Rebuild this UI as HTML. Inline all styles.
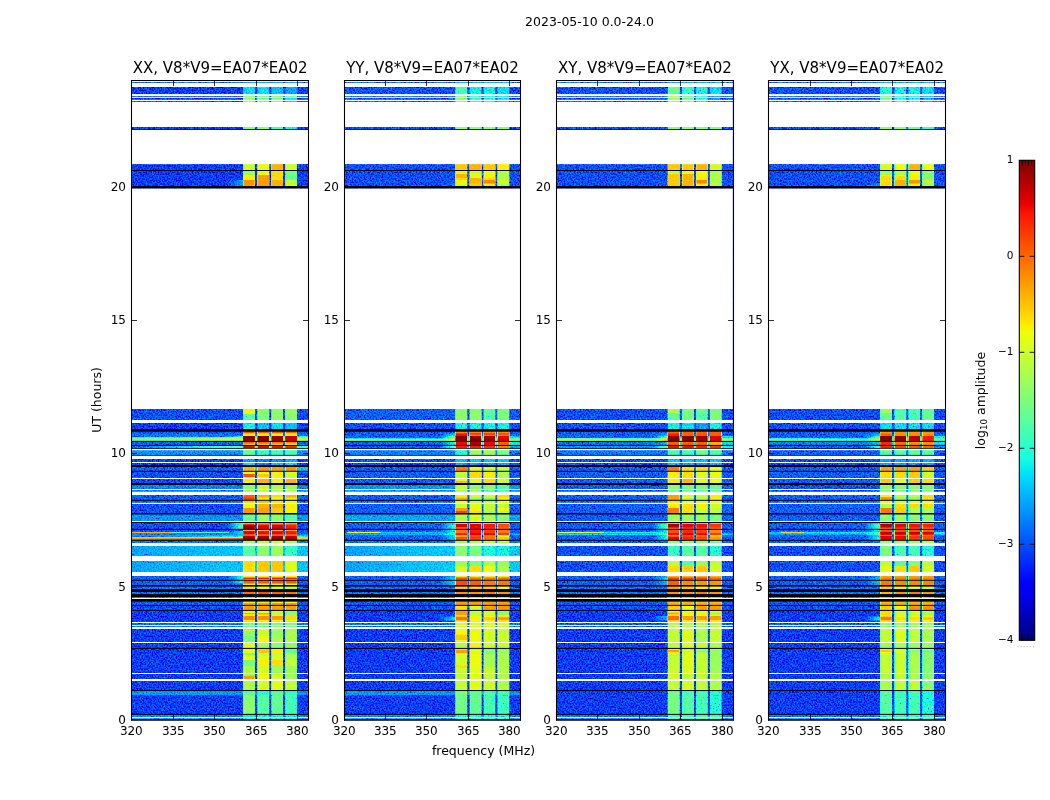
<!DOCTYPE html><html><head><meta charset="utf-8"><title>2023-05-10 0.0-24.0</title><style>html,body{margin:0;padding:0;background:#fff}svg{display:block}text{font-family:"DejaVu Sans","Liberation Sans",sans-serif;fill:#000}.tk{font-size:12px;letter-spacing:-.1px}.tt{font-size:15px}.st{font-size:12.5px}.lb{font-size:12.5px}.cb{font-size:10.5px}</style></head><body><svg width="1050" height="800" viewBox="0 0 1050 800"><defs><linearGradient id="g1" gradientUnits="userSpaceOnUse" x1="131.25" y1="0" x2="243.1" y2="0"><stop offset="0" stop-color="#303030"/><stop offset="0.86" stop-color="#303030"/><stop offset="1" stop-color="#4a4a4a"/></linearGradient><linearGradient id="g2" gradientUnits="userSpaceOnUse" x1="131.25" y1="0" x2="243.1" y2="0"><stop offset="0" stop-color="#3d3d3d"/><stop offset="0.86" stop-color="#3d3d3d"/><stop offset="1" stop-color="#707070"/></linearGradient><linearGradient id="g3" gradientUnits="userSpaceOnUse" x1="131.25" y1="0" x2="243.1" y2="0"><stop offset="0" stop-color="#5e5e5e"/><stop offset="0.86" stop-color="#757575"/><stop offset="1" stop-color="#8a8a8a"/></linearGradient><linearGradient id="g4" gradientUnits="userSpaceOnUse" x1="131.25" y1="0" x2="243.1" y2="0"><stop offset="0" stop-color="#7d7d7d"/><stop offset="0.86" stop-color="#999999"/><stop offset="1" stop-color="#9d9d9d"/></linearGradient><linearGradient id="g5" gradientUnits="userSpaceOnUse" x1="131.25" y1="0" x2="243.1" y2="0"><stop offset="0" stop-color="#6a6a6a"/><stop offset="0.86" stop-color="#7d7d7d"/><stop offset="1" stop-color="#808080"/></linearGradient><linearGradient id="g6" gradientUnits="userSpaceOnUse" x1="131.25" y1="0" x2="243.1" y2="0"><stop offset="0" stop-color="#383838"/><stop offset="0.86" stop-color="#727272"/><stop offset="1" stop-color="#7a7a7a"/></linearGradient><linearGradient id="g7" gradientUnits="userSpaceOnUse" x1="131.25" y1="0" x2="243.1" y2="0"><stop offset="0" stop-color="#343434"/><stop offset="0.86" stop-color="#343434"/><stop offset="1" stop-color="#707070"/></linearGradient><linearGradient id="g8" gradientUnits="userSpaceOnUse" x1="131.25" y1="0" x2="243.1" y2="0"><stop offset="0" stop-color="#343434"/><stop offset="0.86" stop-color="#343434"/><stop offset="1" stop-color="#757575"/></linearGradient><linearGradient id="g9" gradientUnits="userSpaceOnUse" x1="131.25" y1="0" x2="243.1" y2="0"><stop offset="0" stop-color="#383838"/><stop offset="0.86" stop-color="#383838"/><stop offset="1" stop-color="#5e5e5e"/></linearGradient><linearGradient id="g10" gradientUnits="userSpaceOnUse" x1="131.25" y1="0" x2="243.1" y2="0"><stop offset="0" stop-color="#383838"/><stop offset="0.86" stop-color="#5d5d5d"/><stop offset="1" stop-color="#646464"/></linearGradient><linearGradient id="g11" gradientUnits="userSpaceOnUse" x1="131.25" y1="0" x2="243.1" y2="0"><stop offset="0" stop-color="#a3a3a3"/><stop offset="0.86" stop-color="#b5b5b5"/><stop offset="1" stop-color="#b8b8b8"/></linearGradient><linearGradient id="g12" gradientUnits="userSpaceOnUse" x1="131.25" y1="0" x2="243.1" y2="0"><stop offset="0" stop-color="#cfcfcf"/><stop offset="0.86" stop-color="#e6e6e6"/><stop offset="1" stop-color="#ebebeb"/></linearGradient><linearGradient id="g13" gradientUnits="userSpaceOnUse" x1="131.25" y1="0" x2="243.1" y2="0"><stop offset="0" stop-color="#4a4a4a"/><stop offset="0.86" stop-color="#515151"/><stop offset="1" stop-color="#525252"/></linearGradient><linearGradient id="g14" gradientUnits="userSpaceOnUse" x1="131.25" y1="0" x2="243.1" y2="0"><stop offset="0" stop-color="#4a4a4a"/><stop offset="0.86" stop-color="#515151"/><stop offset="1" stop-color="#525252"/></linearGradient><linearGradient id="g15" gradientUnits="userSpaceOnUse" x1="131.25" y1="0" x2="243.1" y2="0"><stop offset="0" stop-color="#383838"/><stop offset="0.86" stop-color="#383838"/><stop offset="1" stop-color="#646464"/></linearGradient><linearGradient id="g16" gradientUnits="userSpaceOnUse" x1="131.25" y1="0" x2="243.1" y2="0"><stop offset="0" stop-color="#383838"/><stop offset="0.86" stop-color="#383838"/><stop offset="1" stop-color="#646464"/></linearGradient><linearGradient id="g17" gradientUnits="userSpaceOnUse" x1="131.25" y1="0" x2="243.1" y2="0"><stop offset="0" stop-color="#383838"/><stop offset="0.86" stop-color="#383838"/><stop offset="1" stop-color="#646464"/></linearGradient><linearGradient id="g18" gradientUnits="userSpaceOnUse" x1="131.25" y1="0" x2="243.1" y2="0"><stop offset="0" stop-color="#383838"/><stop offset="0.86" stop-color="#383838"/><stop offset="1" stop-color="#5e5e5e"/></linearGradient><clipPath id="cp0"><rect x="131.5" y="80.5" width="177" height="639.5"/></clipPath><linearGradient id="g19" gradientUnits="userSpaceOnUse" x1="343.53" y1="0" x2="455.38" y2="0"><stop offset="0" stop-color="#343434"/><stop offset="0.86" stop-color="#343434"/><stop offset="1" stop-color="#414141"/></linearGradient><linearGradient id="g20" gradientUnits="userSpaceOnUse" x1="343.53" y1="0" x2="455.38" y2="0"><stop offset="0" stop-color="#383838"/><stop offset="0.86" stop-color="#383838"/><stop offset="1" stop-color="#515151"/></linearGradient><linearGradient id="g21" gradientUnits="userSpaceOnUse" x1="343.53" y1="0" x2="455.38" y2="0"><stop offset="0" stop-color="#383838"/><stop offset="0.86" stop-color="#383838"/><stop offset="1" stop-color="#5e5e5e"/></linearGradient><linearGradient id="g22" gradientUnits="userSpaceOnUse" x1="343.53" y1="0" x2="455.38" y2="0"><stop offset="0" stop-color="#383838"/><stop offset="0.86" stop-color="#383838"/><stop offset="1" stop-color="#808080"/></linearGradient><linearGradient id="g23" gradientUnits="userSpaceOnUse" x1="343.53" y1="0" x2="455.38" y2="0"><stop offset="0" stop-color="#8a8a8a"/><stop offset="0.86" stop-color="#757575"/><stop offset="1" stop-color="#adadad"/></linearGradient><linearGradient id="g24" gradientUnits="userSpaceOnUse" x1="343.53" y1="0" x2="455.38" y2="0"><stop offset="0" stop-color="#383838"/><stop offset="0.86" stop-color="#383838"/><stop offset="1" stop-color="#646464"/></linearGradient><linearGradient id="g25" gradientUnits="userSpaceOnUse" x1="343.53" y1="0" x2="455.38" y2="0"><stop offset="0" stop-color="#383838"/><stop offset="0.86" stop-color="#383838"/><stop offset="1" stop-color="#7a7a7a"/></linearGradient><linearGradient id="g26" gradientUnits="userSpaceOnUse" x1="343.53" y1="0" x2="455.38" y2="0"><stop offset="0" stop-color="#383838"/><stop offset="0.86" stop-color="#383838"/><stop offset="1" stop-color="#585858"/></linearGradient><linearGradient id="g27" gradientUnits="userSpaceOnUse" x1="343.53" y1="0" x2="455.38" y2="0"><stop offset="0" stop-color="#383838"/><stop offset="0.86" stop-color="#383838"/><stop offset="1" stop-color="#6a6a6a"/></linearGradient><linearGradient id="g28" gradientUnits="userSpaceOnUse" x1="343.53" y1="0" x2="455.38" y2="0"><stop offset="0" stop-color="#383838"/><stop offset="0.86" stop-color="#383838"/><stop offset="1" stop-color="#6a6a6a"/></linearGradient><linearGradient id="g29" gradientUnits="userSpaceOnUse" x1="343.53" y1="0" x2="455.38" y2="0"><stop offset="0" stop-color="#383838"/><stop offset="0.86" stop-color="#383838"/><stop offset="1" stop-color="#646464"/></linearGradient><linearGradient id="g30" gradientUnits="userSpaceOnUse" x1="343.53" y1="0" x2="455.38" y2="0"><stop offset="0" stop-color="#585858"/><stop offset="0.86" stop-color="#585858"/><stop offset="1" stop-color="#7a7a7a"/></linearGradient><linearGradient id="g31" gradientUnits="userSpaceOnUse" x1="343.53" y1="0" x2="455.38" y2="0"><stop offset="0" stop-color="#383838"/><stop offset="0.86" stop-color="#383838"/><stop offset="1" stop-color="#585858"/></linearGradient><linearGradient id="g32" gradientUnits="userSpaceOnUse" x1="343.53" y1="0" x2="455.38" y2="0"><stop offset="0" stop-color="#383838"/><stop offset="0.86" stop-color="#383838"/><stop offset="1" stop-color="#585858"/></linearGradient><linearGradient id="g33" gradientUnits="userSpaceOnUse" x1="343.53" y1="0" x2="455.38" y2="0"><stop offset="0" stop-color="#494949"/><stop offset="0.86" stop-color="#535353"/><stop offset="1" stop-color="#545454"/></linearGradient><linearGradient id="g34" gradientUnits="userSpaceOnUse" x1="343.53" y1="0" x2="455.38" y2="0"><stop offset="0" stop-color="#494949"/><stop offset="0.86" stop-color="#535353"/><stop offset="1" stop-color="#545454"/></linearGradient><linearGradient id="g35" gradientUnits="userSpaceOnUse" x1="343.53" y1="0" x2="455.38" y2="0"><stop offset="0" stop-color="#494949"/><stop offset="0.86" stop-color="#535353"/><stop offset="1" stop-color="#545454"/></linearGradient><linearGradient id="g36" gradientUnits="userSpaceOnUse" x1="343.53" y1="0" x2="455.38" y2="0"><stop offset="0" stop-color="#383838"/><stop offset="0.86" stop-color="#383838"/><stop offset="1" stop-color="#515151"/></linearGradient><linearGradient id="g37" gradientUnits="userSpaceOnUse" x1="343.53" y1="0" x2="455.38" y2="0"><stop offset="0" stop-color="#383838"/><stop offset="0.86" stop-color="#383838"/><stop offset="1" stop-color="#585858"/></linearGradient><linearGradient id="g38" gradientUnits="userSpaceOnUse" x1="343.53" y1="0" x2="455.38" y2="0"><stop offset="0" stop-color="#383838"/><stop offset="0.86" stop-color="#383838"/><stop offset="1" stop-color="#585858"/></linearGradient><linearGradient id="g39" gradientUnits="userSpaceOnUse" x1="343.53" y1="0" x2="455.38" y2="0"><stop offset="0" stop-color="#303030"/><stop offset="0.86" stop-color="#303030"/><stop offset="1" stop-color="#5e5e5e"/></linearGradient><clipPath id="cp1"><rect x="344.5" y="80.5" width="176" height="639.5"/></clipPath><linearGradient id="g40" gradientUnits="userSpaceOnUse" x1="555.95" y1="0" x2="667.8" y2="0"><stop offset="0" stop-color="#383838"/><stop offset="0.86" stop-color="#383838"/><stop offset="1" stop-color="#515151"/></linearGradient><linearGradient id="g41" gradientUnits="userSpaceOnUse" x1="555.95" y1="0" x2="667.8" y2="0"><stop offset="0" stop-color="#383838"/><stop offset="0.86" stop-color="#383838"/><stop offset="1" stop-color="#707070"/></linearGradient><linearGradient id="g42" gradientUnits="userSpaceOnUse" x1="555.95" y1="0" x2="667.8" y2="0"><stop offset="0" stop-color="#9b9b9b"/><stop offset="0.86" stop-color="#808080"/><stop offset="1" stop-color="#b8b8b8"/></linearGradient><linearGradient id="g43" gradientUnits="userSpaceOnUse" x1="555.95" y1="0" x2="667.8" y2="0"><stop offset="0" stop-color="#3d3d3d"/><stop offset="0.86" stop-color="#3d3d3d"/><stop offset="1" stop-color="#515151"/></linearGradient><linearGradient id="g44" gradientUnits="userSpaceOnUse" x1="555.95" y1="0" x2="667.8" y2="0"><stop offset="0" stop-color="#454545"/><stop offset="0.86" stop-color="#454545"/><stop offset="1" stop-color="#7a7a7a"/></linearGradient><linearGradient id="g45" gradientUnits="userSpaceOnUse" x1="555.95" y1="0" x2="667.8" y2="0"><stop offset="0" stop-color="#383838"/><stop offset="0.86" stop-color="#383838"/><stop offset="1" stop-color="#5e5e5e"/></linearGradient><linearGradient id="g46" gradientUnits="userSpaceOnUse" x1="555.95" y1="0" x2="667.8" y2="0"><stop offset="0" stop-color="#383838"/><stop offset="0.86" stop-color="#383838"/><stop offset="1" stop-color="#757575"/></linearGradient><linearGradient id="g47" gradientUnits="userSpaceOnUse" x1="555.95" y1="0" x2="667.8" y2="0"><stop offset="0" stop-color="#383838"/><stop offset="0.86" stop-color="#383838"/><stop offset="1" stop-color="#707070"/></linearGradient><linearGradient id="g48" gradientUnits="userSpaceOnUse" x1="555.95" y1="0" x2="667.8" y2="0"><stop offset="0" stop-color="#383838"/><stop offset="0.86" stop-color="#383838"/><stop offset="1" stop-color="#5e5e5e"/></linearGradient><linearGradient id="g49" gradientUnits="userSpaceOnUse" x1="555.95" y1="0" x2="667.8" y2="0"><stop offset="0" stop-color="#646464"/><stop offset="0.86" stop-color="#646464"/><stop offset="1" stop-color="#808080"/></linearGradient><linearGradient id="g50" gradientUnits="userSpaceOnUse" x1="555.95" y1="0" x2="667.8" y2="0"><stop offset="0" stop-color="#383838"/><stop offset="0.86" stop-color="#383838"/><stop offset="1" stop-color="#5e5e5e"/></linearGradient><linearGradient id="g51" gradientUnits="userSpaceOnUse" x1="555.95" y1="0" x2="667.8" y2="0"><stop offset="0" stop-color="#383838"/><stop offset="0.86" stop-color="#383838"/><stop offset="1" stop-color="#646464"/></linearGradient><linearGradient id="g52" gradientUnits="userSpaceOnUse" x1="555.95" y1="0" x2="667.8" y2="0"><stop offset="0" stop-color="#383838"/><stop offset="0.86" stop-color="#383838"/><stop offset="1" stop-color="#515151"/></linearGradient><linearGradient id="g53" gradientUnits="userSpaceOnUse" x1="555.95" y1="0" x2="667.8" y2="0"><stop offset="0" stop-color="#383838"/><stop offset="0.86" stop-color="#383838"/><stop offset="1" stop-color="#585858"/></linearGradient><linearGradient id="g54" gradientUnits="userSpaceOnUse" x1="555.95" y1="0" x2="667.8" y2="0"><stop offset="0" stop-color="#383838"/><stop offset="0.86" stop-color="#383838"/><stop offset="1" stop-color="#515151"/></linearGradient><linearGradient id="g55" gradientUnits="userSpaceOnUse" x1="555.95" y1="0" x2="667.8" y2="0"><stop offset="0" stop-color="#303030"/><stop offset="0.86" stop-color="#303030"/><stop offset="1" stop-color="#515151"/></linearGradient><clipPath id="cp2"><rect x="556.5" y="80.5" width="177" height="639.5"/></clipPath><linearGradient id="g56" gradientUnits="userSpaceOnUse" x1="768.3" y1="0" x2="880.15" y2="0"><stop offset="0" stop-color="#343434"/><stop offset="0.86" stop-color="#343434"/><stop offset="1" stop-color="#454545"/></linearGradient><linearGradient id="g57" gradientUnits="userSpaceOnUse" x1="768.3" y1="0" x2="880.15" y2="0"><stop offset="0" stop-color="#383838"/><stop offset="0.86" stop-color="#383838"/><stop offset="1" stop-color="#515151"/></linearGradient><linearGradient id="g58" gradientUnits="userSpaceOnUse" x1="768.3" y1="0" x2="880.15" y2="0"><stop offset="0" stop-color="#383838"/><stop offset="0.86" stop-color="#383838"/><stop offset="1" stop-color="#7a7a7a"/></linearGradient><linearGradient id="g59" gradientUnits="userSpaceOnUse" x1="768.3" y1="0" x2="880.15" y2="0"><stop offset="0" stop-color="#7a7a7a"/><stop offset="0.86" stop-color="#6a6a6a"/><stop offset="1" stop-color="#969696"/></linearGradient><linearGradient id="g60" gradientUnits="userSpaceOnUse" x1="768.3" y1="0" x2="880.15" y2="0"><stop offset="0" stop-color="#414141"/><stop offset="0.86" stop-color="#414141"/><stop offset="1" stop-color="#515151"/></linearGradient><linearGradient id="g61" gradientUnits="userSpaceOnUse" x1="768.3" y1="0" x2="880.15" y2="0"><stop offset="0" stop-color="#383838"/><stop offset="0.86" stop-color="#383838"/><stop offset="1" stop-color="#707070"/></linearGradient><linearGradient id="g62" gradientUnits="userSpaceOnUse" x1="768.3" y1="0" x2="880.15" y2="0"><stop offset="0" stop-color="#383838"/><stop offset="0.86" stop-color="#383838"/><stop offset="1" stop-color="#5e5e5e"/></linearGradient><linearGradient id="g63" gradientUnits="userSpaceOnUse" x1="768.3" y1="0" x2="880.15" y2="0"><stop offset="0" stop-color="#383838"/><stop offset="0.86" stop-color="#383838"/><stop offset="1" stop-color="#757575"/></linearGradient><linearGradient id="g64" gradientUnits="userSpaceOnUse" x1="768.3" y1="0" x2="880.15" y2="0"><stop offset="0" stop-color="#383838"/><stop offset="0.86" stop-color="#383838"/><stop offset="1" stop-color="#707070"/></linearGradient><linearGradient id="g65" gradientUnits="userSpaceOnUse" x1="768.3" y1="0" x2="880.15" y2="0"><stop offset="0" stop-color="#383838"/><stop offset="0.86" stop-color="#383838"/><stop offset="1" stop-color="#5e5e5e"/></linearGradient><linearGradient id="g66" gradientUnits="userSpaceOnUse" x1="768.3" y1="0" x2="880.15" y2="0"><stop offset="0" stop-color="#515151"/><stop offset="0.86" stop-color="#515151"/><stop offset="1" stop-color="#7a7a7a"/></linearGradient><linearGradient id="g67" gradientUnits="userSpaceOnUse" x1="768.3" y1="0" x2="880.15" y2="0"><stop offset="0" stop-color="#383838"/><stop offset="0.86" stop-color="#383838"/><stop offset="1" stop-color="#5e5e5e"/></linearGradient><linearGradient id="g68" gradientUnits="userSpaceOnUse" x1="768.3" y1="0" x2="880.15" y2="0"><stop offset="0" stop-color="#383838"/><stop offset="0.86" stop-color="#383838"/><stop offset="1" stop-color="#646464"/></linearGradient><linearGradient id="g69" gradientUnits="userSpaceOnUse" x1="768.3" y1="0" x2="880.15" y2="0"><stop offset="0" stop-color="#383838"/><stop offset="0.86" stop-color="#383838"/><stop offset="1" stop-color="#4a4a4a"/></linearGradient><linearGradient id="g70" gradientUnits="userSpaceOnUse" x1="768.3" y1="0" x2="880.15" y2="0"><stop offset="0" stop-color="#383838"/><stop offset="0.86" stop-color="#383838"/><stop offset="1" stop-color="#515151"/></linearGradient><linearGradient id="g71" gradientUnits="userSpaceOnUse" x1="768.3" y1="0" x2="880.15" y2="0"><stop offset="0" stop-color="#383838"/><stop offset="0.86" stop-color="#383838"/><stop offset="1" stop-color="#515151"/></linearGradient><linearGradient id="g72" gradientUnits="userSpaceOnUse" x1="768.3" y1="0" x2="880.15" y2="0"><stop offset="0" stop-color="#303030"/><stop offset="0.86" stop-color="#303030"/><stop offset="1" stop-color="#5e5e5e"/></linearGradient><clipPath id="cp3"><rect x="768.5" y="80.5" width="177" height="639.5"/></clipPath><filter id="jet" x="-0.02" y="-0.01" width="1.04" height="1.02" color-interpolation-filters="sRGB"><feGaussianBlur in="SourceGraphic" stdDeviation="0.65 0.45" result="sb"/><feColorMatrix in="sb" type="matrix" values="0 0 0 0 1 0 0 0 0 1 0 0 0 0 1 1 0 0 0 0"/><feComponentTransfer result="wm"><feFuncA type="table" tableValues="0.85 0.85 0.85 0.82 0.78 0.58 0.41 0.44 0.6 0.46 0.32 0.26 0.2 0.17 0.13 0.1 0.1 0.1 0.1 0.1 0.1"/></feComponentTransfer><feTurbulence type="fractalNoise" baseFrequency="0.67 0.61" numOctaves="1" seed="7"/><feColorMatrix type="matrix" values="1 0 0 0 0 1 0 0 0 0 1 0 0 0 0 0 0 0 0 1"/><feComponentTransfer result="ng"><feFuncR type="table" tableValues="0.366 0.366 0.366 0.366 0.366 0.366 0.366 0.366 0.366 0.366 0.366 0.366 0.399 0.438 0.469 0.497 0.524 0.554 0.582 0.605 0.625 0.642 0.656 0.668 0.679 0.689 0.697 0.706 0.715 0.724 0.733 0.741 0.748 0.756 0.764 0.771 0.777 0.783 0.789 0.794 0.799 0.804 0.809 0.814 0.819 0.825 0.831 0.837 0.842 0.847 0.851 0.856 0.859 0.862 0.862 0.862 0.862 0.862 0.862 0.862 0.862 0.862 0.862 0.862 0.862"/><feFuncG type="table" tableValues="0.366 0.366 0.366 0.366 0.366 0.366 0.366 0.366 0.366 0.366 0.366 0.366 0.399 0.438 0.469 0.497 0.524 0.554 0.582 0.605 0.625 0.642 0.656 0.668 0.679 0.689 0.697 0.706 0.715 0.724 0.733 0.741 0.748 0.756 0.764 0.771 0.777 0.783 0.789 0.794 0.799 0.804 0.809 0.814 0.819 0.825 0.831 0.837 0.842 0.847 0.851 0.856 0.859 0.862 0.862 0.862 0.862 0.862 0.862 0.862 0.862 0.862 0.862 0.862 0.862"/><feFuncB type="table" tableValues="0.366 0.366 0.366 0.366 0.366 0.366 0.366 0.366 0.366 0.366 0.366 0.366 0.399 0.438 0.469 0.497 0.524 0.554 0.582 0.605 0.625 0.642 0.656 0.668 0.679 0.689 0.697 0.706 0.715 0.724 0.733 0.741 0.748 0.756 0.764 0.771 0.777 0.783 0.789 0.794 0.799 0.804 0.809 0.814 0.819 0.825 0.831 0.837 0.842 0.847 0.851 0.856 0.859 0.862 0.862 0.862 0.862 0.862 0.862 0.862 0.862 0.862 0.862 0.862 0.862"/></feComponentTransfer><feComposite in="ng" in2="wm" operator="in" result="nw"/><feFlood flood-color="rgb(191,191,191)" result="fl"/><feComposite in="nw" in2="fl" operator="over" result="t1"/><feComposite in="sb" in2="t1" operator="arithmetic" k1="0" k2="1" k3="1" k4="-0.749" result="v"/><feComponentTransfer in="v"><feFuncR type="table" tableValues="0 0 0 0 0 0 0 0 0 0 0 0 0 0 0 0 0 0 0 0 0 0 0 0 0 0 0 0 0 0 0 0 0 0 0 0 0.03 0.06 0.1 0.13 0.16 0.19 0.23 0.26 0.29 0.32 0.35 0.39 0.42 0.45 0.48 0.52 0.55 0.58 0.61 0.65 0.68 0.71 0.74 0.77 0.81 0.84 0.87 0.9 0.94 0.97 1 1 1 1 1 1 1 1 1 1 1 1 1 1 1 1 1 1 1 1 1 1 1 1 0.95 0.91 0.86 0.82 0.77 0.73 0.68 0.64 0.59 0.55 0.5"/><feFuncG type="table" tableValues="0 0 0 0 0 0 0 0 0 0 0 0 0 0.02 0.06 0.1 0.14 0.18 0.22 0.26 0.3 0.34 0.38 0.42 0.46 0.5 0.54 0.58 0.62 0.66 0.7 0.74 0.78 0.82 0.86 0.9 0.94 0.98 1 1 1 1 1 1 1 1 1 1 1 1 1 1 1 1 1 1 1 1 1 1 1 1 1 1 1 0.96 0.93 0.89 0.85 0.81 0.78 0.74 0.7 0.67 0.63 0.59 0.56 0.52 0.48 0.44 0.41 0.37 0.33 0.3 0.26 0.22 0.19 0.15 0.11 0.07 0.04 0 0 0 0 0 0 0 0 0 0"/><feFuncB type="table" tableValues="0.5 0.55 0.59 0.64 0.68 0.73 0.77 0.82 0.86 0.91 0.95 1 1 1 1 1 1 1 1 1 1 1 1 1 1 1 1 1 1 1 1 1 1 1 1 0.97 0.94 0.9 0.87 0.84 0.81 0.77 0.74 0.71 0.68 0.65 0.61 0.58 0.55 0.52 0.48 0.45 0.42 0.39 0.35 0.32 0.29 0.26 0.23 0.19 0.16 0.13 0.1 0.06 0.03 0 0 0 0 0 0 0 0 0 0 0 0 0 0 0 0 0 0 0 0 0 0 0 0 0 0 0 0 0 0 0 0 0 0 0 0"/></feComponentTransfer></filter><linearGradient id="cb" x1="0" y1="0" x2="0" y2="1"><stop offset="0" stop-color="rgb(128,0,0)"/><stop offset="0.09" stop-color="rgb(232,0,0)"/><stop offset="0.11" stop-color="rgb(255,19,0)"/><stop offset="0.34" stop-color="rgb(255,233,0)"/><stop offset="0.35" stop-color="rgb(247,244,0)"/><stop offset="0.36" stop-color="rgb(239,255,8)"/><stop offset="0.5" stop-color="rgb(124,255,121)"/><stop offset="0.62" stop-color="rgb(21,255,226)"/><stop offset="0.65" stop-color="rgb(0,229,247)"/><stop offset="0.66" stop-color="rgb(0,219,255)"/><stop offset="0.88" stop-color="rgb(0,0,255)"/><stop offset="0.89" stop-color="rgb(0,0,255)"/><stop offset="1" stop-color="rgb(0,0,128)"/></linearGradient></defs><g clip-path="url(#cp0)"><g filter="url(#jet)"><rect x="129.25" y="78" width="180.9" height="644" fill="#303030"/><rect x="131.25" y="80.95" width="176.9" height="3.15" fill="#383838"/><rect x="131.25" y="85.8" width="176.9" height="9.15" fill="#303030"/><rect x="131.25" y="95.05" width="176.9" height="2.3" fill="#303030"/><rect x="131.25" y="97.35" width="176.9" height="3.05" fill="#303030"/><rect x="131.25" y="100.4" width="176.9" height="2.7" fill="#303030"/><rect x="131.25" y="125.8" width="176.9" height="3.65" fill="#303030"/><rect x="131.25" y="162.9" width="176.9" height="7.6" fill="#303030"/><rect x="131.25" y="170.5" width="176.9" height="5.5" fill="#303030"/><rect x="131.25" y="175" width="176.9" height="6" fill="#303030"/><rect x="131.25" y="180" width="112.35" height="7.2" fill="url(#g1)"/><rect x="243.1" y="180" width="65.05" height="7.2" fill="#303030"/><rect x="131.25" y="407.8" width="176.9" height="7.2" fill="#343434"/><rect x="131.25" y="414" width="176.9" height="7.2" fill="#343434"/><rect x="131.25" y="421.8" width="176.9" height="8.4" fill="#303030"/><rect x="131.25" y="430.5" width="176.9" height="3.7" fill="#383838"/><rect x="131.25" y="433.2" width="176.9" height="3.8" fill="#3d3d3d"/><rect x="131.25" y="436" width="112.35" height="2" fill="url(#g2)"/><rect x="243.1" y="436" width="65.05" height="2" fill="#646464"/><rect x="131.25" y="437" width="112.35" height="2.2" fill="url(#g3)"/><rect x="243.1" y="437" width="65.05" height="2.2" fill="#7a7a7a"/><rect x="131.25" y="438.2" width="112.35" height="3.2" fill="url(#g4)"/><rect x="243.1" y="438.2" width="65.05" height="3.2" fill="#9b9b9b"/><rect x="131.25" y="440.4" width="112.35" height="1" fill="url(#g5)"/><rect x="243.1" y="440.4" width="65.05" height="1" fill="#808080"/><rect x="131.25" y="441.4" width="176.9" height="3.1" fill="#383838"/><rect x="131.25" y="443.5" width="176.9" height="1.9" fill="#383838"/><rect x="131.25" y="445.4" width="112.35" height="3.1" fill="url(#g6)"/><rect x="243.1" y="445.4" width="65.05" height="3.1" fill="#707070"/><rect x="131.25" y="449.55" width="176.9" height="5.8" fill="#454545"/><rect x="131.25" y="457.8" width="176.9" height="4.7" fill="#303030"/><rect x="131.25" y="462.5" width="176.9" height="3.5" fill="#303030"/><rect x="131.25" y="466" width="176.9" height="5.3" fill="#383838"/><rect x="296.9" y="466" width="11.25" height="5.3" fill="#515151"/><rect x="131.25" y="471.3" width="176.9" height="3.7" fill="#343434"/><rect x="131.25" y="474" width="176.9" height="4" fill="#343434"/><rect x="131.25" y="477" width="176.9" height="1.5" fill="#343434"/><rect x="131.25" y="478.5" width="176.9" height="5.5" fill="#343434"/><rect x="131.25" y="484" width="176.9" height="5.5" fill="#414141"/><rect x="131.25" y="489.5" width="176.9" height="3.5" fill="#414141"/><rect x="131.25" y="493.8" width="176.9" height="4.7" fill="#383838"/><rect x="131.25" y="497.5" width="176.9" height="2.8" fill="#383838"/><rect x="131.25" y="500.3" width="176.9" height="3.1" fill="#383838"/><rect x="131.25" y="503.4" width="176.9" height="5.6" fill="#343434"/><rect x="131.25" y="508" width="176.9" height="5.75" fill="#343434"/><rect x="131.25" y="513.75" width="176.9" height="7.75" fill="#454545"/><rect x="131.25" y="522.5" width="112.35" height="3" fill="url(#g7)"/><rect x="243.1" y="522.5" width="65.05" height="3" fill="#343434"/><rect x="131.25" y="524.5" width="112.35" height="4.85" fill="url(#g8)"/><rect x="243.1" y="524.5" width="65.05" height="4.85" fill="#343434"/><rect x="131.25" y="529.35" width="176.9" height="2.65" fill="#343434"/><rect x="131.25" y="531" width="112.35" height="4.5" fill="url(#g9)"/><rect x="243.1" y="531" width="65.05" height="4.5" fill="#383838"/><rect x="131.25" y="534.5" width="176.9" height="2.2" fill="#4a4a4a"/><rect x="131.25" y="535.7" width="112.35" height="2.8" fill="url(#g10)"/><rect x="243.1" y="535.7" width="65.05" height="2.8" fill="#646464"/><rect x="131.25" y="537.5" width="112.35" height="2" fill="url(#g11)"/><rect x="243.1" y="537.5" width="65.05" height="2" fill="#a3a3a3"/><rect x="131.25" y="538.5" width="112.35" height="1.8" fill="url(#g12)"/><rect x="243.1" y="538.5" width="65.05" height="1.8" fill="#c4c4c4"/><rect x="131.25" y="540.3" width="176.9" height="3.9" fill="#3d3d3d"/><rect x="131.25" y="544.8" width="112.35" height="12.4" fill="url(#g13)"/><rect x="243.1" y="544.8" width="65.05" height="12.4" fill="#525252"/><rect x="131.25" y="559.8" width="112.35" height="13.4" fill="url(#g14)"/><rect x="243.1" y="559.8" width="65.05" height="13.4" fill="#525252"/><rect x="131.25" y="574.8" width="112.35" height="3.7" fill="url(#g15)"/><rect x="243.1" y="574.8" width="65.05" height="3.7" fill="#383838"/><rect x="131.25" y="577.5" width="112.35" height="2.5" fill="url(#g16)"/><rect x="243.1" y="577.5" width="65.05" height="2.5" fill="#383838"/><rect x="131.25" y="579" width="112.35" height="1.3" fill="url(#g17)"/><rect x="243.1" y="579" width="65.05" height="1.3" fill="#383838"/><rect x="131.25" y="580.3" width="112.35" height="4.2" fill="url(#g18)"/><rect x="243.1" y="580.3" width="65.05" height="4.2" fill="#383838"/><rect x="131.25" y="583.5" width="176.9" height="2.3" fill="#383838"/><rect x="131.25" y="585.8" width="176.9" height="4.4" fill="#3d3d3d"/><rect x="131.25" y="590.8" width="176.9" height="4.4" fill="#3d3d3d"/><rect x="131.25" y="595.8" width="176.9" height="2.7" fill="#414141"/><rect x="131.25" y="600.4" width="176.9" height="3.6" fill="#383838"/><rect x="131.25" y="603" width="176.9" height="2.35" fill="#383838"/><rect x="131.25" y="605.35" width="176.9" height="5.05" fill="#343434"/><rect x="131.25" y="610.4" width="176.9" height="3.6" fill="#303030"/><rect x="131.25" y="613" width="176.9" height="2.5" fill="#303030"/><rect x="131.25" y="614.5" width="176.9" height="2.5" fill="#303030"/><rect x="131.25" y="616" width="176.9" height="5.5" fill="#303030"/><rect x="131.25" y="620.5" width="176.9" height="2" fill="#303030"/><rect x="131.25" y="622.5" width="176.9" height="3" fill="#3d3d3d"/><rect x="131.25" y="625.5" width="176.9" height="2.5" fill="#3d3d3d"/><rect x="131.25" y="628" width="176.9" height="3.5" fill="#303030"/><rect x="131.25" y="630.5" width="176.9" height="6.5" fill="#303030"/><rect x="131.25" y="636" width="176.9" height="6.5" fill="#303030"/><rect x="131.25" y="642.5" width="176.9" height="5.9" fill="#303030"/><rect x="131.25" y="648.4" width="176.9" height="5.6" fill="#303030"/><rect x="131.25" y="653" width="176.9" height="3" fill="#303030"/><rect x="131.25" y="655" width="176.9" height="6" fill="#303030"/><rect x="131.25" y="660" width="176.9" height="7" fill="#303030"/><rect x="131.25" y="666" width="176.9" height="7.5" fill="#303030"/><rect x="131.25" y="673.5" width="176.9" height="3.5" fill="#303030"/><rect x="131.25" y="676" width="176.9" height="4" fill="#303030"/><rect x="131.25" y="680" width="176.9" height="10.55" fill="#303030"/><rect x="131.25" y="690.55" width="176.9" height="5.45" fill="#474747"/><rect x="131.25" y="695" width="176.9" height="19.35" fill="#303030"/><rect x="131.25" y="714.35" width="176.9" height="3.25" fill="#434343"/><rect x="131.25" y="717.6" width="176.9" height="1.9" fill="#434343"/><rect x="254.8" y="80.95" width="2.7" height="3.15" fill="#383838"/><rect x="269.1" y="80.95" width="2.4" height="3.15" fill="#383838"/><rect x="282.9" y="80.95" width="2.4" height="3.15" fill="#383838"/><rect x="243.1" y="80.95" width="11.8" height="3.15" fill="#4a4a4a"/><rect x="257.4" y="80.95" width="11.8" height="3.15" fill="#4a4a4a"/><rect x="271.4" y="80.95" width="11.6" height="3.15" fill="#4a4a4a"/><rect x="285.2" y="80.95" width="11.7" height="3.15" fill="#4a4a4a"/><rect x="254.8" y="85.8" width="2.7" height="9.15" fill="#303030"/><rect x="269.1" y="85.8" width="2.4" height="9.15" fill="#303030"/><rect x="282.9" y="85.8" width="2.4" height="9.15" fill="#303030"/><rect x="243.1" y="85.8" width="11.8" height="9.15" fill="#585858"/><rect x="257.4" y="85.8" width="11.8" height="9.15" fill="#585858"/><rect x="271.4" y="85.8" width="11.6" height="9.15" fill="#515151"/><rect x="285.2" y="85.8" width="11.7" height="9.15" fill="#4a4a4a"/><rect x="254.8" y="95.05" width="2.7" height="2.3" fill="#303030"/><rect x="269.1" y="95.05" width="2.4" height="2.3" fill="#303030"/><rect x="282.9" y="95.05" width="2.4" height="2.3" fill="#303030"/><rect x="243.1" y="95.05" width="11.8" height="2.3" fill="#7a7a7a"/><rect x="257.4" y="95.05" width="11.8" height="2.3" fill="#7a7a7a"/><rect x="271.4" y="95.05" width="11.6" height="2.3" fill="#7a7a7a"/><rect x="285.2" y="95.05" width="11.7" height="2.3" fill="#7a7a7a"/><rect x="254.8" y="97.35" width="2.7" height="3.05" fill="#303030"/><rect x="269.1" y="97.35" width="2.4" height="3.05" fill="#303030"/><rect x="282.9" y="97.35" width="2.4" height="3.05" fill="#303030"/><rect x="243.1" y="97.35" width="11.8" height="3.05" fill="#8a8a8a"/><rect x="257.4" y="97.35" width="11.8" height="3.05" fill="#808080"/><rect x="271.4" y="97.35" width="11.6" height="3.05" fill="#808080"/><rect x="285.2" y="97.35" width="11.7" height="3.05" fill="#585858"/><rect x="254.8" y="100.4" width="2.7" height="2.7" fill="#303030"/><rect x="269.1" y="100.4" width="2.4" height="2.7" fill="#303030"/><rect x="282.9" y="100.4" width="2.4" height="2.7" fill="#303030"/><rect x="243.1" y="100.4" width="11.8" height="2.7" fill="#808080"/><rect x="257.4" y="100.4" width="11.8" height="2.7" fill="#757575"/><rect x="271.4" y="100.4" width="11.6" height="2.7" fill="#7a7a7a"/><rect x="285.2" y="100.4" width="11.7" height="2.7" fill="#515151"/><rect x="254.8" y="125.8" width="2.7" height="3.65" fill="#303030"/><rect x="269.1" y="125.8" width="2.4" height="3.65" fill="#303030"/><rect x="282.9" y="125.8" width="2.4" height="3.65" fill="#303030"/><rect x="243.1" y="125.8" width="11.8" height="3.65" fill="#858585"/><rect x="257.4" y="125.8" width="11.8" height="3.65" fill="#8a8a8a"/><rect x="271.4" y="125.8" width="11.6" height="3.65" fill="#707070"/><rect x="285.2" y="125.8" width="11.7" height="3.65" fill="#5e5e5e"/><rect x="254.8" y="162.9" width="2.7" height="7.6" fill="#303030"/><rect x="269.1" y="162.9" width="2.4" height="7.6" fill="#303030"/><rect x="282.9" y="162.9" width="2.4" height="7.6" fill="#303030"/><rect x="243.1" y="162.9" width="11.8" height="7.6" fill="#969696"/><rect x="257.4" y="162.9" width="11.8" height="7.6" fill="#a3a3a3"/><rect x="271.4" y="162.9" width="11.6" height="7.6" fill="#b8b8b8"/><rect x="285.2" y="162.9" width="11.7" height="7.6" fill="#9b9b9b"/><rect x="254.8" y="170.5" width="2.7" height="5.5" fill="#303030"/><rect x="269.1" y="170.5" width="2.4" height="5.5" fill="#303030"/><rect x="282.9" y="170.5" width="2.4" height="5.5" fill="#303030"/><rect x="243.1" y="170.5" width="11.8" height="5.5" fill="#8a8a8a"/><rect x="257.4" y="170.5" width="11.8" height="5.5" fill="#a3a3a3"/><rect x="271.4" y="170.5" width="11.6" height="5.5" fill="#adadad"/><rect x="285.2" y="170.5" width="11.7" height="5.5" fill="#808080"/><rect x="254.8" y="175" width="2.7" height="6" fill="#303030"/><rect x="269.1" y="175" width="2.4" height="6" fill="#303030"/><rect x="282.9" y="175" width="2.4" height="6" fill="#303030"/><rect x="243.1" y="175" width="11.8" height="6" fill="#a7a7a7"/><rect x="257.4" y="175" width="11.8" height="6" fill="#bdbdbd"/><rect x="271.4" y="175" width="11.6" height="6" fill="#adadad"/><rect x="285.2" y="175" width="11.7" height="6" fill="#7a7a7a"/><rect x="254.8" y="180" width="2.7" height="7.2" fill="#303030"/><rect x="269.1" y="180" width="2.4" height="7.2" fill="#303030"/><rect x="282.9" y="180" width="2.4" height="7.2" fill="#303030"/><rect x="243.1" y="180" width="11.8" height="7.2" fill="#c1c1c1"/><rect x="257.4" y="180" width="11.8" height="7.2" fill="#bdbdbd"/><rect x="271.4" y="180" width="11.6" height="7.2" fill="#b8b8b8"/><rect x="285.2" y="180" width="11.7" height="7.2" fill="#969696"/><rect x="254.8" y="407.8" width="2.7" height="7.2" fill="#343434"/><rect x="269.1" y="407.8" width="2.4" height="7.2" fill="#343434"/><rect x="282.9" y="407.8" width="2.4" height="7.2" fill="#343434"/><rect x="243.1" y="407.8" width="11.8" height="7.2" fill="#a7a7a7"/><rect x="257.4" y="407.8" width="11.8" height="7.2" fill="#858585"/><rect x="271.4" y="407.8" width="11.6" height="7.2" fill="#858585"/><rect x="285.2" y="407.8" width="11.7" height="7.2" fill="#8a8a8a"/><rect x="254.8" y="414" width="2.7" height="7.2" fill="#343434"/><rect x="269.1" y="414" width="2.4" height="7.2" fill="#343434"/><rect x="282.9" y="414" width="2.4" height="7.2" fill="#343434"/><rect x="243.1" y="414" width="11.8" height="7.2" fill="#757575"/><rect x="257.4" y="414" width="11.8" height="7.2" fill="#808080"/><rect x="271.4" y="414" width="11.6" height="7.2" fill="#858585"/><rect x="285.2" y="414" width="11.7" height="7.2" fill="#858585"/><rect x="254.8" y="421.8" width="2.7" height="8.4" fill="#303030"/><rect x="269.1" y="421.8" width="2.4" height="8.4" fill="#303030"/><rect x="282.9" y="421.8" width="2.4" height="8.4" fill="#303030"/><rect x="243.1" y="421.8" width="11.8" height="8.4" fill="#5e5e5e"/><rect x="257.4" y="421.8" width="11.8" height="8.4" fill="#515151"/><rect x="271.4" y="421.8" width="11.6" height="8.4" fill="#585858"/><rect x="285.2" y="421.8" width="11.7" height="8.4" fill="#515151"/><rect x="254.8" y="430.5" width="2.7" height="3.7" fill="#383838"/><rect x="269.1" y="430.5" width="2.4" height="3.7" fill="#383838"/><rect x="282.9" y="430.5" width="2.4" height="3.7" fill="#383838"/><rect x="243.1" y="430.5" width="11.8" height="3.7" fill="#d1d1d1"/><rect x="257.4" y="430.5" width="11.8" height="3.7" fill="#cfcfcf"/><rect x="271.4" y="430.5" width="11.6" height="3.7" fill="#cfcfcf"/><rect x="285.2" y="430.5" width="11.7" height="3.7" fill="#cbcbcb"/><rect x="254.8" y="433.2" width="2.7" height="3.8" fill="#3d3d3d"/><rect x="269.1" y="433.2" width="2.4" height="3.8" fill="#3d3d3d"/><rect x="282.9" y="433.2" width="2.4" height="3.8" fill="#3d3d3d"/><rect x="243.1" y="433.2" width="11.8" height="3.8" fill="#a7a7a7"/><rect x="257.4" y="433.2" width="11.8" height="3.8" fill="#a7a7a7"/><rect x="271.4" y="433.2" width="11.6" height="3.8" fill="#a7a7a7"/><rect x="285.2" y="433.2" width="11.7" height="3.8" fill="#a7a7a7"/><rect x="254.8" y="436" width="2.7" height="2" fill="#646464"/><rect x="269.1" y="436" width="2.4" height="2" fill="#646464"/><rect x="282.9" y="436" width="2.4" height="2" fill="#646464"/><rect x="243.1" y="436" width="11.8" height="2" fill="#ffffff"/><rect x="257.4" y="436" width="11.8" height="2" fill="#ffffff"/><rect x="271.4" y="436" width="11.6" height="2" fill="#fafafa"/><rect x="285.2" y="436" width="11.7" height="2" fill="#f0f0f0"/><rect x="254.8" y="437" width="2.7" height="2.2" fill="#7a7a7a"/><rect x="269.1" y="437" width="2.4" height="2.2" fill="#7a7a7a"/><rect x="282.9" y="437" width="2.4" height="2.2" fill="#7a7a7a"/><rect x="243.1" y="437" width="11.8" height="2.2" fill="#ffffff"/><rect x="257.4" y="437" width="11.8" height="2.2" fill="#ffffff"/><rect x="271.4" y="437" width="11.6" height="2.2" fill="#fafafa"/><rect x="285.2" y="437" width="11.7" height="2.2" fill="#f0f0f0"/><rect x="254.8" y="438.2" width="2.7" height="3.2" fill="#9b9b9b"/><rect x="269.1" y="438.2" width="2.4" height="3.2" fill="#9b9b9b"/><rect x="282.9" y="438.2" width="2.4" height="3.2" fill="#9b9b9b"/><rect x="243.1" y="438.2" width="11.8" height="3.2" fill="#ffffff"/><rect x="257.4" y="438.2" width="11.8" height="3.2" fill="#ffffff"/><rect x="271.4" y="438.2" width="11.6" height="3.2" fill="#fafafa"/><rect x="285.2" y="438.2" width="11.7" height="3.2" fill="#f0f0f0"/><rect x="254.8" y="440.4" width="2.7" height="1" fill="#808080"/><rect x="269.1" y="440.4" width="2.4" height="1" fill="#808080"/><rect x="282.9" y="440.4" width="2.4" height="1" fill="#808080"/><rect x="243.1" y="440.4" width="11.8" height="1" fill="#ffffff"/><rect x="257.4" y="440.4" width="11.8" height="1" fill="#ffffff"/><rect x="271.4" y="440.4" width="11.6" height="1" fill="#fafafa"/><rect x="285.2" y="440.4" width="11.7" height="1" fill="#f0f0f0"/><rect x="254.8" y="441.4" width="2.7" height="3.1" fill="#383838"/><rect x="269.1" y="441.4" width="2.4" height="3.1" fill="#383838"/><rect x="282.9" y="441.4" width="2.4" height="3.1" fill="#383838"/><rect x="243.1" y="441.4" width="11.8" height="3.1" fill="#d1d1d1"/><rect x="257.4" y="441.4" width="11.8" height="3.1" fill="#cfcfcf"/><rect x="271.4" y="441.4" width="11.6" height="3.1" fill="#cbcbcb"/><rect x="285.2" y="441.4" width="11.7" height="3.1" fill="#c4c4c4"/><rect x="254.8" y="443.5" width="2.7" height="1.9" fill="#383838"/><rect x="269.1" y="443.5" width="2.4" height="1.9" fill="#383838"/><rect x="282.9" y="443.5" width="2.4" height="1.9" fill="#383838"/><rect x="243.1" y="443.5" width="11.8" height="1.9" fill="#adadad"/><rect x="257.4" y="443.5" width="11.8" height="1.9" fill="#adadad"/><rect x="271.4" y="443.5" width="11.6" height="1.9" fill="#adadad"/><rect x="285.2" y="443.5" width="11.7" height="1.9" fill="#a3a3a3"/><rect x="254.8" y="445.4" width="2.7" height="3.1" fill="#707070"/><rect x="269.1" y="445.4" width="2.4" height="3.1" fill="#707070"/><rect x="282.9" y="445.4" width="2.4" height="3.1" fill="#707070"/><rect x="243.1" y="445.4" width="11.8" height="3.1" fill="#ebebeb"/><rect x="257.4" y="445.4" width="11.8" height="3.1" fill="#ebebeb"/><rect x="271.4" y="445.4" width="11.6" height="3.1" fill="#e6e6e6"/><rect x="285.2" y="445.4" width="11.7" height="3.1" fill="#e2e2e2"/><rect x="254.8" y="449.55" width="2.7" height="5.8" fill="#454545"/><rect x="269.1" y="449.55" width="2.4" height="5.8" fill="#454545"/><rect x="282.9" y="449.55" width="2.4" height="5.8" fill="#454545"/><rect x="243.1" y="449.55" width="11.8" height="5.8" fill="#7a7a7a"/><rect x="257.4" y="449.55" width="11.8" height="5.8" fill="#6a6a6a"/><rect x="271.4" y="449.55" width="11.6" height="5.8" fill="#707070"/><rect x="285.2" y="449.55" width="11.7" height="5.8" fill="#707070"/><rect x="254.8" y="457.8" width="2.7" height="4.7" fill="#303030"/><rect x="269.1" y="457.8" width="2.4" height="4.7" fill="#303030"/><rect x="282.9" y="457.8" width="2.4" height="4.7" fill="#303030"/><rect x="243.1" y="457.8" width="11.8" height="4.7" fill="#4a4a4a"/><rect x="257.4" y="457.8" width="11.8" height="4.7" fill="#414141"/><rect x="271.4" y="457.8" width="11.6" height="4.7" fill="#454545"/><rect x="285.2" y="457.8" width="11.7" height="4.7" fill="#4a4a4a"/><rect x="254.8" y="462.5" width="2.7" height="3.5" fill="#303030"/><rect x="269.1" y="462.5" width="2.4" height="3.5" fill="#303030"/><rect x="282.9" y="462.5" width="2.4" height="3.5" fill="#303030"/><rect x="243.1" y="462.5" width="11.8" height="3.5" fill="#585858"/><rect x="257.4" y="462.5" width="11.8" height="3.5" fill="#454545"/><rect x="271.4" y="462.5" width="11.6" height="3.5" fill="#515151"/><rect x="285.2" y="462.5" width="11.7" height="3.5" fill="#585858"/><rect x="254.8" y="466" width="2.7" height="5.3" fill="#515151"/><rect x="269.1" y="466" width="2.4" height="5.3" fill="#515151"/><rect x="282.9" y="466" width="2.4" height="5.3" fill="#515151"/><rect x="243.1" y="466" width="11.8" height="5.3" fill="#b8b8b8"/><rect x="257.4" y="466" width="11.8" height="5.3" fill="#c1c1c1"/><rect x="271.4" y="466" width="11.6" height="5.3" fill="#bdbdbd"/><rect x="285.2" y="466" width="11.7" height="5.3" fill="#c1c1c1"/><rect x="254.8" y="471.3" width="2.7" height="3.7" fill="#343434"/><rect x="269.1" y="471.3" width="2.4" height="3.7" fill="#343434"/><rect x="282.9" y="471.3" width="2.4" height="3.7" fill="#343434"/><rect x="243.1" y="471.3" width="11.8" height="3.7" fill="#a3a3a3"/><rect x="257.4" y="471.3" width="11.8" height="3.7" fill="#a3a3a3"/><rect x="271.4" y="471.3" width="11.6" height="3.7" fill="#a3a3a3"/><rect x="285.2" y="471.3" width="11.7" height="3.7" fill="#9b9b9b"/><rect x="254.8" y="474" width="2.7" height="4" fill="#343434"/><rect x="269.1" y="474" width="2.4" height="4" fill="#343434"/><rect x="282.9" y="474" width="2.4" height="4" fill="#343434"/><rect x="243.1" y="474" width="11.8" height="4" fill="#d4d4d4"/><rect x="257.4" y="474" width="11.8" height="4" fill="#b2b2b2"/><rect x="271.4" y="474" width="11.6" height="4" fill="#a7a7a7"/><rect x="285.2" y="474" width="11.7" height="4" fill="#9b9b9b"/><rect x="254.8" y="477" width="2.7" height="1.5" fill="#343434"/><rect x="269.1" y="477" width="2.4" height="1.5" fill="#343434"/><rect x="282.9" y="477" width="2.4" height="1.5" fill="#343434"/><rect x="243.1" y="477" width="11.8" height="1.5" fill="#a3a3a3"/><rect x="257.4" y="477" width="11.8" height="1.5" fill="#a3a3a3"/><rect x="271.4" y="477" width="11.6" height="1.5" fill="#a3a3a3"/><rect x="285.2" y="477" width="11.7" height="1.5" fill="#9b9b9b"/><rect x="254.8" y="478.5" width="2.7" height="5.5" fill="#343434"/><rect x="269.1" y="478.5" width="2.4" height="5.5" fill="#343434"/><rect x="282.9" y="478.5" width="2.4" height="5.5" fill="#343434"/><rect x="243.1" y="478.5" width="11.8" height="5.5" fill="#a7a7a7"/><rect x="257.4" y="478.5" width="11.8" height="5.5" fill="#b8b8b8"/><rect x="271.4" y="478.5" width="11.6" height="5.5" fill="#a7a7a7"/><rect x="285.2" y="478.5" width="11.7" height="5.5" fill="#b8b8b8"/><rect x="254.8" y="484" width="2.7" height="5.5" fill="#414141"/><rect x="269.1" y="484" width="2.4" height="5.5" fill="#414141"/><rect x="282.9" y="484" width="2.4" height="5.5" fill="#414141"/><rect x="243.1" y="484" width="11.8" height="5.5" fill="#858585"/><rect x="257.4" y="484" width="11.8" height="5.5" fill="#969696"/><rect x="271.4" y="484" width="11.6" height="5.5" fill="#909090"/><rect x="285.2" y="484" width="11.7" height="5.5" fill="#8a8a8a"/><rect x="254.8" y="489.5" width="2.7" height="3.5" fill="#414141"/><rect x="269.1" y="489.5" width="2.4" height="3.5" fill="#414141"/><rect x="282.9" y="489.5" width="2.4" height="3.5" fill="#414141"/><rect x="243.1" y="489.5" width="11.8" height="3.5" fill="#8a8a8a"/><rect x="257.4" y="489.5" width="11.8" height="3.5" fill="#969696"/><rect x="271.4" y="489.5" width="11.6" height="3.5" fill="#909090"/><rect x="285.2" y="489.5" width="11.7" height="3.5" fill="#909090"/><rect x="254.8" y="493.8" width="2.7" height="4.7" fill="#383838"/><rect x="269.1" y="493.8" width="2.4" height="4.7" fill="#383838"/><rect x="282.9" y="493.8" width="2.4" height="4.7" fill="#383838"/><rect x="243.1" y="493.8" width="11.8" height="4.7" fill="#cfcfcf"/><rect x="257.4" y="493.8" width="11.8" height="4.7" fill="#b8b8b8"/><rect x="271.4" y="493.8" width="11.6" height="4.7" fill="#adadad"/><rect x="285.2" y="493.8" width="11.7" height="4.7" fill="#b8b8b8"/><rect x="254.8" y="497.5" width="2.7" height="2.8" fill="#383838"/><rect x="269.1" y="497.5" width="2.4" height="2.8" fill="#383838"/><rect x="282.9" y="497.5" width="2.4" height="2.8" fill="#383838"/><rect x="243.1" y="497.5" width="11.8" height="2.8" fill="#d9d9d9"/><rect x="257.4" y="497.5" width="11.8" height="2.8" fill="#a7a7a7"/><rect x="271.4" y="497.5" width="11.6" height="2.8" fill="#a3a3a3"/><rect x="285.2" y="497.5" width="11.7" height="2.8" fill="#a7a7a7"/><rect x="254.8" y="500.3" width="2.7" height="3.1" fill="#383838"/><rect x="269.1" y="500.3" width="2.4" height="3.1" fill="#383838"/><rect x="282.9" y="500.3" width="2.4" height="3.1" fill="#383838"/><rect x="243.1" y="500.3" width="11.8" height="3.1" fill="#b2b2b2"/><rect x="257.4" y="500.3" width="11.8" height="3.1" fill="#b8b8b8"/><rect x="271.4" y="500.3" width="11.6" height="3.1" fill="#adadad"/><rect x="285.2" y="500.3" width="11.7" height="3.1" fill="#a7a7a7"/><rect x="254.8" y="503.4" width="2.7" height="5.6" fill="#343434"/><rect x="269.1" y="503.4" width="2.4" height="5.6" fill="#343434"/><rect x="282.9" y="503.4" width="2.4" height="5.6" fill="#343434"/><rect x="243.1" y="503.4" width="11.8" height="5.6" fill="#a3a3a3"/><rect x="257.4" y="503.4" width="11.8" height="5.6" fill="#b8b8b8"/><rect x="271.4" y="503.4" width="11.6" height="5.6" fill="#b8b8b8"/><rect x="285.2" y="503.4" width="11.7" height="5.6" fill="#a7a7a7"/><rect x="254.8" y="508" width="2.7" height="5.75" fill="#343434"/><rect x="269.1" y="508" width="2.4" height="5.75" fill="#343434"/><rect x="282.9" y="508" width="2.4" height="5.75" fill="#343434"/><rect x="243.1" y="508" width="11.8" height="5.75" fill="#c1c1c1"/><rect x="257.4" y="508" width="11.8" height="5.75" fill="#bdbdbd"/><rect x="271.4" y="508" width="11.6" height="5.75" fill="#b2b2b2"/><rect x="285.2" y="508" width="11.7" height="5.75" fill="#a7a7a7"/><rect x="254.8" y="513.75" width="2.7" height="7.75" fill="#454545"/><rect x="269.1" y="513.75" width="2.4" height="7.75" fill="#454545"/><rect x="282.9" y="513.75" width="2.4" height="7.75" fill="#454545"/><rect x="243.1" y="513.75" width="11.8" height="7.75" fill="#7a7a7a"/><rect x="257.4" y="513.75" width="11.8" height="7.75" fill="#8a8a8a"/><rect x="271.4" y="513.75" width="11.6" height="7.75" fill="#858585"/><rect x="285.2" y="513.75" width="11.7" height="7.75" fill="#757575"/><rect x="254.8" y="522.5" width="2.7" height="3" fill="#343434"/><rect x="269.1" y="522.5" width="2.4" height="3" fill="#343434"/><rect x="282.9" y="522.5" width="2.4" height="3" fill="#343434"/><rect x="243.1" y="522.5" width="11.8" height="3" fill="#bdbdbd"/><rect x="257.4" y="522.5" width="11.8" height="3" fill="#bdbdbd"/><rect x="271.4" y="522.5" width="11.6" height="3" fill="#bdbdbd"/><rect x="285.2" y="522.5" width="11.7" height="3" fill="#bdbdbd"/><rect x="254.8" y="524.5" width="2.7" height="4.85" fill="#343434"/><rect x="269.1" y="524.5" width="2.4" height="4.85" fill="#343434"/><rect x="282.9" y="524.5" width="2.4" height="4.85" fill="#343434"/><rect x="243.1" y="524.5" width="11.8" height="4.85" fill="#fafafa"/><rect x="257.4" y="524.5" width="11.8" height="4.85" fill="#e8e8e8"/><rect x="271.4" y="524.5" width="11.6" height="4.85" fill="#ebebeb"/><rect x="285.2" y="524.5" width="11.7" height="4.85" fill="#e2e2e2"/><rect x="254.8" y="529.35" width="2.7" height="2.65" fill="#343434"/><rect x="269.1" y="529.35" width="2.4" height="2.65" fill="#343434"/><rect x="282.9" y="529.35" width="2.4" height="2.65" fill="#343434"/><rect x="243.1" y="529.35" width="11.8" height="2.65" fill="#b8b8b8"/><rect x="257.4" y="529.35" width="11.8" height="2.65" fill="#b8b8b8"/><rect x="271.4" y="529.35" width="11.6" height="2.65" fill="#b8b8b8"/><rect x="285.2" y="529.35" width="11.7" height="2.65" fill="#b8b8b8"/><rect x="254.8" y="531" width="2.7" height="4.5" fill="#383838"/><rect x="269.1" y="531" width="2.4" height="4.5" fill="#383838"/><rect x="282.9" y="531" width="2.4" height="4.5" fill="#383838"/><rect x="243.1" y="531" width="11.8" height="4.5" fill="#ededed"/><rect x="257.4" y="531" width="11.8" height="4.5" fill="#e6e6e6"/><rect x="271.4" y="531" width="11.6" height="4.5" fill="#e8e8e8"/><rect x="285.2" y="531" width="11.7" height="4.5" fill="#e4e4e4"/><rect x="254.8" y="534.5" width="2.7" height="2.2" fill="#4a4a4a"/><rect x="269.1" y="534.5" width="2.4" height="2.2" fill="#4a4a4a"/><rect x="282.9" y="534.5" width="2.4" height="2.2" fill="#4a4a4a"/><rect x="243.1" y="534.5" width="11.8" height="2.2" fill="#bdbdbd"/><rect x="257.4" y="534.5" width="11.8" height="2.2" fill="#bdbdbd"/><rect x="271.4" y="534.5" width="11.6" height="2.2" fill="#bdbdbd"/><rect x="285.2" y="534.5" width="11.7" height="2.2" fill="#bdbdbd"/><rect x="254.8" y="535.7" width="2.7" height="2.8" fill="#646464"/><rect x="269.1" y="535.7" width="2.4" height="2.8" fill="#646464"/><rect x="282.9" y="535.7" width="2.4" height="2.8" fill="#646464"/><rect x="243.1" y="535.7" width="11.8" height="2.8" fill="#f5f5f5"/><rect x="257.4" y="535.7" width="11.8" height="2.8" fill="#f5f5f5"/><rect x="271.4" y="535.7" width="11.6" height="2.8" fill="#f5f5f5"/><rect x="285.2" y="535.7" width="11.7" height="2.8" fill="#f0f0f0"/><rect x="254.8" y="537.5" width="2.7" height="2" fill="#a3a3a3"/><rect x="269.1" y="537.5" width="2.4" height="2" fill="#a3a3a3"/><rect x="282.9" y="537.5" width="2.4" height="2" fill="#a3a3a3"/><rect x="243.1" y="537.5" width="11.8" height="2" fill="#ffffff"/><rect x="257.4" y="537.5" width="11.8" height="2" fill="#ffffff"/><rect x="271.4" y="537.5" width="11.6" height="2" fill="#ffffff"/><rect x="285.2" y="537.5" width="11.7" height="2" fill="#fafafa"/><rect x="254.8" y="538.5" width="2.7" height="1.8" fill="#c4c4c4"/><rect x="269.1" y="538.5" width="2.4" height="1.8" fill="#c4c4c4"/><rect x="282.9" y="538.5" width="2.4" height="1.8" fill="#c4c4c4"/><rect x="243.1" y="538.5" width="11.8" height="1.8" fill="#ffffff"/><rect x="257.4" y="538.5" width="11.8" height="1.8" fill="#ffffff"/><rect x="271.4" y="538.5" width="11.6" height="1.8" fill="#ffffff"/><rect x="285.2" y="538.5" width="11.7" height="1.8" fill="#fafafa"/><rect x="254.8" y="540.3" width="2.7" height="3.9" fill="#3d3d3d"/><rect x="269.1" y="540.3" width="2.4" height="3.9" fill="#3d3d3d"/><rect x="282.9" y="540.3" width="2.4" height="3.9" fill="#3d3d3d"/><rect x="243.1" y="540.3" width="11.8" height="3.9" fill="#909090"/><rect x="257.4" y="540.3" width="11.8" height="3.9" fill="#969696"/><rect x="271.4" y="540.3" width="11.6" height="3.9" fill="#9b9b9b"/><rect x="285.2" y="540.3" width="11.7" height="3.9" fill="#909090"/><rect x="254.8" y="544.8" width="2.7" height="12.4" fill="#525252"/><rect x="269.1" y="544.8" width="2.4" height="12.4" fill="#525252"/><rect x="282.9" y="544.8" width="2.4" height="12.4" fill="#525252"/><rect x="243.1" y="544.8" width="11.8" height="12.4" fill="#757575"/><rect x="257.4" y="544.8" width="11.8" height="12.4" fill="#858585"/><rect x="271.4" y="544.8" width="11.6" height="12.4" fill="#8a8a8a"/><rect x="285.2" y="544.8" width="11.7" height="12.4" fill="#6a6a6a"/><rect x="254.8" y="559.8" width="2.7" height="13.4" fill="#525252"/><rect x="269.1" y="559.8" width="2.4" height="13.4" fill="#525252"/><rect x="282.9" y="559.8" width="2.4" height="13.4" fill="#525252"/><rect x="243.1" y="559.8" width="11.8" height="13.4" fill="#adadad"/><rect x="257.4" y="559.8" width="11.8" height="13.4" fill="#b2b2b2"/><rect x="271.4" y="559.8" width="11.6" height="13.4" fill="#b2b2b2"/><rect x="285.2" y="559.8" width="11.7" height="13.4" fill="#9f9f9f"/><rect x="254.8" y="574.8" width="2.7" height="3.7" fill="#383838"/><rect x="269.1" y="574.8" width="2.4" height="3.7" fill="#383838"/><rect x="282.9" y="574.8" width="2.4" height="3.7" fill="#383838"/><rect x="243.1" y="574.8" width="11.8" height="3.7" fill="#a7a7a7"/><rect x="257.4" y="574.8" width="11.8" height="3.7" fill="#a7a7a7"/><rect x="271.4" y="574.8" width="11.6" height="3.7" fill="#a7a7a7"/><rect x="285.2" y="574.8" width="11.7" height="3.7" fill="#a7a7a7"/><rect x="254.8" y="577.5" width="2.7" height="2.5" fill="#383838"/><rect x="269.1" y="577.5" width="2.4" height="2.5" fill="#383838"/><rect x="282.9" y="577.5" width="2.4" height="2.5" fill="#383838"/><rect x="243.1" y="577.5" width="11.8" height="2.5" fill="#e2e2e2"/><rect x="257.4" y="577.5" width="11.8" height="2.5" fill="#e2e2e2"/><rect x="271.4" y="577.5" width="11.6" height="2.5" fill="#e2e2e2"/><rect x="285.2" y="577.5" width="11.7" height="2.5" fill="#e2e2e2"/><rect x="254.8" y="579" width="2.7" height="1.3" fill="#383838"/><rect x="269.1" y="579" width="2.4" height="1.3" fill="#383838"/><rect x="282.9" y="579" width="2.4" height="1.3" fill="#383838"/><rect x="243.1" y="579" width="11.8" height="1.3" fill="#bdbdbd"/><rect x="257.4" y="579" width="11.8" height="1.3" fill="#bdbdbd"/><rect x="271.4" y="579" width="11.6" height="1.3" fill="#bdbdbd"/><rect x="285.2" y="579" width="11.7" height="1.3" fill="#bdbdbd"/><rect x="254.8" y="580.3" width="2.7" height="4.2" fill="#383838"/><rect x="269.1" y="580.3" width="2.4" height="4.2" fill="#383838"/><rect x="282.9" y="580.3" width="2.4" height="4.2" fill="#383838"/><rect x="243.1" y="580.3" width="11.8" height="4.2" fill="#d1d1d1"/><rect x="257.4" y="580.3" width="11.8" height="4.2" fill="#d1d1d1"/><rect x="271.4" y="580.3" width="11.6" height="4.2" fill="#d1d1d1"/><rect x="285.2" y="580.3" width="11.7" height="4.2" fill="#d1d1d1"/><rect x="254.8" y="583.5" width="2.7" height="2.3" fill="#383838"/><rect x="269.1" y="583.5" width="2.4" height="2.3" fill="#383838"/><rect x="282.9" y="583.5" width="2.4" height="2.3" fill="#383838"/><rect x="243.1" y="583.5" width="11.8" height="2.3" fill="#a7a7a7"/><rect x="257.4" y="583.5" width="11.8" height="2.3" fill="#a7a7a7"/><rect x="271.4" y="583.5" width="11.6" height="2.3" fill="#a7a7a7"/><rect x="285.2" y="583.5" width="11.7" height="2.3" fill="#a7a7a7"/><rect x="254.8" y="585.8" width="2.7" height="4.4" fill="#3d3d3d"/><rect x="269.1" y="585.8" width="2.4" height="4.4" fill="#3d3d3d"/><rect x="282.9" y="585.8" width="2.4" height="4.4" fill="#3d3d3d"/><rect x="243.1" y="585.8" width="11.8" height="4.4" fill="#adadad"/><rect x="257.4" y="585.8" width="11.8" height="4.4" fill="#a7a7a7"/><rect x="271.4" y="585.8" width="11.6" height="4.4" fill="#9b9b9b"/><rect x="285.2" y="585.8" width="11.7" height="4.4" fill="#969696"/><rect x="254.8" y="590.8" width="2.7" height="4.4" fill="#3d3d3d"/><rect x="269.1" y="590.8" width="2.4" height="4.4" fill="#3d3d3d"/><rect x="282.9" y="590.8" width="2.4" height="4.4" fill="#3d3d3d"/><rect x="243.1" y="590.8" width="11.8" height="4.4" fill="#cbcbcb"/><rect x="257.4" y="590.8" width="11.8" height="4.4" fill="#d4d4d4"/><rect x="271.4" y="590.8" width="11.6" height="4.4" fill="#cfcfcf"/><rect x="285.2" y="590.8" width="11.7" height="4.4" fill="#cbcbcb"/><rect x="254.8" y="595.8" width="2.7" height="2.7" fill="#414141"/><rect x="269.1" y="595.8" width="2.4" height="2.7" fill="#414141"/><rect x="282.9" y="595.8" width="2.4" height="2.7" fill="#414141"/><rect x="243.1" y="595.8" width="11.8" height="2.7" fill="#b8b8b8"/><rect x="257.4" y="595.8" width="11.8" height="2.7" fill="#b8b8b8"/><rect x="271.4" y="595.8" width="11.6" height="2.7" fill="#b8b8b8"/><rect x="285.2" y="595.8" width="11.7" height="2.7" fill="#b8b8b8"/><rect x="254.8" y="600.4" width="2.7" height="3.6" fill="#383838"/><rect x="269.1" y="600.4" width="2.4" height="3.6" fill="#383838"/><rect x="282.9" y="600.4" width="2.4" height="3.6" fill="#383838"/><rect x="243.1" y="600.4" width="11.8" height="3.6" fill="#a7a7a7"/><rect x="257.4" y="600.4" width="11.8" height="3.6" fill="#a7a7a7"/><rect x="271.4" y="600.4" width="11.6" height="3.6" fill="#a7a7a7"/><rect x="285.2" y="600.4" width="11.7" height="3.6" fill="#a7a7a7"/><rect x="254.8" y="603" width="2.7" height="2.35" fill="#383838"/><rect x="269.1" y="603" width="2.4" height="2.35" fill="#383838"/><rect x="282.9" y="603" width="2.4" height="2.35" fill="#383838"/><rect x="243.1" y="603" width="11.8" height="2.35" fill="#bdbdbd"/><rect x="257.4" y="603" width="11.8" height="2.35" fill="#bdbdbd"/><rect x="271.4" y="603" width="11.6" height="2.35" fill="#bdbdbd"/><rect x="285.2" y="603" width="11.7" height="2.35" fill="#bdbdbd"/><rect x="254.8" y="605.35" width="2.7" height="5.05" fill="#343434"/><rect x="269.1" y="605.35" width="2.4" height="5.05" fill="#343434"/><rect x="282.9" y="605.35" width="2.4" height="5.05" fill="#343434"/><rect x="243.1" y="605.35" width="11.8" height="5.05" fill="#bdbdbd"/><rect x="257.4" y="605.35" width="11.8" height="5.05" fill="#bdbdbd"/><rect x="271.4" y="605.35" width="11.6" height="5.05" fill="#bdbdbd"/><rect x="285.2" y="605.35" width="11.7" height="5.05" fill="#bdbdbd"/><rect x="254.8" y="610.4" width="2.7" height="3.6" fill="#303030"/><rect x="269.1" y="610.4" width="2.4" height="3.6" fill="#303030"/><rect x="282.9" y="610.4" width="2.4" height="3.6" fill="#303030"/><rect x="243.1" y="610.4" width="11.8" height="3.6" fill="#9f9f9f"/><rect x="257.4" y="610.4" width="11.8" height="3.6" fill="#a3a3a3"/><rect x="271.4" y="610.4" width="11.6" height="3.6" fill="#969696"/><rect x="285.2" y="610.4" width="11.7" height="3.6" fill="#858585"/><rect x="254.8" y="613" width="2.7" height="2.5" fill="#303030"/><rect x="269.1" y="613" width="2.4" height="2.5" fill="#303030"/><rect x="282.9" y="613" width="2.4" height="2.5" fill="#303030"/><rect x="243.1" y="613" width="11.8" height="2.5" fill="#bdbdbd"/><rect x="257.4" y="613" width="11.8" height="2.5" fill="#bdbdbd"/><rect x="271.4" y="613" width="11.6" height="2.5" fill="#9b9b9b"/><rect x="285.2" y="613" width="11.7" height="2.5" fill="#858585"/><rect x="254.8" y="614.5" width="2.7" height="2.5" fill="#303030"/><rect x="269.1" y="614.5" width="2.4" height="2.5" fill="#303030"/><rect x="282.9" y="614.5" width="2.4" height="2.5" fill="#303030"/><rect x="243.1" y="614.5" width="11.8" height="2.5" fill="#969696"/><rect x="257.4" y="614.5" width="11.8" height="2.5" fill="#a3a3a3"/><rect x="271.4" y="614.5" width="11.6" height="2.5" fill="#9b9b9b"/><rect x="285.2" y="614.5" width="11.7" height="2.5" fill="#8a8a8a"/><rect x="254.8" y="616" width="2.7" height="5.5" fill="#303030"/><rect x="269.1" y="616" width="2.4" height="5.5" fill="#303030"/><rect x="282.9" y="616" width="2.4" height="5.5" fill="#303030"/><rect x="243.1" y="616" width="11.8" height="5.5" fill="#c4c4c4"/><rect x="257.4" y="616" width="11.8" height="5.5" fill="#c1c1c1"/><rect x="271.4" y="616" width="11.6" height="5.5" fill="#bdbdbd"/><rect x="285.2" y="616" width="11.7" height="5.5" fill="#adadad"/><rect x="254.8" y="620.5" width="2.7" height="2" fill="#303030"/><rect x="269.1" y="620.5" width="2.4" height="2" fill="#303030"/><rect x="282.9" y="620.5" width="2.4" height="2" fill="#303030"/><rect x="243.1" y="620.5" width="11.8" height="2" fill="#8a8a8a"/><rect x="257.4" y="620.5" width="11.8" height="2" fill="#8a8a8a"/><rect x="271.4" y="620.5" width="11.6" height="2" fill="#8a8a8a"/><rect x="285.2" y="620.5" width="11.7" height="2" fill="#8a8a8a"/><rect x="254.8" y="622.5" width="2.7" height="3" fill="#3d3d3d"/><rect x="269.1" y="622.5" width="2.4" height="3" fill="#3d3d3d"/><rect x="282.9" y="622.5" width="2.4" height="3" fill="#3d3d3d"/><rect x="243.1" y="622.5" width="11.8" height="3" fill="#808080"/><rect x="257.4" y="622.5" width="11.8" height="3" fill="#808080"/><rect x="271.4" y="622.5" width="11.6" height="3" fill="#808080"/><rect x="285.2" y="622.5" width="11.7" height="3" fill="#808080"/><rect x="254.8" y="625.5" width="2.7" height="2.5" fill="#3d3d3d"/><rect x="269.1" y="625.5" width="2.4" height="2.5" fill="#3d3d3d"/><rect x="282.9" y="625.5" width="2.4" height="2.5" fill="#3d3d3d"/><rect x="243.1" y="625.5" width="11.8" height="2.5" fill="#808080"/><rect x="257.4" y="625.5" width="11.8" height="2.5" fill="#808080"/><rect x="271.4" y="625.5" width="11.6" height="2.5" fill="#808080"/><rect x="285.2" y="625.5" width="11.7" height="2.5" fill="#808080"/><rect x="254.8" y="628" width="2.7" height="3.5" fill="#303030"/><rect x="269.1" y="628" width="2.4" height="3.5" fill="#303030"/><rect x="282.9" y="628" width="2.4" height="3.5" fill="#303030"/><rect x="243.1" y="628" width="11.8" height="3.5" fill="#b2b2b2"/><rect x="257.4" y="628" width="11.8" height="3.5" fill="#a3a3a3"/><rect x="271.4" y="628" width="11.6" height="3.5" fill="#909090"/><rect x="285.2" y="628" width="11.7" height="3.5" fill="#8a8a8a"/><rect x="254.8" y="630.5" width="2.7" height="6.5" fill="#303030"/><rect x="269.1" y="630.5" width="2.4" height="6.5" fill="#303030"/><rect x="282.9" y="630.5" width="2.4" height="6.5" fill="#303030"/><rect x="243.1" y="630.5" width="11.8" height="6.5" fill="#858585"/><rect x="257.4" y="630.5" width="11.8" height="6.5" fill="#969696"/><rect x="271.4" y="630.5" width="11.6" height="6.5" fill="#8a8a8a"/><rect x="285.2" y="630.5" width="11.7" height="6.5" fill="#909090"/><rect x="254.8" y="636" width="2.7" height="6.5" fill="#303030"/><rect x="269.1" y="636" width="2.4" height="6.5" fill="#303030"/><rect x="282.9" y="636" width="2.4" height="6.5" fill="#303030"/><rect x="243.1" y="636" width="11.8" height="6.5" fill="#808080"/><rect x="257.4" y="636" width="11.8" height="6.5" fill="#a3a3a3"/><rect x="271.4" y="636" width="11.6" height="6.5" fill="#909090"/><rect x="285.2" y="636" width="11.7" height="6.5" fill="#909090"/><rect x="254.8" y="642.5" width="2.7" height="5.9" fill="#303030"/><rect x="269.1" y="642.5" width="2.4" height="5.9" fill="#303030"/><rect x="282.9" y="642.5" width="2.4" height="5.9" fill="#303030"/><rect x="243.1" y="642.5" width="11.8" height="5.9" fill="#9f9f9f"/><rect x="257.4" y="642.5" width="11.8" height="5.9" fill="#909090"/><rect x="271.4" y="642.5" width="11.6" height="5.9" fill="#8a8a8a"/><rect x="285.2" y="642.5" width="11.7" height="5.9" fill="#858585"/><rect x="254.8" y="648.4" width="2.7" height="5.6" fill="#303030"/><rect x="269.1" y="648.4" width="2.4" height="5.6" fill="#303030"/><rect x="282.9" y="648.4" width="2.4" height="5.6" fill="#303030"/><rect x="243.1" y="648.4" width="11.8" height="5.6" fill="#a3a3a3"/><rect x="257.4" y="648.4" width="11.8" height="5.6" fill="#b2b2b2"/><rect x="271.4" y="648.4" width="11.6" height="5.6" fill="#a7a7a7"/><rect x="285.2" y="648.4" width="11.7" height="5.6" fill="#7a7a7a"/><rect x="254.8" y="653" width="2.7" height="3" fill="#303030"/><rect x="269.1" y="653" width="2.4" height="3" fill="#303030"/><rect x="282.9" y="653" width="2.4" height="3" fill="#303030"/><rect x="243.1" y="653" width="11.8" height="3" fill="#808080"/><rect x="257.4" y="653" width="11.8" height="3" fill="#969696"/><rect x="271.4" y="653" width="11.6" height="3" fill="#969696"/><rect x="285.2" y="653" width="11.7" height="3" fill="#909090"/><rect x="254.8" y="655" width="2.7" height="6" fill="#303030"/><rect x="269.1" y="655" width="2.4" height="6" fill="#303030"/><rect x="282.9" y="655" width="2.4" height="6" fill="#303030"/><rect x="243.1" y="655" width="11.8" height="6" fill="#a3a3a3"/><rect x="257.4" y="655" width="11.8" height="6" fill="#9f9f9f"/><rect x="271.4" y="655" width="11.6" height="6" fill="#9b9b9b"/><rect x="285.2" y="655" width="11.7" height="6" fill="#909090"/><rect x="254.8" y="660" width="2.7" height="7" fill="#303030"/><rect x="269.1" y="660" width="2.4" height="7" fill="#303030"/><rect x="282.9" y="660" width="2.4" height="7" fill="#303030"/><rect x="243.1" y="660" width="11.8" height="7" fill="#808080"/><rect x="257.4" y="660" width="11.8" height="7" fill="#a7a7a7"/><rect x="271.4" y="660" width="11.6" height="7" fill="#adadad"/><rect x="285.2" y="660" width="11.7" height="7" fill="#969696"/><rect x="254.8" y="666" width="2.7" height="7.5" fill="#303030"/><rect x="269.1" y="666" width="2.4" height="7.5" fill="#303030"/><rect x="282.9" y="666" width="2.4" height="7.5" fill="#303030"/><rect x="243.1" y="666" width="11.8" height="7.5" fill="#909090"/><rect x="257.4" y="666" width="11.8" height="7.5" fill="#9b9b9b"/><rect x="271.4" y="666" width="11.6" height="7.5" fill="#8a8a8a"/><rect x="285.2" y="666" width="11.7" height="7.5" fill="#8a8a8a"/><rect x="254.8" y="673.5" width="2.7" height="3.5" fill="#303030"/><rect x="269.1" y="673.5" width="2.4" height="3.5" fill="#303030"/><rect x="282.9" y="673.5" width="2.4" height="3.5" fill="#303030"/><rect x="243.1" y="673.5" width="11.8" height="3.5" fill="#858585"/><rect x="257.4" y="673.5" width="11.8" height="3.5" fill="#a3a3a3"/><rect x="271.4" y="673.5" width="11.6" height="3.5" fill="#969696"/><rect x="285.2" y="673.5" width="11.7" height="3.5" fill="#8a8a8a"/><rect x="254.8" y="676" width="2.7" height="4" fill="#303030"/><rect x="269.1" y="676" width="2.4" height="4" fill="#303030"/><rect x="282.9" y="676" width="2.4" height="4" fill="#303030"/><rect x="243.1" y="676" width="11.8" height="4" fill="#bdbdbd"/><rect x="257.4" y="676" width="11.8" height="4" fill="#a3a3a3"/><rect x="271.4" y="676" width="11.6" height="4" fill="#9b9b9b"/><rect x="285.2" y="676" width="11.7" height="4" fill="#8a8a8a"/><rect x="254.8" y="680" width="2.7" height="10.55" fill="#303030"/><rect x="269.1" y="680" width="2.4" height="10.55" fill="#303030"/><rect x="282.9" y="680" width="2.4" height="10.55" fill="#303030"/><rect x="243.1" y="680" width="11.8" height="10.55" fill="#909090"/><rect x="257.4" y="680" width="11.8" height="10.55" fill="#9b9b9b"/><rect x="271.4" y="680" width="11.6" height="10.55" fill="#9f9f9f"/><rect x="285.2" y="680" width="11.7" height="10.55" fill="#969696"/><rect x="254.8" y="690.55" width="2.7" height="5.45" fill="#474747"/><rect x="269.1" y="690.55" width="2.4" height="5.45" fill="#474747"/><rect x="282.9" y="690.55" width="2.4" height="5.45" fill="#474747"/><rect x="243.1" y="690.55" width="11.8" height="5.45" fill="#7a7a7a"/><rect x="257.4" y="690.55" width="11.8" height="5.45" fill="#6a6a6a"/><rect x="271.4" y="690.55" width="11.6" height="5.45" fill="#757575"/><rect x="285.2" y="690.55" width="11.7" height="5.45" fill="#6a6a6a"/><rect x="254.8" y="695" width="2.7" height="19.35" fill="#303030"/><rect x="269.1" y="695" width="2.4" height="19.35" fill="#303030"/><rect x="282.9" y="695" width="2.4" height="19.35" fill="#303030"/><rect x="243.1" y="695" width="11.8" height="19.35" fill="#858585"/><rect x="257.4" y="695" width="11.8" height="19.35" fill="#757575"/><rect x="271.4" y="695" width="11.6" height="19.35" fill="#787878"/><rect x="285.2" y="695" width="11.7" height="19.35" fill="#707070"/><rect x="254.8" y="714.35" width="2.7" height="3.25" fill="#434343"/><rect x="269.1" y="714.35" width="2.4" height="3.25" fill="#434343"/><rect x="282.9" y="714.35" width="2.4" height="3.25" fill="#434343"/><rect x="243.1" y="714.35" width="11.8" height="3.25" fill="#5e5e5e"/><rect x="257.4" y="714.35" width="11.8" height="3.25" fill="#5e5e5e"/><rect x="271.4" y="714.35" width="11.6" height="3.25" fill="#5e5e5e"/><rect x="285.2" y="714.35" width="11.7" height="3.25" fill="#5e5e5e"/><rect x="254.8" y="717.6" width="2.7" height="1.9" fill="#434343"/><rect x="269.1" y="717.6" width="2.4" height="1.9" fill="#434343"/><rect x="282.9" y="717.6" width="2.4" height="1.9" fill="#434343"/><rect x="243.1" y="717.6" width="11.8" height="1.9" fill="#5e5e5e"/><rect x="257.4" y="717.6" width="11.8" height="1.9" fill="#5e5e5e"/><rect x="271.4" y="717.6" width="11.6" height="1.9" fill="#5e5e5e"/><rect x="285.2" y="717.6" width="11.7" height="1.9" fill="#5e5e5e"/><rect x="131.25" y="532.1" width="40" height="1" fill="#c8c8c8"/><rect x="171.25" y="532.1" width="58" height="1" fill="#757575"/></g><rect x="131.25" y="80" width="176.9" height="1.9" fill="#fff"/><rect x="131.25" y="82.9" width="176.9" height="4.1" fill="#fff"/><rect x="131.25" y="94.1" width="176.9" height="1.9" fill="#fff"/><rect x="131.25" y="96.8" width="176.9" height="1.1" fill="#fff"/><rect x="131.25" y="99.8" width="176.9" height="1.2" fill="#fff"/><rect x="131.25" y="101.9" width="176.9" height="25.1" fill="#fff"/><rect x="131.25" y="129" width="176.9" height="0.9" fill="#000"/><rect x="131.25" y="129.9" width="176.9" height="34.2" fill="#fff"/><rect x="131.25" y="170" width="176.9" height="1" fill="#000"/><rect x="131.25" y="186" width="176.9" height="2.6" fill="#000"/><rect x="131.25" y="188.6" width="176.9" height="220.4" fill="#fff"/><rect x="131.25" y="420" width="176.9" height="3" fill="#fff"/><rect x="131.25" y="429" width="176.9" height="2.7" fill="#000"/><rect x="131.25" y="440.9" width="176.9" height="1" fill="#000"/><rect x="131.25" y="444.9" width="176.9" height="1" fill="#000"/><rect x="131.25" y="448.1" width="176.9" height="0.8" fill="#000"/><rect x="131.25" y="448.9" width="176.9" height="1.3" fill="#fff"/><rect x="131.25" y="454.9" width="176.9" height="0.9" fill="#000"/><rect x="131.25" y="455.8" width="176.9" height="3.2" fill="#fff"/><rect x="131.25" y="462" width="176.9" height="1" fill="#fff"/><rect x="131.25" y="465" width="176.9" height="2" fill="#000"/><rect x="131.25" y="470.8" width="176.9" height="1" fill="#000"/><rect x="131.25" y="478" width="176.9" height="1" fill="#fff"/><rect x="131.25" y="483" width="176.9" height="2" fill="#000"/><rect x="131.25" y="489" width="176.9" height="1" fill="#fff"/><rect x="131.25" y="491.8" width="176.9" height="3.2" fill="#fff"/><rect x="131.25" y="499.8" width="176.9" height="1" fill="#000"/><rect x="131.25" y="502.8" width="176.9" height="1.2" fill="#fff"/><rect x="131.25" y="513" width="176.9" height="1.5" fill="#000"/><rect x="131.25" y="521" width="176.9" height="1" fill="#fff"/><rect x="131.25" y="522" width="176.9" height="1" fill="#000"/><rect x="131.25" y="528.85" width="176.9" height="1" fill="#000"/><rect x="131.25" y="539.8" width="176.9" height="1" fill="#000"/><rect x="131.25" y="543" width="176.9" height="3" fill="#fff"/><rect x="131.25" y="556" width="176.9" height="5" fill="#fff"/><rect x="131.25" y="572" width="176.9" height="4" fill="#fff"/><rect x="131.25" y="579.8" width="176.9" height="1" fill="#000"/><rect x="131.25" y="585" width="176.9" height="1.6" fill="#000"/><rect x="131.25" y="589" width="176.9" height="3" fill="#000"/><rect x="131.25" y="594" width="176.9" height="3" fill="#000"/><rect x="131.25" y="598" width="176.9" height="1" fill="#fff"/><rect x="131.25" y="599" width="176.9" height="2.6" fill="#000"/><rect x="131.25" y="604.85" width="176.9" height="1" fill="#000"/><rect x="131.25" y="609.9" width="176.9" height="1" fill="#000"/><rect x="131.25" y="622" width="176.9" height="1" fill="#fff"/><rect x="131.25" y="625" width="176.9" height="1" fill="#fff"/><rect x="131.25" y="627" width="176.9" height="2" fill="#fff"/><rect x="131.25" y="642" width="176.9" height="1" fill="#fff"/><rect x="131.25" y="647.9" width="176.9" height="1" fill="#000"/><rect x="131.25" y="673" width="176.9" height="1" fill="#fff"/><rect x="131.25" y="679" width="176.9" height="2" fill="#fff"/><rect x="131.25" y="690.05" width="176.9" height="1" fill="#000"/><rect x="131.25" y="713.85" width="176.9" height="1" fill="#000"/><rect x="131.25" y="717" width="176.9" height="1.2" fill="#fff"/></g><g clip-path="url(#cp1)"><g filter="url(#jet)"><rect x="341.53" y="78" width="180.9" height="644" fill="#303030"/><rect x="343.53" y="80.95" width="176.9" height="3.15" fill="#383838"/><rect x="343.53" y="85.8" width="176.9" height="9.15" fill="#343434"/><rect x="343.53" y="95.05" width="176.9" height="2.3" fill="#343434"/><rect x="343.53" y="97.35" width="176.9" height="3.05" fill="#343434"/><rect x="343.53" y="100.4" width="176.9" height="2.7" fill="#343434"/><rect x="343.53" y="125.8" width="176.9" height="3.65" fill="#343434"/><rect x="343.53" y="162.9" width="176.9" height="7.6" fill="#343434"/><rect x="343.53" y="170.5" width="176.9" height="4" fill="#343434"/><rect x="343.53" y="173.5" width="176.9" height="5.5" fill="#343434"/><rect x="343.53" y="178" width="176.9" height="3" fill="#343434"/><rect x="343.53" y="180" width="176.9" height="4.5" fill="#343434"/><rect x="343.53" y="183.5" width="112.35" height="3.7" fill="url(#g19)"/><rect x="455.38" y="183.5" width="65.05" height="3.7" fill="#343434"/><rect x="343.53" y="407.8" width="176.9" height="13.4" fill="#383838"/><rect x="343.53" y="421.8" width="176.9" height="8.4" fill="#343434"/><rect x="343.53" y="430.5" width="176.9" height="3.7" fill="#383838"/><rect x="343.53" y="433.2" width="112.35" height="2.5" fill="url(#g20)"/><rect x="455.38" y="433.2" width="65.05" height="2.5" fill="#383838"/><rect x="343.53" y="434.7" width="112.35" height="2.3" fill="url(#g21)"/><rect x="455.38" y="434.7" width="65.05" height="2.3" fill="#383838"/><rect x="343.53" y="436" width="112.35" height="3.5" fill="url(#g22)"/><rect x="455.38" y="436" width="65.05" height="3.5" fill="#585858"/><rect x="343.53" y="438.5" width="112.35" height="2.9" fill="url(#g23)"/><rect x="455.38" y="438.5" width="65.05" height="2.9" fill="#8a8a8a"/><rect x="343.53" y="441.4" width="112.35" height="4" fill="url(#g24)"/><rect x="455.38" y="441.4" width="65.05" height="4" fill="#5e5e5e"/><rect x="343.53" y="445.4" width="112.35" height="3.1" fill="url(#g25)"/><rect x="455.38" y="445.4" width="65.05" height="3.1" fill="#4a4a4a"/><rect x="343.53" y="449.55" width="176.9" height="5.8" fill="#414141"/><rect x="343.53" y="457.8" width="176.9" height="4.7" fill="#343434"/><rect x="343.53" y="462.5" width="176.9" height="3.5" fill="#343434"/><rect x="343.53" y="466" width="176.9" height="5.3" fill="#383838"/><rect x="343.53" y="471.3" width="176.9" height="7.2" fill="#383838"/><rect x="343.53" y="478.5" width="176.9" height="3.5" fill="#383838"/><rect x="343.53" y="481" width="176.9" height="3" fill="#383838"/><rect x="343.53" y="484" width="176.9" height="5.5" fill="#454545"/><rect x="343.53" y="489.5" width="176.9" height="3.5" fill="#454545"/><rect x="343.53" y="493.8" width="176.9" height="4.7" fill="#383838"/><rect x="343.53" y="497.5" width="176.9" height="2.8" fill="#383838"/><rect x="343.53" y="500.3" width="176.9" height="3.1" fill="#383838"/><rect x="343.53" y="503.4" width="176.9" height="5.6" fill="#383838"/><rect x="343.53" y="508" width="176.9" height="4" fill="#383838"/><rect x="343.53" y="511" width="176.9" height="2.75" fill="#383838"/><rect x="343.53" y="513.75" width="176.9" height="7.75" fill="#4a4a4a"/><rect x="343.53" y="522.5" width="112.35" height="2.5" fill="url(#g26)"/><rect x="455.38" y="522.5" width="65.05" height="2.5" fill="#383838"/><rect x="343.53" y="524" width="112.35" height="4" fill="url(#g27)"/><rect x="455.38" y="524" width="65.05" height="4" fill="#383838"/><rect x="343.53" y="527" width="112.35" height="2.35" fill="url(#g28)"/><rect x="455.38" y="527" width="65.05" height="2.35" fill="#383838"/><rect x="343.53" y="529.35" width="112.35" height="5.15" fill="url(#g29)"/><rect x="455.38" y="529.35" width="65.05" height="5.15" fill="#383838"/><rect x="343.53" y="533.5" width="112.35" height="2.2" fill="url(#g30)"/><rect x="455.38" y="533.5" width="65.05" height="2.2" fill="#585858"/><rect x="343.53" y="534.7" width="112.35" height="3.3" fill="url(#g31)"/><rect x="455.38" y="534.7" width="65.05" height="3.3" fill="#383838"/><rect x="343.53" y="537" width="112.35" height="3.3" fill="url(#g32)"/><rect x="455.38" y="537" width="65.05" height="3.3" fill="#383838"/><rect x="343.53" y="540.3" width="176.9" height="3.9" fill="#3d3d3d"/><rect x="343.53" y="544.8" width="112.35" height="12.4" fill="url(#g33)"/><rect x="455.38" y="544.8" width="65.05" height="12.4" fill="#545454"/><rect x="343.53" y="559.8" width="112.35" height="7.2" fill="url(#g34)"/><rect x="455.38" y="559.8" width="65.05" height="7.2" fill="#545454"/><rect x="343.53" y="566" width="112.35" height="7.2" fill="url(#g35)"/><rect x="455.38" y="566" width="65.05" height="7.2" fill="#545454"/><rect x="343.53" y="574.8" width="112.35" height="3.5" fill="url(#g36)"/><rect x="455.38" y="574.8" width="65.05" height="3.5" fill="#383838"/><rect x="343.53" y="577.3" width="112.35" height="3" fill="url(#g37)"/><rect x="455.38" y="577.3" width="65.05" height="3" fill="#383838"/><rect x="343.53" y="580.3" width="112.35" height="5.5" fill="url(#g38)"/><rect x="455.38" y="580.3" width="65.05" height="5.5" fill="#383838"/><rect x="343.53" y="585.8" width="176.9" height="4.4" fill="#3d3d3d"/><rect x="343.53" y="590.8" width="176.9" height="4.4" fill="#3d3d3d"/><rect x="343.53" y="595.8" width="176.9" height="2.7" fill="#414141"/><rect x="343.53" y="600.4" width="176.9" height="4.95" fill="#383838"/><rect x="343.53" y="605.35" width="176.9" height="5.05" fill="#343434"/><rect x="343.53" y="610.4" width="176.9" height="5.6" fill="#303030"/><rect x="343.53" y="615" width="176.9" height="2.5" fill="#303030"/><rect x="343.53" y="616.5" width="112.35" height="5" fill="url(#g39)"/><rect x="455.38" y="616.5" width="65.05" height="5" fill="#303030"/><rect x="343.53" y="620.5" width="176.9" height="2" fill="#303030"/><rect x="343.53" y="622.5" width="176.9" height="3" fill="#3d3d3d"/><rect x="343.53" y="625.5" width="176.9" height="2.5" fill="#3d3d3d"/><rect x="343.53" y="628" width="176.9" height="7.5" fill="#303030"/><rect x="343.53" y="634.5" width="176.9" height="6.5" fill="#303030"/><rect x="343.53" y="640" width="176.9" height="2.5" fill="#303030"/><rect x="343.53" y="642.5" width="176.9" height="5.9" fill="#303030"/><rect x="343.53" y="648.4" width="176.9" height="2.6" fill="#303030"/><rect x="343.53" y="650" width="176.9" height="4" fill="#303030"/><rect x="343.53" y="653" width="176.9" height="13" fill="#303030"/><rect x="343.53" y="665" width="176.9" height="4" fill="#303030"/><rect x="343.53" y="668" width="176.9" height="5.5" fill="#303030"/><rect x="343.53" y="673.5" width="176.9" height="6.5" fill="#303030"/><rect x="343.53" y="680" width="176.9" height="10.55" fill="#303030"/><rect x="343.53" y="690.55" width="176.9" height="5.45" fill="#474747"/><rect x="343.53" y="695" width="176.9" height="19.35" fill="#303030"/><rect x="343.53" y="714.35" width="176.9" height="3.25" fill="#434343"/><rect x="343.53" y="717.6" width="176.9" height="1.9" fill="#434343"/><rect x="467.08" y="80.95" width="2.7" height="3.15" fill="#383838"/><rect x="481.38" y="80.95" width="2.4" height="3.15" fill="#383838"/><rect x="495.18" y="80.95" width="2.4" height="3.15" fill="#383838"/><rect x="455.38" y="80.95" width="11.8" height="3.15" fill="#4a4a4a"/><rect x="469.68" y="80.95" width="11.8" height="3.15" fill="#4a4a4a"/><rect x="483.68" y="80.95" width="11.6" height="3.15" fill="#4a4a4a"/><rect x="497.48" y="80.95" width="11.7" height="3.15" fill="#4a4a4a"/><rect x="467.08" y="85.8" width="2.7" height="9.15" fill="#343434"/><rect x="481.38" y="85.8" width="2.4" height="9.15" fill="#343434"/><rect x="495.18" y="85.8" width="2.4" height="9.15" fill="#343434"/><rect x="455.38" y="85.8" width="11.8" height="9.15" fill="#707070"/><rect x="469.68" y="85.8" width="11.8" height="9.15" fill="#5e5e5e"/><rect x="483.68" y="85.8" width="11.6" height="9.15" fill="#5e5e5e"/><rect x="497.48" y="85.8" width="11.7" height="9.15" fill="#585858"/><rect x="467.08" y="95.05" width="2.7" height="2.3" fill="#343434"/><rect x="481.38" y="95.05" width="2.4" height="2.3" fill="#343434"/><rect x="495.18" y="95.05" width="2.4" height="2.3" fill="#343434"/><rect x="455.38" y="95.05" width="11.8" height="2.3" fill="#808080"/><rect x="469.68" y="95.05" width="11.8" height="2.3" fill="#646464"/><rect x="483.68" y="95.05" width="11.6" height="2.3" fill="#5e5e5e"/><rect x="497.48" y="95.05" width="11.7" height="2.3" fill="#585858"/><rect x="467.08" y="97.35" width="2.7" height="3.05" fill="#343434"/><rect x="481.38" y="97.35" width="2.4" height="3.05" fill="#343434"/><rect x="495.18" y="97.35" width="2.4" height="3.05" fill="#343434"/><rect x="455.38" y="97.35" width="11.8" height="3.05" fill="#858585"/><rect x="469.68" y="97.35" width="11.8" height="3.05" fill="#646464"/><rect x="483.68" y="97.35" width="11.6" height="3.05" fill="#646464"/><rect x="497.48" y="97.35" width="11.7" height="3.05" fill="#585858"/><rect x="467.08" y="100.4" width="2.7" height="2.7" fill="#343434"/><rect x="481.38" y="100.4" width="2.4" height="2.7" fill="#343434"/><rect x="495.18" y="100.4" width="2.4" height="2.7" fill="#343434"/><rect x="455.38" y="100.4" width="11.8" height="2.7" fill="#808080"/><rect x="469.68" y="100.4" width="11.8" height="2.7" fill="#646464"/><rect x="483.68" y="100.4" width="11.6" height="2.7" fill="#5e5e5e"/><rect x="497.48" y="100.4" width="11.7" height="2.7" fill="#515151"/><rect x="467.08" y="125.8" width="2.7" height="3.65" fill="#343434"/><rect x="481.38" y="125.8" width="2.4" height="3.65" fill="#343434"/><rect x="495.18" y="125.8" width="2.4" height="3.65" fill="#343434"/><rect x="455.38" y="125.8" width="11.8" height="3.65" fill="#8a8a8a"/><rect x="469.68" y="125.8" width="11.8" height="3.65" fill="#8a8a8a"/><rect x="483.68" y="125.8" width="11.6" height="3.65" fill="#8a8a8a"/><rect x="497.48" y="125.8" width="11.7" height="3.65" fill="#858585"/><rect x="467.08" y="162.9" width="2.7" height="7.6" fill="#343434"/><rect x="481.38" y="162.9" width="2.4" height="7.6" fill="#343434"/><rect x="495.18" y="162.9" width="2.4" height="7.6" fill="#343434"/><rect x="455.38" y="162.9" width="11.8" height="7.6" fill="#b2b2b2"/><rect x="469.68" y="162.9" width="11.8" height="7.6" fill="#b8b8b8"/><rect x="483.68" y="162.9" width="11.6" height="7.6" fill="#b2b2b2"/><rect x="497.48" y="162.9" width="11.7" height="7.6" fill="#a7a7a7"/><rect x="467.08" y="170.5" width="2.7" height="4" fill="#343434"/><rect x="481.38" y="170.5" width="2.4" height="4" fill="#343434"/><rect x="495.18" y="170.5" width="2.4" height="4" fill="#343434"/><rect x="455.38" y="170.5" width="11.8" height="4" fill="#969696"/><rect x="469.68" y="170.5" width="11.8" height="4" fill="#969696"/><rect x="483.68" y="170.5" width="11.6" height="4" fill="#a3a3a3"/><rect x="497.48" y="170.5" width="11.7" height="4" fill="#909090"/><rect x="467.08" y="173.5" width="2.7" height="5.5" fill="#343434"/><rect x="481.38" y="173.5" width="2.4" height="5.5" fill="#343434"/><rect x="495.18" y="173.5" width="2.4" height="5.5" fill="#343434"/><rect x="455.38" y="173.5" width="11.8" height="5.5" fill="#b8b8b8"/><rect x="469.68" y="173.5" width="11.8" height="5.5" fill="#9f9f9f"/><rect x="483.68" y="173.5" width="11.6" height="5.5" fill="#a7a7a7"/><rect x="497.48" y="173.5" width="11.7" height="5.5" fill="#909090"/><rect x="467.08" y="178" width="2.7" height="3" fill="#343434"/><rect x="481.38" y="178" width="2.4" height="3" fill="#343434"/><rect x="495.18" y="178" width="2.4" height="3" fill="#343434"/><rect x="455.38" y="178" width="11.8" height="3" fill="#adadad"/><rect x="469.68" y="178" width="11.8" height="3" fill="#b8b8b8"/><rect x="483.68" y="178" width="11.6" height="3" fill="#adadad"/><rect x="497.48" y="178" width="11.7" height="3" fill="#909090"/><rect x="467.08" y="180" width="2.7" height="4.5" fill="#343434"/><rect x="481.38" y="180" width="2.4" height="4.5" fill="#343434"/><rect x="495.18" y="180" width="2.4" height="4.5" fill="#343434"/><rect x="455.38" y="180" width="11.8" height="4.5" fill="#a7a7a7"/><rect x="469.68" y="180" width="11.8" height="4.5" fill="#b8b8b8"/><rect x="483.68" y="180" width="11.6" height="4.5" fill="#c4c4c4"/><rect x="497.48" y="180" width="11.7" height="4.5" fill="#9b9b9b"/><rect x="467.08" y="183.5" width="2.7" height="3.7" fill="#343434"/><rect x="481.38" y="183.5" width="2.4" height="3.7" fill="#343434"/><rect x="495.18" y="183.5" width="2.4" height="3.7" fill="#343434"/><rect x="455.38" y="183.5" width="11.8" height="3.7" fill="#969696"/><rect x="469.68" y="183.5" width="11.8" height="3.7" fill="#b2b2b2"/><rect x="483.68" y="183.5" width="11.6" height="3.7" fill="#a7a7a7"/><rect x="497.48" y="183.5" width="11.7" height="3.7" fill="#909090"/><rect x="467.08" y="407.8" width="2.7" height="13.4" fill="#383838"/><rect x="481.38" y="407.8" width="2.4" height="13.4" fill="#383838"/><rect x="495.18" y="407.8" width="2.4" height="13.4" fill="#383838"/><rect x="455.38" y="407.8" width="11.8" height="13.4" fill="#858585"/><rect x="469.68" y="407.8" width="11.8" height="13.4" fill="#858585"/><rect x="483.68" y="407.8" width="11.6" height="13.4" fill="#757575"/><rect x="497.48" y="407.8" width="11.7" height="13.4" fill="#808080"/><rect x="467.08" y="421.8" width="2.7" height="8.4" fill="#343434"/><rect x="481.38" y="421.8" width="2.4" height="8.4" fill="#343434"/><rect x="495.18" y="421.8" width="2.4" height="8.4" fill="#343434"/><rect x="455.38" y="421.8" width="11.8" height="8.4" fill="#5e5e5e"/><rect x="469.68" y="421.8" width="11.8" height="8.4" fill="#5e5e5e"/><rect x="483.68" y="421.8" width="11.6" height="8.4" fill="#5e5e5e"/><rect x="497.48" y="421.8" width="11.7" height="8.4" fill="#5e5e5e"/><rect x="467.08" y="430.5" width="2.7" height="3.7" fill="#383838"/><rect x="481.38" y="430.5" width="2.4" height="3.7" fill="#383838"/><rect x="495.18" y="430.5" width="2.4" height="3.7" fill="#383838"/><rect x="455.38" y="430.5" width="11.8" height="3.7" fill="#c4c4c4"/><rect x="469.68" y="430.5" width="11.8" height="3.7" fill="#c4c4c4"/><rect x="483.68" y="430.5" width="11.6" height="3.7" fill="#c4c4c4"/><rect x="497.48" y="430.5" width="11.7" height="3.7" fill="#c4c4c4"/><rect x="467.08" y="433.2" width="2.7" height="2.5" fill="#383838"/><rect x="481.38" y="433.2" width="2.4" height="2.5" fill="#383838"/><rect x="495.18" y="433.2" width="2.4" height="2.5" fill="#383838"/><rect x="455.38" y="433.2" width="11.8" height="2.5" fill="#e2e2e2"/><rect x="469.68" y="433.2" width="11.8" height="2.5" fill="#dedede"/><rect x="483.68" y="433.2" width="11.6" height="2.5" fill="#dedede"/><rect x="497.48" y="433.2" width="11.7" height="2.5" fill="#d9d9d9"/><rect x="467.08" y="434.7" width="2.7" height="2.3" fill="#383838"/><rect x="481.38" y="434.7" width="2.4" height="2.3" fill="#383838"/><rect x="495.18" y="434.7" width="2.4" height="2.3" fill="#383838"/><rect x="455.38" y="434.7" width="11.8" height="2.3" fill="#e6e6e6"/><rect x="469.68" y="434.7" width="11.8" height="2.3" fill="#c1c1c1"/><rect x="483.68" y="434.7" width="11.6" height="2.3" fill="#c4c4c4"/><rect x="497.48" y="434.7" width="11.7" height="2.3" fill="#c1c1c1"/><rect x="467.08" y="436" width="2.7" height="3.5" fill="#585858"/><rect x="481.38" y="436" width="2.4" height="3.5" fill="#585858"/><rect x="495.18" y="436" width="2.4" height="3.5" fill="#585858"/><rect x="455.38" y="436" width="11.8" height="3.5" fill="#ffffff"/><rect x="469.68" y="436" width="11.8" height="3.5" fill="#fafafa"/><rect x="483.68" y="436" width="11.6" height="3.5" fill="#f5f5f5"/><rect x="497.48" y="436" width="11.7" height="3.5" fill="#e6e6e6"/><rect x="467.08" y="438.5" width="2.7" height="2.9" fill="#8a8a8a"/><rect x="481.38" y="438.5" width="2.4" height="2.9" fill="#8a8a8a"/><rect x="495.18" y="438.5" width="2.4" height="2.9" fill="#8a8a8a"/><rect x="455.38" y="438.5" width="11.8" height="2.9" fill="#ffffff"/><rect x="469.68" y="438.5" width="11.8" height="2.9" fill="#ffffff"/><rect x="483.68" y="438.5" width="11.6" height="2.9" fill="#fafafa"/><rect x="497.48" y="438.5" width="11.7" height="2.9" fill="#ebebeb"/><rect x="467.08" y="441.4" width="2.7" height="4" fill="#5e5e5e"/><rect x="481.38" y="441.4" width="2.4" height="4" fill="#5e5e5e"/><rect x="495.18" y="441.4" width="2.4" height="4" fill="#5e5e5e"/><rect x="455.38" y="441.4" width="11.8" height="4" fill="#e6e6e6"/><rect x="469.68" y="441.4" width="11.8" height="4" fill="#f5f5f5"/><rect x="483.68" y="441.4" width="11.6" height="4" fill="#e6e6e6"/><rect x="497.48" y="441.4" width="11.7" height="4" fill="#cfcfcf"/><rect x="467.08" y="445.4" width="2.7" height="3.1" fill="#4a4a4a"/><rect x="481.38" y="445.4" width="2.4" height="3.1" fill="#4a4a4a"/><rect x="495.18" y="445.4" width="2.4" height="3.1" fill="#4a4a4a"/><rect x="455.38" y="445.4" width="11.8" height="3.1" fill="#e2e2e2"/><rect x="469.68" y="445.4" width="11.8" height="3.1" fill="#e2e2e2"/><rect x="483.68" y="445.4" width="11.6" height="3.1" fill="#dedede"/><rect x="497.48" y="445.4" width="11.7" height="3.1" fill="#c8c8c8"/><rect x="467.08" y="449.55" width="2.7" height="5.8" fill="#414141"/><rect x="481.38" y="449.55" width="2.4" height="5.8" fill="#414141"/><rect x="495.18" y="449.55" width="2.4" height="5.8" fill="#414141"/><rect x="455.38" y="449.55" width="11.8" height="5.8" fill="#646464"/><rect x="469.68" y="449.55" width="11.8" height="5.8" fill="#8a8a8a"/><rect x="483.68" y="449.55" width="11.6" height="5.8" fill="#8a8a8a"/><rect x="497.48" y="449.55" width="11.7" height="5.8" fill="#808080"/><rect x="467.08" y="457.8" width="2.7" height="4.7" fill="#343434"/><rect x="481.38" y="457.8" width="2.4" height="4.7" fill="#343434"/><rect x="495.18" y="457.8" width="2.4" height="4.7" fill="#343434"/><rect x="455.38" y="457.8" width="11.8" height="4.7" fill="#515151"/><rect x="469.68" y="457.8" width="11.8" height="4.7" fill="#515151"/><rect x="483.68" y="457.8" width="11.6" height="4.7" fill="#515151"/><rect x="497.48" y="457.8" width="11.7" height="4.7" fill="#515151"/><rect x="467.08" y="462.5" width="2.7" height="3.5" fill="#343434"/><rect x="481.38" y="462.5" width="2.4" height="3.5" fill="#343434"/><rect x="495.18" y="462.5" width="2.4" height="3.5" fill="#343434"/><rect x="455.38" y="462.5" width="11.8" height="3.5" fill="#4a4a4a"/><rect x="469.68" y="462.5" width="11.8" height="3.5" fill="#4a4a4a"/><rect x="483.68" y="462.5" width="11.6" height="3.5" fill="#4a4a4a"/><rect x="497.48" y="462.5" width="11.7" height="3.5" fill="#4a4a4a"/><rect x="467.08" y="466" width="2.7" height="5.3" fill="#383838"/><rect x="481.38" y="466" width="2.4" height="5.3" fill="#383838"/><rect x="495.18" y="466" width="2.4" height="5.3" fill="#383838"/><rect x="455.38" y="466" width="11.8" height="5.3" fill="#c8c8c8"/><rect x="469.68" y="466" width="11.8" height="5.3" fill="#a3a3a3"/><rect x="483.68" y="466" width="11.6" height="5.3" fill="#9b9b9b"/><rect x="497.48" y="466" width="11.7" height="5.3" fill="#969696"/><rect x="467.08" y="471.3" width="2.7" height="7.2" fill="#383838"/><rect x="481.38" y="471.3" width="2.4" height="7.2" fill="#383838"/><rect x="495.18" y="471.3" width="2.4" height="7.2" fill="#383838"/><rect x="455.38" y="471.3" width="11.8" height="7.2" fill="#969696"/><rect x="469.68" y="471.3" width="11.8" height="7.2" fill="#adadad"/><rect x="483.68" y="471.3" width="11.6" height="7.2" fill="#a7a7a7"/><rect x="497.48" y="471.3" width="11.7" height="7.2" fill="#909090"/><rect x="467.08" y="478.5" width="2.7" height="3.5" fill="#383838"/><rect x="481.38" y="478.5" width="2.4" height="3.5" fill="#383838"/><rect x="495.18" y="478.5" width="2.4" height="3.5" fill="#383838"/><rect x="455.38" y="478.5" width="11.8" height="3.5" fill="#a3a3a3"/><rect x="469.68" y="478.5" width="11.8" height="3.5" fill="#a3a3a3"/><rect x="483.68" y="478.5" width="11.6" height="3.5" fill="#adadad"/><rect x="497.48" y="478.5" width="11.7" height="3.5" fill="#9b9b9b"/><rect x="467.08" y="481" width="2.7" height="3" fill="#383838"/><rect x="481.38" y="481" width="2.4" height="3" fill="#383838"/><rect x="495.18" y="481" width="2.4" height="3" fill="#383838"/><rect x="455.38" y="481" width="11.8" height="3" fill="#b8b8b8"/><rect x="469.68" y="481" width="11.8" height="3" fill="#9b9b9b"/><rect x="483.68" y="481" width="11.6" height="3" fill="#adadad"/><rect x="497.48" y="481" width="11.7" height="3" fill="#9b9b9b"/><rect x="467.08" y="484" width="2.7" height="5.5" fill="#454545"/><rect x="481.38" y="484" width="2.4" height="5.5" fill="#454545"/><rect x="495.18" y="484" width="2.4" height="5.5" fill="#454545"/><rect x="455.38" y="484" width="11.8" height="5.5" fill="#969696"/><rect x="469.68" y="484" width="11.8" height="5.5" fill="#858585"/><rect x="483.68" y="484" width="11.6" height="5.5" fill="#858585"/><rect x="497.48" y="484" width="11.7" height="5.5" fill="#757575"/><rect x="467.08" y="489.5" width="2.7" height="3.5" fill="#454545"/><rect x="481.38" y="489.5" width="2.4" height="3.5" fill="#454545"/><rect x="495.18" y="489.5" width="2.4" height="3.5" fill="#454545"/><rect x="455.38" y="489.5" width="11.8" height="3.5" fill="#8a8a8a"/><rect x="469.68" y="489.5" width="11.8" height="3.5" fill="#8a8a8a"/><rect x="483.68" y="489.5" width="11.6" height="3.5" fill="#707070"/><rect x="497.48" y="489.5" width="11.7" height="3.5" fill="#707070"/><rect x="467.08" y="493.8" width="2.7" height="4.7" fill="#383838"/><rect x="481.38" y="493.8" width="2.4" height="4.7" fill="#383838"/><rect x="495.18" y="493.8" width="2.4" height="4.7" fill="#383838"/><rect x="455.38" y="493.8" width="11.8" height="4.7" fill="#a7a7a7"/><rect x="469.68" y="493.8" width="11.8" height="4.7" fill="#9b9b9b"/><rect x="483.68" y="493.8" width="11.6" height="4.7" fill="#9b9b9b"/><rect x="497.48" y="493.8" width="11.7" height="4.7" fill="#adadad"/><rect x="467.08" y="497.5" width="2.7" height="2.8" fill="#383838"/><rect x="481.38" y="497.5" width="2.4" height="2.8" fill="#383838"/><rect x="495.18" y="497.5" width="2.4" height="2.8" fill="#383838"/><rect x="455.38" y="497.5" width="11.8" height="2.8" fill="#b8b8b8"/><rect x="469.68" y="497.5" width="11.8" height="2.8" fill="#8a8a8a"/><rect x="483.68" y="497.5" width="11.6" height="2.8" fill="#8a8a8a"/><rect x="497.48" y="497.5" width="11.7" height="2.8" fill="#a7a7a7"/><rect x="467.08" y="500.3" width="2.7" height="3.1" fill="#383838"/><rect x="481.38" y="500.3" width="2.4" height="3.1" fill="#383838"/><rect x="495.18" y="500.3" width="2.4" height="3.1" fill="#383838"/><rect x="455.38" y="500.3" width="11.8" height="3.1" fill="#a3a3a3"/><rect x="469.68" y="500.3" width="11.8" height="3.1" fill="#909090"/><rect x="483.68" y="500.3" width="11.6" height="3.1" fill="#909090"/><rect x="497.48" y="500.3" width="11.7" height="3.1" fill="#a3a3a3"/><rect x="467.08" y="503.4" width="2.7" height="5.6" fill="#383838"/><rect x="481.38" y="503.4" width="2.4" height="5.6" fill="#383838"/><rect x="495.18" y="503.4" width="2.4" height="5.6" fill="#383838"/><rect x="455.38" y="503.4" width="11.8" height="5.6" fill="#969696"/><rect x="469.68" y="503.4" width="11.8" height="5.6" fill="#9f9f9f"/><rect x="483.68" y="503.4" width="11.6" height="5.6" fill="#969696"/><rect x="497.48" y="503.4" width="11.7" height="5.6" fill="#969696"/><rect x="467.08" y="508" width="2.7" height="4" fill="#383838"/><rect x="481.38" y="508" width="2.4" height="4" fill="#383838"/><rect x="495.18" y="508" width="2.4" height="4" fill="#383838"/><rect x="455.38" y="508" width="11.8" height="4" fill="#bdbdbd"/><rect x="469.68" y="508" width="11.8" height="4" fill="#a7a7a7"/><rect x="483.68" y="508" width="11.6" height="4" fill="#969696"/><rect x="497.48" y="508" width="11.7" height="4" fill="#a3a3a3"/><rect x="467.08" y="511" width="2.7" height="2.75" fill="#383838"/><rect x="481.38" y="511" width="2.4" height="2.75" fill="#383838"/><rect x="495.18" y="511" width="2.4" height="2.75" fill="#383838"/><rect x="455.38" y="511" width="11.8" height="2.75" fill="#d9d9d9"/><rect x="469.68" y="511" width="11.8" height="2.75" fill="#adadad"/><rect x="483.68" y="511" width="11.6" height="2.75" fill="#8a8a8a"/><rect x="497.48" y="511" width="11.7" height="2.75" fill="#909090"/><rect x="467.08" y="513.75" width="2.7" height="7.75" fill="#4a4a4a"/><rect x="481.38" y="513.75" width="2.4" height="7.75" fill="#4a4a4a"/><rect x="495.18" y="513.75" width="2.4" height="7.75" fill="#4a4a4a"/><rect x="455.38" y="513.75" width="11.8" height="7.75" fill="#909090"/><rect x="469.68" y="513.75" width="11.8" height="7.75" fill="#9b9b9b"/><rect x="483.68" y="513.75" width="11.6" height="7.75" fill="#909090"/><rect x="497.48" y="513.75" width="11.7" height="7.75" fill="#858585"/><rect x="467.08" y="522.5" width="2.7" height="2.5" fill="#383838"/><rect x="481.38" y="522.5" width="2.4" height="2.5" fill="#383838"/><rect x="495.18" y="522.5" width="2.4" height="2.5" fill="#383838"/><rect x="455.38" y="522.5" width="11.8" height="2.5" fill="#b2b2b2"/><rect x="469.68" y="522.5" width="11.8" height="2.5" fill="#b2b2b2"/><rect x="483.68" y="522.5" width="11.6" height="2.5" fill="#b2b2b2"/><rect x="497.48" y="522.5" width="11.7" height="2.5" fill="#b2b2b2"/><rect x="467.08" y="524" width="2.7" height="4" fill="#383838"/><rect x="481.38" y="524" width="2.4" height="4" fill="#383838"/><rect x="495.18" y="524" width="2.4" height="4" fill="#383838"/><rect x="455.38" y="524" width="11.8" height="4" fill="#ebebeb"/><rect x="469.68" y="524" width="11.8" height="4" fill="#e8e8e8"/><rect x="483.68" y="524" width="11.6" height="4" fill="#e2e2e2"/><rect x="497.48" y="524" width="11.7" height="4" fill="#d4d4d4"/><rect x="467.08" y="527" width="2.7" height="2.35" fill="#383838"/><rect x="481.38" y="527" width="2.4" height="2.35" fill="#383838"/><rect x="495.18" y="527" width="2.4" height="2.35" fill="#383838"/><rect x="455.38" y="527" width="11.8" height="2.35" fill="#cfcfcf"/><rect x="469.68" y="527" width="11.8" height="2.35" fill="#e6e6e6"/><rect x="483.68" y="527" width="11.6" height="2.35" fill="#dedede"/><rect x="497.48" y="527" width="11.7" height="2.35" fill="#cfcfcf"/><rect x="467.08" y="529.35" width="2.7" height="5.15" fill="#383838"/><rect x="481.38" y="529.35" width="2.4" height="5.15" fill="#383838"/><rect x="495.18" y="529.35" width="2.4" height="5.15" fill="#383838"/><rect x="455.38" y="529.35" width="11.8" height="5.15" fill="#c8c8c8"/><rect x="469.68" y="529.35" width="11.8" height="5.15" fill="#e2e2e2"/><rect x="483.68" y="529.35" width="11.6" height="5.15" fill="#d9d9d9"/><rect x="497.48" y="529.35" width="11.7" height="5.15" fill="#c8c8c8"/><rect x="467.08" y="533.5" width="2.7" height="2.2" fill="#585858"/><rect x="481.38" y="533.5" width="2.4" height="2.2" fill="#585858"/><rect x="495.18" y="533.5" width="2.4" height="2.2" fill="#585858"/><rect x="455.38" y="533.5" width="11.8" height="2.2" fill="#f5f5f5"/><rect x="469.68" y="533.5" width="11.8" height="2.2" fill="#f5f5f5"/><rect x="483.68" y="533.5" width="11.6" height="2.2" fill="#f5f5f5"/><rect x="497.48" y="533.5" width="11.7" height="2.2" fill="#f0f0f0"/><rect x="467.08" y="534.7" width="2.7" height="3.3" fill="#383838"/><rect x="481.38" y="534.7" width="2.4" height="3.3" fill="#383838"/><rect x="495.18" y="534.7" width="2.4" height="3.3" fill="#383838"/><rect x="455.38" y="534.7" width="11.8" height="3.3" fill="#b8b8b8"/><rect x="469.68" y="534.7" width="11.8" height="3.3" fill="#d4d4d4"/><rect x="483.68" y="534.7" width="11.6" height="3.3" fill="#c8c8c8"/><rect x="497.48" y="534.7" width="11.7" height="3.3" fill="#a3a3a3"/><rect x="467.08" y="537" width="2.7" height="3.3" fill="#383838"/><rect x="481.38" y="537" width="2.4" height="3.3" fill="#383838"/><rect x="495.18" y="537" width="2.4" height="3.3" fill="#383838"/><rect x="455.38" y="537" width="11.8" height="3.3" fill="#d4d4d4"/><rect x="469.68" y="537" width="11.8" height="3.3" fill="#d9d9d9"/><rect x="483.68" y="537" width="11.6" height="3.3" fill="#cbcbcb"/><rect x="497.48" y="537" width="11.7" height="3.3" fill="#b2b2b2"/><rect x="467.08" y="540.3" width="2.7" height="3.9" fill="#3d3d3d"/><rect x="481.38" y="540.3" width="2.4" height="3.9" fill="#3d3d3d"/><rect x="495.18" y="540.3" width="2.4" height="3.9" fill="#3d3d3d"/><rect x="455.38" y="540.3" width="11.8" height="3.9" fill="#8a8a8a"/><rect x="469.68" y="540.3" width="11.8" height="3.9" fill="#909090"/><rect x="483.68" y="540.3" width="11.6" height="3.9" fill="#909090"/><rect x="497.48" y="540.3" width="11.7" height="3.9" fill="#909090"/><rect x="467.08" y="544.8" width="2.7" height="12.4" fill="#545454"/><rect x="481.38" y="544.8" width="2.4" height="12.4" fill="#545454"/><rect x="495.18" y="544.8" width="2.4" height="12.4" fill="#545454"/><rect x="455.38" y="544.8" width="11.8" height="12.4" fill="#858585"/><rect x="469.68" y="544.8" width="11.8" height="12.4" fill="#808080"/><rect x="483.68" y="544.8" width="11.6" height="12.4" fill="#646464"/><rect x="497.48" y="544.8" width="11.7" height="12.4" fill="#5e5e5e"/><rect x="467.08" y="559.8" width="2.7" height="7.2" fill="#545454"/><rect x="481.38" y="559.8" width="2.4" height="7.2" fill="#545454"/><rect x="495.18" y="559.8" width="2.4" height="7.2" fill="#545454"/><rect x="455.38" y="559.8" width="11.8" height="7.2" fill="#8a8a8a"/><rect x="469.68" y="559.8" width="11.8" height="7.2" fill="#808080"/><rect x="483.68" y="559.8" width="11.6" height="7.2" fill="#909090"/><rect x="497.48" y="559.8" width="11.7" height="7.2" fill="#8a8a8a"/><rect x="467.08" y="566" width="2.7" height="7.2" fill="#545454"/><rect x="481.38" y="566" width="2.4" height="7.2" fill="#545454"/><rect x="495.18" y="566" width="2.4" height="7.2" fill="#545454"/><rect x="455.38" y="566" width="11.8" height="7.2" fill="#9b9b9b"/><rect x="469.68" y="566" width="11.8" height="7.2" fill="#adadad"/><rect x="483.68" y="566" width="11.6" height="7.2" fill="#a3a3a3"/><rect x="497.48" y="566" width="11.7" height="7.2" fill="#909090"/><rect x="467.08" y="574.8" width="2.7" height="3.5" fill="#383838"/><rect x="481.38" y="574.8" width="2.4" height="3.5" fill="#383838"/><rect x="495.18" y="574.8" width="2.4" height="3.5" fill="#383838"/><rect x="455.38" y="574.8" width="11.8" height="3.5" fill="#a7a7a7"/><rect x="469.68" y="574.8" width="11.8" height="3.5" fill="#a7a7a7"/><rect x="483.68" y="574.8" width="11.6" height="3.5" fill="#a7a7a7"/><rect x="497.48" y="574.8" width="11.7" height="3.5" fill="#a7a7a7"/><rect x="467.08" y="577.3" width="2.7" height="3" fill="#383838"/><rect x="481.38" y="577.3" width="2.4" height="3" fill="#383838"/><rect x="495.18" y="577.3" width="2.4" height="3" fill="#383838"/><rect x="455.38" y="577.3" width="11.8" height="3" fill="#d4d4d4"/><rect x="469.68" y="577.3" width="11.8" height="3" fill="#cbcbcb"/><rect x="483.68" y="577.3" width="11.6" height="3" fill="#c8c8c8"/><rect x="497.48" y="577.3" width="11.7" height="3" fill="#cbcbcb"/><rect x="467.08" y="580.3" width="2.7" height="5.5" fill="#383838"/><rect x="481.38" y="580.3" width="2.4" height="5.5" fill="#383838"/><rect x="495.18" y="580.3" width="2.4" height="5.5" fill="#383838"/><rect x="455.38" y="580.3" width="11.8" height="5.5" fill="#d4d4d4"/><rect x="469.68" y="580.3" width="11.8" height="5.5" fill="#cfcfcf"/><rect x="483.68" y="580.3" width="11.6" height="5.5" fill="#c8c8c8"/><rect x="497.48" y="580.3" width="11.7" height="5.5" fill="#c8c8c8"/><rect x="467.08" y="585.8" width="2.7" height="4.4" fill="#3d3d3d"/><rect x="481.38" y="585.8" width="2.4" height="4.4" fill="#3d3d3d"/><rect x="495.18" y="585.8" width="2.4" height="4.4" fill="#3d3d3d"/><rect x="455.38" y="585.8" width="11.8" height="4.4" fill="#b2b2b2"/><rect x="469.68" y="585.8" width="11.8" height="4.4" fill="#b2b2b2"/><rect x="483.68" y="585.8" width="11.6" height="4.4" fill="#b2b2b2"/><rect x="497.48" y="585.8" width="11.7" height="4.4" fill="#a3a3a3"/><rect x="467.08" y="590.8" width="2.7" height="4.4" fill="#3d3d3d"/><rect x="481.38" y="590.8" width="2.4" height="4.4" fill="#3d3d3d"/><rect x="495.18" y="590.8" width="2.4" height="4.4" fill="#3d3d3d"/><rect x="455.38" y="590.8" width="11.8" height="4.4" fill="#c1c1c1"/><rect x="469.68" y="590.8" width="11.8" height="4.4" fill="#c1c1c1"/><rect x="483.68" y="590.8" width="11.6" height="4.4" fill="#c8c8c8"/><rect x="497.48" y="590.8" width="11.7" height="4.4" fill="#c1c1c1"/><rect x="467.08" y="595.8" width="2.7" height="2.7" fill="#414141"/><rect x="481.38" y="595.8" width="2.4" height="2.7" fill="#414141"/><rect x="495.18" y="595.8" width="2.4" height="2.7" fill="#414141"/><rect x="455.38" y="595.8" width="11.8" height="2.7" fill="#b2b2b2"/><rect x="469.68" y="595.8" width="11.8" height="2.7" fill="#b2b2b2"/><rect x="483.68" y="595.8" width="11.6" height="2.7" fill="#b2b2b2"/><rect x="497.48" y="595.8" width="11.7" height="2.7" fill="#b2b2b2"/><rect x="467.08" y="600.4" width="2.7" height="4.95" fill="#383838"/><rect x="481.38" y="600.4" width="2.4" height="4.95" fill="#383838"/><rect x="495.18" y="600.4" width="2.4" height="4.95" fill="#383838"/><rect x="455.38" y="600.4" width="11.8" height="4.95" fill="#bdbdbd"/><rect x="469.68" y="600.4" width="11.8" height="4.95" fill="#bdbdbd"/><rect x="483.68" y="600.4" width="11.6" height="4.95" fill="#bdbdbd"/><rect x="497.48" y="600.4" width="11.7" height="4.95" fill="#bdbdbd"/><rect x="467.08" y="605.35" width="2.7" height="5.05" fill="#343434"/><rect x="481.38" y="605.35" width="2.4" height="5.05" fill="#343434"/><rect x="495.18" y="605.35" width="2.4" height="5.05" fill="#343434"/><rect x="455.38" y="605.35" width="11.8" height="5.05" fill="#adadad"/><rect x="469.68" y="605.35" width="11.8" height="5.05" fill="#9b9b9b"/><rect x="483.68" y="605.35" width="11.6" height="5.05" fill="#bdbdbd"/><rect x="497.48" y="605.35" width="11.7" height="5.05" fill="#c1c1c1"/><rect x="467.08" y="610.4" width="2.7" height="5.6" fill="#303030"/><rect x="481.38" y="610.4" width="2.4" height="5.6" fill="#303030"/><rect x="495.18" y="610.4" width="2.4" height="5.6" fill="#303030"/><rect x="455.38" y="610.4" width="11.8" height="5.6" fill="#bdbdbd"/><rect x="469.68" y="610.4" width="11.8" height="5.6" fill="#969696"/><rect x="483.68" y="610.4" width="11.6" height="5.6" fill="#9b9b9b"/><rect x="497.48" y="610.4" width="11.7" height="5.6" fill="#858585"/><rect x="467.08" y="615" width="2.7" height="2.5" fill="#303030"/><rect x="481.38" y="615" width="2.4" height="2.5" fill="#303030"/><rect x="495.18" y="615" width="2.4" height="2.5" fill="#303030"/><rect x="455.38" y="615" width="11.8" height="2.5" fill="#969696"/><rect x="469.68" y="615" width="11.8" height="2.5" fill="#969696"/><rect x="483.68" y="615" width="11.6" height="2.5" fill="#969696"/><rect x="497.48" y="615" width="11.7" height="2.5" fill="#969696"/><rect x="467.08" y="616.5" width="2.7" height="5" fill="#303030"/><rect x="481.38" y="616.5" width="2.4" height="5" fill="#303030"/><rect x="495.18" y="616.5" width="2.4" height="5" fill="#303030"/><rect x="455.38" y="616.5" width="11.8" height="5" fill="#cbcbcb"/><rect x="469.68" y="616.5" width="11.8" height="5" fill="#a7a7a7"/><rect x="483.68" y="616.5" width="11.6" height="5" fill="#b2b2b2"/><rect x="497.48" y="616.5" width="11.7" height="5" fill="#bdbdbd"/><rect x="467.08" y="620.5" width="2.7" height="2" fill="#303030"/><rect x="481.38" y="620.5" width="2.4" height="2" fill="#303030"/><rect x="495.18" y="620.5" width="2.4" height="2" fill="#303030"/><rect x="455.38" y="620.5" width="11.8" height="2" fill="#9b9b9b"/><rect x="469.68" y="620.5" width="11.8" height="2" fill="#9b9b9b"/><rect x="483.68" y="620.5" width="11.6" height="2" fill="#9b9b9b"/><rect x="497.48" y="620.5" width="11.7" height="2" fill="#9b9b9b"/><rect x="467.08" y="622.5" width="2.7" height="3" fill="#3d3d3d"/><rect x="481.38" y="622.5" width="2.4" height="3" fill="#3d3d3d"/><rect x="495.18" y="622.5" width="2.4" height="3" fill="#3d3d3d"/><rect x="455.38" y="622.5" width="11.8" height="3" fill="#9b9b9b"/><rect x="469.68" y="622.5" width="11.8" height="3" fill="#9b9b9b"/><rect x="483.68" y="622.5" width="11.6" height="3" fill="#9b9b9b"/><rect x="497.48" y="622.5" width="11.7" height="3" fill="#9b9b9b"/><rect x="467.08" y="625.5" width="2.7" height="2.5" fill="#3d3d3d"/><rect x="481.38" y="625.5" width="2.4" height="2.5" fill="#3d3d3d"/><rect x="495.18" y="625.5" width="2.4" height="2.5" fill="#3d3d3d"/><rect x="455.38" y="625.5" width="11.8" height="2.5" fill="#9b9b9b"/><rect x="469.68" y="625.5" width="11.8" height="2.5" fill="#9b9b9b"/><rect x="483.68" y="625.5" width="11.6" height="2.5" fill="#9b9b9b"/><rect x="497.48" y="625.5" width="11.7" height="2.5" fill="#9b9b9b"/><rect x="467.08" y="628" width="2.7" height="7.5" fill="#303030"/><rect x="481.38" y="628" width="2.4" height="7.5" fill="#303030"/><rect x="495.18" y="628" width="2.4" height="7.5" fill="#303030"/><rect x="455.38" y="628" width="11.8" height="7.5" fill="#a3a3a3"/><rect x="469.68" y="628" width="11.8" height="7.5" fill="#a3a3a3"/><rect x="483.68" y="628" width="11.6" height="7.5" fill="#9b9b9b"/><rect x="497.48" y="628" width="11.7" height="7.5" fill="#969696"/><rect x="467.08" y="634.5" width="2.7" height="6.5" fill="#303030"/><rect x="481.38" y="634.5" width="2.4" height="6.5" fill="#303030"/><rect x="495.18" y="634.5" width="2.4" height="6.5" fill="#303030"/><rect x="455.38" y="634.5" width="11.8" height="6.5" fill="#b2b2b2"/><rect x="469.68" y="634.5" width="11.8" height="6.5" fill="#a3a3a3"/><rect x="483.68" y="634.5" width="11.6" height="6.5" fill="#9b9b9b"/><rect x="497.48" y="634.5" width="11.7" height="6.5" fill="#999999"/><rect x="467.08" y="640" width="2.7" height="2.5" fill="#303030"/><rect x="481.38" y="640" width="2.4" height="2.5" fill="#303030"/><rect x="495.18" y="640" width="2.4" height="2.5" fill="#303030"/><rect x="455.38" y="640" width="11.8" height="2.5" fill="#9f9f9f"/><rect x="469.68" y="640" width="11.8" height="2.5" fill="#a3a3a3"/><rect x="483.68" y="640" width="11.6" height="2.5" fill="#9b9b9b"/><rect x="497.48" y="640" width="11.7" height="2.5" fill="#999999"/><rect x="467.08" y="642.5" width="2.7" height="5.9" fill="#303030"/><rect x="481.38" y="642.5" width="2.4" height="5.9" fill="#303030"/><rect x="495.18" y="642.5" width="2.4" height="5.9" fill="#303030"/><rect x="455.38" y="642.5" width="11.8" height="5.9" fill="#909090"/><rect x="469.68" y="642.5" width="11.8" height="5.9" fill="#a7a7a7"/><rect x="483.68" y="642.5" width="11.6" height="5.9" fill="#9b9b9b"/><rect x="497.48" y="642.5" width="11.7" height="5.9" fill="#969696"/><rect x="467.08" y="648.4" width="2.7" height="2.6" fill="#303030"/><rect x="481.38" y="648.4" width="2.4" height="2.6" fill="#303030"/><rect x="495.18" y="648.4" width="2.4" height="2.6" fill="#303030"/><rect x="455.38" y="648.4" width="11.8" height="2.6" fill="#858585"/><rect x="469.68" y="648.4" width="11.8" height="2.6" fill="#909090"/><rect x="483.68" y="648.4" width="11.6" height="2.6" fill="#7a7a7a"/><rect x="497.48" y="648.4" width="11.7" height="2.6" fill="#808080"/><rect x="467.08" y="650" width="2.7" height="4" fill="#303030"/><rect x="481.38" y="650" width="2.4" height="4" fill="#303030"/><rect x="495.18" y="650" width="2.4" height="4" fill="#303030"/><rect x="455.38" y="650" width="11.8" height="4" fill="#bdbdbd"/><rect x="469.68" y="650" width="11.8" height="4" fill="#9f9f9f"/><rect x="483.68" y="650" width="11.6" height="4" fill="#858585"/><rect x="497.48" y="650" width="11.7" height="4" fill="#8a8a8a"/><rect x="467.08" y="653" width="2.7" height="13" fill="#303030"/><rect x="481.38" y="653" width="2.4" height="13" fill="#303030"/><rect x="495.18" y="653" width="2.4" height="13" fill="#303030"/><rect x="455.38" y="653" width="11.8" height="13" fill="#9b9b9b"/><rect x="469.68" y="653" width="11.8" height="13" fill="#a3a3a3"/><rect x="483.68" y="653" width="11.6" height="13" fill="#8d8d8d"/><rect x="497.48" y="653" width="11.7" height="13" fill="#909090"/><rect x="467.08" y="665" width="2.7" height="4" fill="#303030"/><rect x="481.38" y="665" width="2.4" height="4" fill="#303030"/><rect x="495.18" y="665" width="2.4" height="4" fill="#303030"/><rect x="455.38" y="665" width="11.8" height="4" fill="#adadad"/><rect x="469.68" y="665" width="11.8" height="4" fill="#a3a3a3"/><rect x="483.68" y="665" width="11.6" height="4" fill="#909090"/><rect x="497.48" y="665" width="11.7" height="4" fill="#909090"/><rect x="467.08" y="668" width="2.7" height="5.5" fill="#303030"/><rect x="481.38" y="668" width="2.4" height="5.5" fill="#303030"/><rect x="495.18" y="668" width="2.4" height="5.5" fill="#303030"/><rect x="455.38" y="668" width="11.8" height="5.5" fill="#969696"/><rect x="469.68" y="668" width="11.8" height="5.5" fill="#9f9f9f"/><rect x="483.68" y="668" width="11.6" height="5.5" fill="#969696"/><rect x="497.48" y="668" width="11.7" height="5.5" fill="#909090"/><rect x="467.08" y="673.5" width="2.7" height="6.5" fill="#303030"/><rect x="481.38" y="673.5" width="2.4" height="6.5" fill="#303030"/><rect x="495.18" y="673.5" width="2.4" height="6.5" fill="#303030"/><rect x="455.38" y="673.5" width="11.8" height="6.5" fill="#969696"/><rect x="469.68" y="673.5" width="11.8" height="6.5" fill="#9f9f9f"/><rect x="483.68" y="673.5" width="11.6" height="6.5" fill="#969696"/><rect x="497.48" y="673.5" width="11.7" height="6.5" fill="#909090"/><rect x="467.08" y="680" width="2.7" height="10.55" fill="#303030"/><rect x="481.38" y="680" width="2.4" height="10.55" fill="#303030"/><rect x="495.18" y="680" width="2.4" height="10.55" fill="#303030"/><rect x="455.38" y="680" width="11.8" height="10.55" fill="#969696"/><rect x="469.68" y="680" width="11.8" height="10.55" fill="#9f9f9f"/><rect x="483.68" y="680" width="11.6" height="10.55" fill="#999999"/><rect x="497.48" y="680" width="11.7" height="10.55" fill="#909090"/><rect x="467.08" y="690.55" width="2.7" height="5.45" fill="#474747"/><rect x="481.38" y="690.55" width="2.4" height="5.45" fill="#474747"/><rect x="495.18" y="690.55" width="2.4" height="5.45" fill="#474747"/><rect x="455.38" y="690.55" width="11.8" height="5.45" fill="#808080"/><rect x="469.68" y="690.55" width="11.8" height="5.45" fill="#7a7a7a"/><rect x="483.68" y="690.55" width="11.6" height="5.45" fill="#737373"/><rect x="497.48" y="690.55" width="11.7" height="5.45" fill="#707070"/><rect x="467.08" y="695" width="2.7" height="19.35" fill="#303030"/><rect x="481.38" y="695" width="2.4" height="19.35" fill="#303030"/><rect x="495.18" y="695" width="2.4" height="19.35" fill="#303030"/><rect x="455.38" y="695" width="11.8" height="19.35" fill="#7d7d7d"/><rect x="469.68" y="695" width="11.8" height="19.35" fill="#787878"/><rect x="483.68" y="695" width="11.6" height="19.35" fill="#707070"/><rect x="497.48" y="695" width="11.7" height="19.35" fill="#6d6d6d"/><rect x="467.08" y="714.35" width="2.7" height="3.25" fill="#434343"/><rect x="481.38" y="714.35" width="2.4" height="3.25" fill="#434343"/><rect x="495.18" y="714.35" width="2.4" height="3.25" fill="#434343"/><rect x="455.38" y="714.35" width="11.8" height="3.25" fill="#646464"/><rect x="469.68" y="714.35" width="11.8" height="3.25" fill="#646464"/><rect x="483.68" y="714.35" width="11.6" height="3.25" fill="#646464"/><rect x="497.48" y="714.35" width="11.7" height="3.25" fill="#646464"/><rect x="467.08" y="717.6" width="2.7" height="1.9" fill="#434343"/><rect x="481.38" y="717.6" width="2.4" height="1.9" fill="#434343"/><rect x="495.18" y="717.6" width="2.4" height="1.9" fill="#434343"/><rect x="455.38" y="717.6" width="11.8" height="1.9" fill="#646464"/><rect x="469.68" y="717.6" width="11.8" height="1.9" fill="#646464"/><rect x="483.68" y="717.6" width="11.6" height="1.9" fill="#646464"/><rect x="497.48" y="717.6" width="11.7" height="1.9" fill="#646464"/><rect x="347.53" y="531.9" width="33" height="1" fill="#b2b2b2"/><rect x="380.53" y="531.9" width="63" height="1" fill="#585858"/></g><rect x="343.53" y="80" width="176.9" height="1.9" fill="#fff"/><rect x="343.53" y="82.9" width="176.9" height="4.1" fill="#fff"/><rect x="343.53" y="94.1" width="176.9" height="1.9" fill="#fff"/><rect x="343.53" y="96.8" width="176.9" height="1.1" fill="#fff"/><rect x="343.53" y="99.8" width="176.9" height="1.2" fill="#fff"/><rect x="343.53" y="101.9" width="176.9" height="25.1" fill="#fff"/><rect x="343.53" y="129" width="176.9" height="0.9" fill="#000"/><rect x="343.53" y="129.9" width="176.9" height="34.2" fill="#fff"/><rect x="343.53" y="170" width="176.9" height="1" fill="#000"/><rect x="343.53" y="186" width="176.9" height="2.6" fill="#000"/><rect x="343.53" y="188.6" width="176.9" height="220.4" fill="#fff"/><rect x="343.53" y="420" width="176.9" height="3" fill="#fff"/><rect x="343.53" y="429" width="176.9" height="2.7" fill="#000"/><rect x="343.53" y="440.9" width="176.9" height="1" fill="#000"/><rect x="343.53" y="444.9" width="176.9" height="1" fill="#000"/><rect x="343.53" y="448.1" width="176.9" height="0.8" fill="#000"/><rect x="343.53" y="448.9" width="176.9" height="1.3" fill="#fff"/><rect x="343.53" y="454.9" width="176.9" height="0.9" fill="#000"/><rect x="343.53" y="455.8" width="176.9" height="3.2" fill="#fff"/><rect x="343.53" y="462" width="176.9" height="1" fill="#fff"/><rect x="343.53" y="465" width="176.9" height="2" fill="#000"/><rect x="343.53" y="470.8" width="176.9" height="1" fill="#000"/><rect x="343.53" y="478" width="176.9" height="1" fill="#fff"/><rect x="343.53" y="483" width="176.9" height="2" fill="#000"/><rect x="343.53" y="489" width="176.9" height="1" fill="#fff"/><rect x="343.53" y="491.8" width="176.9" height="3.2" fill="#fff"/><rect x="343.53" y="499.8" width="176.9" height="1" fill="#000"/><rect x="343.53" y="502.8" width="176.9" height="1.2" fill="#fff"/><rect x="343.53" y="513" width="176.9" height="1.5" fill="#000"/><rect x="343.53" y="521" width="176.9" height="1" fill="#fff"/><rect x="343.53" y="522" width="176.9" height="1" fill="#000"/><rect x="343.53" y="528.85" width="176.9" height="1" fill="#000"/><rect x="343.53" y="539.8" width="176.9" height="1" fill="#000"/><rect x="343.53" y="543" width="176.9" height="3" fill="#fff"/><rect x="343.53" y="556" width="176.9" height="5" fill="#fff"/><rect x="343.53" y="572" width="176.9" height="4" fill="#fff"/><rect x="343.53" y="579.8" width="176.9" height="1" fill="#000"/><rect x="343.53" y="585" width="176.9" height="1.6" fill="#000"/><rect x="343.53" y="589" width="176.9" height="3" fill="#000"/><rect x="343.53" y="594" width="176.9" height="3" fill="#000"/><rect x="343.53" y="598" width="176.9" height="1" fill="#fff"/><rect x="343.53" y="599" width="176.9" height="2.6" fill="#000"/><rect x="343.53" y="604.85" width="176.9" height="1" fill="#000"/><rect x="343.53" y="609.9" width="176.9" height="1" fill="#000"/><rect x="343.53" y="622" width="176.9" height="1" fill="#fff"/><rect x="343.53" y="625" width="176.9" height="1" fill="#fff"/><rect x="343.53" y="627" width="176.9" height="2" fill="#fff"/><rect x="343.53" y="642" width="176.9" height="1" fill="#fff"/><rect x="343.53" y="647.9" width="176.9" height="1" fill="#000"/><rect x="343.53" y="673" width="176.9" height="1" fill="#fff"/><rect x="343.53" y="679" width="176.9" height="2" fill="#fff"/><rect x="343.53" y="690.05" width="176.9" height="1" fill="#000"/><rect x="343.53" y="713.85" width="176.9" height="1" fill="#000"/><rect x="343.53" y="717" width="176.9" height="1.2" fill="#fff"/></g><g clip-path="url(#cp2)"><g filter="url(#jet)"><rect x="553.95" y="78" width="180.9" height="644" fill="#303030"/><rect x="555.95" y="80.95" width="176.9" height="3.15" fill="#383838"/><rect x="555.95" y="85.8" width="176.9" height="9.15" fill="#343434"/><rect x="555.95" y="95.05" width="176.9" height="2.3" fill="#343434"/><rect x="555.95" y="97.35" width="176.9" height="3.05" fill="#343434"/><rect x="555.95" y="100.4" width="176.9" height="2.7" fill="#343434"/><rect x="555.95" y="125.8" width="176.9" height="3.65" fill="#343434"/><rect x="555.95" y="162.9" width="176.9" height="7.6" fill="#343434"/><rect x="555.95" y="170.5" width="176.9" height="4.5" fill="#343434"/><rect x="555.95" y="174" width="176.9" height="7" fill="#343434"/><rect x="555.95" y="180" width="176.9" height="4.5" fill="#343434"/><rect x="555.95" y="183.5" width="176.9" height="3.7" fill="#343434"/><rect x="555.95" y="407.8" width="176.9" height="6.2" fill="#343434"/><rect x="555.95" y="413" width="176.9" height="8.2" fill="#343434"/><rect x="555.95" y="421.8" width="176.9" height="8.4" fill="#343434"/><rect x="555.95" y="430.5" width="176.9" height="4" fill="#383838"/><rect x="555.95" y="433.5" width="112.35" height="3.5" fill="url(#g40)"/><rect x="667.8" y="433.5" width="65.05" height="3.5" fill="#383838"/><rect x="555.95" y="436" width="112.35" height="3.3" fill="url(#g41)"/><rect x="667.8" y="436" width="65.05" height="3.3" fill="#585858"/><rect x="555.95" y="438.3" width="112.35" height="3.1" fill="url(#g42)"/><rect x="667.8" y="438.3" width="65.05" height="3.1" fill="#909090"/><rect x="555.95" y="441.4" width="112.35" height="4" fill="url(#g43)"/><rect x="667.8" y="441.4" width="65.05" height="4" fill="#585858"/><rect x="555.95" y="445.4" width="112.35" height="3.1" fill="url(#g44)"/><rect x="667.8" y="445.4" width="65.05" height="3.1" fill="#5e5e5e"/><rect x="555.95" y="449.55" width="176.9" height="5.8" fill="#3f3f3f"/><rect x="555.95" y="457.8" width="176.9" height="4.7" fill="#343434"/><rect x="555.95" y="462.5" width="176.9" height="3.5" fill="#343434"/><rect x="555.95" y="466" width="176.9" height="5.3" fill="#383838"/><rect x="555.95" y="471.3" width="176.9" height="7.2" fill="#383838"/><rect x="555.95" y="478.5" width="176.9" height="5.5" fill="#383838"/><rect x="555.95" y="484" width="176.9" height="5.5" fill="#383838"/><rect x="555.95" y="489.5" width="176.9" height="3.5" fill="#383838"/><rect x="555.95" y="493.8" width="176.9" height="6.5" fill="#383838"/><rect x="555.95" y="500.3" width="176.9" height="3.1" fill="#383838"/><rect x="555.95" y="503.4" width="176.9" height="5.6" fill="#383838"/><rect x="555.95" y="508" width="176.9" height="5.75" fill="#383838"/><rect x="555.95" y="513.75" width="176.9" height="7.75" fill="#383838"/><rect x="555.95" y="522.5" width="112.35" height="2.5" fill="url(#g45)"/><rect x="667.8" y="522.5" width="65.05" height="2.5" fill="#383838"/><rect x="555.95" y="524" width="112.35" height="4.5" fill="url(#g46)"/><rect x="667.8" y="524" width="65.05" height="4.5" fill="#383838"/><rect x="555.95" y="527.5" width="112.35" height="1.85" fill="url(#g47)"/><rect x="667.8" y="527.5" width="65.05" height="1.85" fill="#383838"/><rect x="555.95" y="529.35" width="112.35" height="5.15" fill="url(#g48)"/><rect x="667.8" y="529.35" width="65.05" height="5.15" fill="#383838"/><rect x="555.95" y="533.5" width="112.35" height="2.2" fill="url(#g49)"/><rect x="667.8" y="533.5" width="65.05" height="2.2" fill="#646464"/><rect x="555.95" y="534.7" width="112.35" height="2.8" fill="url(#g50)"/><rect x="667.8" y="534.7" width="65.05" height="2.8" fill="#383838"/><rect x="555.95" y="536.5" width="112.35" height="3.8" fill="url(#g51)"/><rect x="667.8" y="536.5" width="65.05" height="3.8" fill="#383838"/><rect x="555.95" y="540.3" width="176.9" height="3.9" fill="#383838"/><rect x="555.95" y="544.8" width="176.9" height="12.4" fill="#343434"/><rect x="555.95" y="559.8" width="176.9" height="7.2" fill="#343434"/><rect x="555.95" y="566" width="176.9" height="7.2" fill="#343434"/><rect x="555.95" y="574.8" width="112.35" height="3.7" fill="url(#g52)"/><rect x="667.8" y="574.8" width="65.05" height="3.7" fill="#383838"/><rect x="555.95" y="577.5" width="112.35" height="2.8" fill="url(#g53)"/><rect x="667.8" y="577.5" width="65.05" height="2.8" fill="#383838"/><rect x="555.95" y="580.3" width="112.35" height="5.5" fill="url(#g54)"/><rect x="667.8" y="580.3" width="65.05" height="5.5" fill="#383838"/><rect x="555.95" y="585.8" width="176.9" height="4.4" fill="#3d3d3d"/><rect x="555.95" y="590.8" width="176.9" height="4.4" fill="#3d3d3d"/><rect x="555.95" y="595.8" width="176.9" height="2.7" fill="#414141"/><rect x="555.95" y="600.4" width="176.9" height="4.95" fill="#383838"/><rect x="555.95" y="605.35" width="176.9" height="5.05" fill="#343434"/><rect x="555.95" y="610.4" width="176.9" height="3.1" fill="#303030"/><rect x="555.95" y="612.5" width="176.9" height="3" fill="#303030"/><rect x="555.95" y="614.5" width="176.9" height="2.5" fill="#303030"/><rect x="555.95" y="616" width="112.35" height="5.5" fill="url(#g55)"/><rect x="667.8" y="616" width="65.05" height="5.5" fill="#303030"/><rect x="555.95" y="620.5" width="176.9" height="2" fill="#303030"/><rect x="555.95" y="622.5" width="176.9" height="3" fill="#383838"/><rect x="555.95" y="625.5" width="176.9" height="2.5" fill="#383838"/><rect x="555.95" y="628" width="176.9" height="14.5" fill="#303030"/><rect x="555.95" y="642.5" width="176.9" height="5.9" fill="#303030"/><rect x="555.95" y="648.4" width="176.9" height="2.6" fill="#303030"/><rect x="555.95" y="650" width="176.9" height="3.5" fill="#303030"/><rect x="555.95" y="652.5" width="176.9" height="21" fill="#303030"/><rect x="555.95" y="673.5" width="176.9" height="6.5" fill="#303030"/><rect x="555.95" y="680" width="176.9" height="10.55" fill="#303030"/><rect x="555.95" y="690.55" width="176.9" height="23.8" fill="#303030"/><rect x="555.95" y="714.35" width="176.9" height="3.25" fill="#3f3f3f"/><rect x="555.95" y="717.6" width="176.9" height="1.9" fill="#3f3f3f"/><rect x="679.5" y="80.95" width="2.7" height="3.15" fill="#383838"/><rect x="693.8" y="80.95" width="2.4" height="3.15" fill="#383838"/><rect x="707.6" y="80.95" width="2.4" height="3.15" fill="#383838"/><rect x="667.8" y="80.95" width="11.8" height="3.15" fill="#4a4a4a"/><rect x="682.1" y="80.95" width="11.8" height="3.15" fill="#4a4a4a"/><rect x="696.1" y="80.95" width="11.6" height="3.15" fill="#4a4a4a"/><rect x="709.9" y="80.95" width="11.7" height="3.15" fill="#4a4a4a"/><rect x="679.5" y="85.8" width="2.7" height="9.15" fill="#343434"/><rect x="693.8" y="85.8" width="2.4" height="9.15" fill="#343434"/><rect x="707.6" y="85.8" width="2.4" height="9.15" fill="#343434"/><rect x="667.8" y="85.8" width="11.8" height="9.15" fill="#7a7a7a"/><rect x="682.1" y="85.8" width="11.8" height="9.15" fill="#6a6a6a"/><rect x="696.1" y="85.8" width="11.6" height="9.15" fill="#5e5e5e"/><rect x="709.9" y="85.8" width="11.7" height="9.15" fill="#585858"/><rect x="679.5" y="95.05" width="2.7" height="2.3" fill="#343434"/><rect x="693.8" y="95.05" width="2.4" height="2.3" fill="#343434"/><rect x="707.6" y="95.05" width="2.4" height="2.3" fill="#343434"/><rect x="667.8" y="95.05" width="11.8" height="2.3" fill="#8a8a8a"/><rect x="682.1" y="95.05" width="11.8" height="2.3" fill="#7a7a7a"/><rect x="696.1" y="95.05" width="11.6" height="2.3" fill="#646464"/><rect x="709.9" y="95.05" width="11.7" height="2.3" fill="#414141"/><rect x="679.5" y="97.35" width="2.7" height="3.05" fill="#343434"/><rect x="693.8" y="97.35" width="2.4" height="3.05" fill="#343434"/><rect x="707.6" y="97.35" width="2.4" height="3.05" fill="#343434"/><rect x="667.8" y="97.35" width="11.8" height="3.05" fill="#8a8a8a"/><rect x="682.1" y="97.35" width="11.8" height="3.05" fill="#7a7a7a"/><rect x="696.1" y="97.35" width="11.6" height="3.05" fill="#646464"/><rect x="709.9" y="97.35" width="11.7" height="3.05" fill="#414141"/><rect x="679.5" y="100.4" width="2.7" height="2.7" fill="#343434"/><rect x="693.8" y="100.4" width="2.4" height="2.7" fill="#343434"/><rect x="707.6" y="100.4" width="2.4" height="2.7" fill="#343434"/><rect x="667.8" y="100.4" width="11.8" height="2.7" fill="#858585"/><rect x="682.1" y="100.4" width="11.8" height="2.7" fill="#757575"/><rect x="696.1" y="100.4" width="11.6" height="2.7" fill="#5e5e5e"/><rect x="709.9" y="100.4" width="11.7" height="2.7" fill="#414141"/><rect x="679.5" y="125.8" width="2.7" height="3.65" fill="#343434"/><rect x="693.8" y="125.8" width="2.4" height="3.65" fill="#343434"/><rect x="707.6" y="125.8" width="2.4" height="3.65" fill="#343434"/><rect x="667.8" y="125.8" width="11.8" height="3.65" fill="#8a8a8a"/><rect x="682.1" y="125.8" width="11.8" height="3.65" fill="#8a8a8a"/><rect x="696.1" y="125.8" width="11.6" height="3.65" fill="#8a8a8a"/><rect x="709.9" y="125.8" width="11.7" height="3.65" fill="#858585"/><rect x="679.5" y="162.9" width="2.7" height="7.6" fill="#343434"/><rect x="693.8" y="162.9" width="2.4" height="7.6" fill="#343434"/><rect x="707.6" y="162.9" width="2.4" height="7.6" fill="#343434"/><rect x="667.8" y="162.9" width="11.8" height="7.6" fill="#b2b2b2"/><rect x="682.1" y="162.9" width="11.8" height="7.6" fill="#b2b2b2"/><rect x="696.1" y="162.9" width="11.6" height="7.6" fill="#b8b8b8"/><rect x="709.9" y="162.9" width="11.7" height="7.6" fill="#9b9b9b"/><rect x="679.5" y="170.5" width="2.7" height="4.5" fill="#343434"/><rect x="693.8" y="170.5" width="2.4" height="4.5" fill="#343434"/><rect x="707.6" y="170.5" width="2.4" height="4.5" fill="#343434"/><rect x="667.8" y="170.5" width="11.8" height="4.5" fill="#969696"/><rect x="682.1" y="170.5" width="11.8" height="4.5" fill="#a3a3a3"/><rect x="696.1" y="170.5" width="11.6" height="4.5" fill="#a3a3a3"/><rect x="709.9" y="170.5" width="11.7" height="4.5" fill="#909090"/><rect x="679.5" y="174" width="2.7" height="7" fill="#343434"/><rect x="693.8" y="174" width="2.4" height="7" fill="#343434"/><rect x="707.6" y="174" width="2.4" height="7" fill="#343434"/><rect x="667.8" y="174" width="11.8" height="7" fill="#b2b2b2"/><rect x="682.1" y="174" width="11.8" height="7" fill="#b8b8b8"/><rect x="696.1" y="174" width="11.6" height="7" fill="#a7a7a7"/><rect x="709.9" y="174" width="11.7" height="7" fill="#909090"/><rect x="679.5" y="180" width="2.7" height="4.5" fill="#343434"/><rect x="693.8" y="180" width="2.4" height="4.5" fill="#343434"/><rect x="707.6" y="180" width="2.4" height="4.5" fill="#343434"/><rect x="667.8" y="180" width="11.8" height="4.5" fill="#b2b2b2"/><rect x="682.1" y="180" width="11.8" height="4.5" fill="#b8b8b8"/><rect x="696.1" y="180" width="11.6" height="4.5" fill="#c4c4c4"/><rect x="709.9" y="180" width="11.7" height="4.5" fill="#909090"/><rect x="679.5" y="183.5" width="2.7" height="3.7" fill="#343434"/><rect x="693.8" y="183.5" width="2.4" height="3.7" fill="#343434"/><rect x="707.6" y="183.5" width="2.4" height="3.7" fill="#343434"/><rect x="667.8" y="183.5" width="11.8" height="3.7" fill="#b2b2b2"/><rect x="682.1" y="183.5" width="11.8" height="3.7" fill="#b8b8b8"/><rect x="696.1" y="183.5" width="11.6" height="3.7" fill="#a7a7a7"/><rect x="709.9" y="183.5" width="11.7" height="3.7" fill="#909090"/><rect x="679.5" y="407.8" width="2.7" height="6.2" fill="#343434"/><rect x="693.8" y="407.8" width="2.4" height="6.2" fill="#343434"/><rect x="707.6" y="407.8" width="2.4" height="6.2" fill="#343434"/><rect x="667.8" y="407.8" width="11.8" height="6.2" fill="#909090"/><rect x="682.1" y="407.8" width="11.8" height="6.2" fill="#808080"/><rect x="696.1" y="407.8" width="11.6" height="6.2" fill="#7a7a7a"/><rect x="709.9" y="407.8" width="11.7" height="6.2" fill="#808080"/><rect x="679.5" y="413" width="2.7" height="8.2" fill="#343434"/><rect x="693.8" y="413" width="2.4" height="8.2" fill="#343434"/><rect x="707.6" y="413" width="2.4" height="8.2" fill="#343434"/><rect x="667.8" y="413" width="11.8" height="8.2" fill="#7a7a7a"/><rect x="682.1" y="413" width="11.8" height="8.2" fill="#808080"/><rect x="696.1" y="413" width="11.6" height="8.2" fill="#757575"/><rect x="709.9" y="413" width="11.7" height="8.2" fill="#808080"/><rect x="679.5" y="421.8" width="2.7" height="8.4" fill="#343434"/><rect x="693.8" y="421.8" width="2.4" height="8.4" fill="#343434"/><rect x="707.6" y="421.8" width="2.4" height="8.4" fill="#343434"/><rect x="667.8" y="421.8" width="11.8" height="8.4" fill="#5e5e5e"/><rect x="682.1" y="421.8" width="11.8" height="8.4" fill="#585858"/><rect x="696.1" y="421.8" width="11.6" height="8.4" fill="#4a4a4a"/><rect x="709.9" y="421.8" width="11.7" height="8.4" fill="#5e5e5e"/><rect x="679.5" y="430.5" width="2.7" height="4" fill="#383838"/><rect x="693.8" y="430.5" width="2.4" height="4" fill="#383838"/><rect x="707.6" y="430.5" width="2.4" height="4" fill="#383838"/><rect x="667.8" y="430.5" width="11.8" height="4" fill="#cfcfcf"/><rect x="682.1" y="430.5" width="11.8" height="4" fill="#cfcfcf"/><rect x="696.1" y="430.5" width="11.6" height="4" fill="#cfcfcf"/><rect x="709.9" y="430.5" width="11.7" height="4" fill="#cfcfcf"/><rect x="679.5" y="433.5" width="2.7" height="3.5" fill="#383838"/><rect x="693.8" y="433.5" width="2.4" height="3.5" fill="#383838"/><rect x="707.6" y="433.5" width="2.4" height="3.5" fill="#383838"/><rect x="667.8" y="433.5" width="11.8" height="3.5" fill="#e2e2e2"/><rect x="682.1" y="433.5" width="11.8" height="3.5" fill="#cfcfcf"/><rect x="696.1" y="433.5" width="11.6" height="3.5" fill="#d4d4d4"/><rect x="709.9" y="433.5" width="11.7" height="3.5" fill="#cfcfcf"/><rect x="679.5" y="436" width="2.7" height="3.3" fill="#585858"/><rect x="693.8" y="436" width="2.4" height="3.3" fill="#585858"/><rect x="707.6" y="436" width="2.4" height="3.3" fill="#585858"/><rect x="667.8" y="436" width="11.8" height="3.3" fill="#ffffff"/><rect x="682.1" y="436" width="11.8" height="3.3" fill="#ffffff"/><rect x="696.1" y="436" width="11.6" height="3.3" fill="#fafafa"/><rect x="709.9" y="436" width="11.7" height="3.3" fill="#ebebeb"/><rect x="679.5" y="438.3" width="2.7" height="3.1" fill="#909090"/><rect x="693.8" y="438.3" width="2.4" height="3.1" fill="#909090"/><rect x="707.6" y="438.3" width="2.4" height="3.1" fill="#909090"/><rect x="667.8" y="438.3" width="11.8" height="3.1" fill="#ffffff"/><rect x="682.1" y="438.3" width="11.8" height="3.1" fill="#ffffff"/><rect x="696.1" y="438.3" width="11.6" height="3.1" fill="#fafafa"/><rect x="709.9" y="438.3" width="11.7" height="3.1" fill="#ebebeb"/><rect x="679.5" y="441.4" width="2.7" height="4" fill="#585858"/><rect x="693.8" y="441.4" width="2.4" height="4" fill="#585858"/><rect x="707.6" y="441.4" width="2.4" height="4" fill="#585858"/><rect x="667.8" y="441.4" width="11.8" height="4" fill="#cfcfcf"/><rect x="682.1" y="441.4" width="11.8" height="4" fill="#cfcfcf"/><rect x="696.1" y="441.4" width="11.6" height="4" fill="#cfcfcf"/><rect x="709.9" y="441.4" width="11.7" height="4" fill="#b8b8b8"/><rect x="679.5" y="445.4" width="2.7" height="3.1" fill="#5e5e5e"/><rect x="693.8" y="445.4" width="2.4" height="3.1" fill="#5e5e5e"/><rect x="707.6" y="445.4" width="2.4" height="3.1" fill="#5e5e5e"/><rect x="667.8" y="445.4" width="11.8" height="3.1" fill="#e6e6e6"/><rect x="682.1" y="445.4" width="11.8" height="3.1" fill="#e6e6e6"/><rect x="696.1" y="445.4" width="11.6" height="3.1" fill="#e2e2e2"/><rect x="709.9" y="445.4" width="11.7" height="3.1" fill="#dedede"/><rect x="679.5" y="449.55" width="2.7" height="5.8" fill="#3f3f3f"/><rect x="693.8" y="449.55" width="2.4" height="5.8" fill="#3f3f3f"/><rect x="707.6" y="449.55" width="2.4" height="5.8" fill="#3f3f3f"/><rect x="667.8" y="449.55" width="11.8" height="5.8" fill="#707070"/><rect x="682.1" y="449.55" width="11.8" height="5.8" fill="#707070"/><rect x="696.1" y="449.55" width="11.6" height="5.8" fill="#7a7a7a"/><rect x="709.9" y="449.55" width="11.7" height="5.8" fill="#707070"/><rect x="679.5" y="457.8" width="2.7" height="4.7" fill="#343434"/><rect x="693.8" y="457.8" width="2.4" height="4.7" fill="#343434"/><rect x="707.6" y="457.8" width="2.4" height="4.7" fill="#343434"/><rect x="667.8" y="457.8" width="11.8" height="4.7" fill="#515151"/><rect x="682.1" y="457.8" width="11.8" height="4.7" fill="#515151"/><rect x="696.1" y="457.8" width="11.6" height="4.7" fill="#515151"/><rect x="709.9" y="457.8" width="11.7" height="4.7" fill="#515151"/><rect x="679.5" y="462.5" width="2.7" height="3.5" fill="#343434"/><rect x="693.8" y="462.5" width="2.4" height="3.5" fill="#343434"/><rect x="707.6" y="462.5" width="2.4" height="3.5" fill="#343434"/><rect x="667.8" y="462.5" width="11.8" height="3.5" fill="#515151"/><rect x="682.1" y="462.5" width="11.8" height="3.5" fill="#4a4a4a"/><rect x="696.1" y="462.5" width="11.6" height="3.5" fill="#4a4a4a"/><rect x="709.9" y="462.5" width="11.7" height="3.5" fill="#515151"/><rect x="679.5" y="466" width="2.7" height="5.3" fill="#383838"/><rect x="693.8" y="466" width="2.4" height="5.3" fill="#383838"/><rect x="707.6" y="466" width="2.4" height="5.3" fill="#383838"/><rect x="667.8" y="466" width="11.8" height="5.3" fill="#c8c8c8"/><rect x="682.1" y="466" width="11.8" height="5.3" fill="#adadad"/><rect x="696.1" y="466" width="11.6" height="5.3" fill="#adadad"/><rect x="709.9" y="466" width="11.7" height="5.3" fill="#a3a3a3"/><rect x="679.5" y="471.3" width="2.7" height="7.2" fill="#383838"/><rect x="693.8" y="471.3" width="2.4" height="7.2" fill="#383838"/><rect x="707.6" y="471.3" width="2.4" height="7.2" fill="#383838"/><rect x="667.8" y="471.3" width="11.8" height="7.2" fill="#a7a7a7"/><rect x="682.1" y="471.3" width="11.8" height="7.2" fill="#adadad"/><rect x="696.1" y="471.3" width="11.6" height="7.2" fill="#9f9f9f"/><rect x="709.9" y="471.3" width="11.7" height="7.2" fill="#a3a3a3"/><rect x="679.5" y="478.5" width="2.7" height="5.5" fill="#383838"/><rect x="693.8" y="478.5" width="2.4" height="5.5" fill="#383838"/><rect x="707.6" y="478.5" width="2.4" height="5.5" fill="#383838"/><rect x="667.8" y="478.5" width="11.8" height="5.5" fill="#a7a7a7"/><rect x="682.1" y="478.5" width="11.8" height="5.5" fill="#b8b8b8"/><rect x="696.1" y="478.5" width="11.6" height="5.5" fill="#a3a3a3"/><rect x="709.9" y="478.5" width="11.7" height="5.5" fill="#a3a3a3"/><rect x="679.5" y="484" width="2.7" height="5.5" fill="#383838"/><rect x="693.8" y="484" width="2.4" height="5.5" fill="#383838"/><rect x="707.6" y="484" width="2.4" height="5.5" fill="#383838"/><rect x="667.8" y="484" width="11.8" height="5.5" fill="#858585"/><rect x="682.1" y="484" width="11.8" height="5.5" fill="#808080"/><rect x="696.1" y="484" width="11.6" height="5.5" fill="#808080"/><rect x="709.9" y="484" width="11.7" height="5.5" fill="#7a7a7a"/><rect x="679.5" y="489.5" width="2.7" height="3.5" fill="#383838"/><rect x="693.8" y="489.5" width="2.4" height="3.5" fill="#383838"/><rect x="707.6" y="489.5" width="2.4" height="3.5" fill="#383838"/><rect x="667.8" y="489.5" width="11.8" height="3.5" fill="#7a7a7a"/><rect x="682.1" y="489.5" width="11.8" height="3.5" fill="#7a7a7a"/><rect x="696.1" y="489.5" width="11.6" height="3.5" fill="#7a7a7a"/><rect x="709.9" y="489.5" width="11.7" height="3.5" fill="#7a7a7a"/><rect x="679.5" y="493.8" width="2.7" height="6.5" fill="#383838"/><rect x="693.8" y="493.8" width="2.4" height="6.5" fill="#383838"/><rect x="707.6" y="493.8" width="2.4" height="6.5" fill="#383838"/><rect x="667.8" y="493.8" width="11.8" height="6.5" fill="#bdbdbd"/><rect x="682.1" y="493.8" width="11.8" height="6.5" fill="#9b9b9b"/><rect x="696.1" y="493.8" width="11.6" height="6.5" fill="#969696"/><rect x="709.9" y="493.8" width="11.7" height="6.5" fill="#a7a7a7"/><rect x="679.5" y="500.3" width="2.7" height="3.1" fill="#383838"/><rect x="693.8" y="500.3" width="2.4" height="3.1" fill="#383838"/><rect x="707.6" y="500.3" width="2.4" height="3.1" fill="#383838"/><rect x="667.8" y="500.3" width="11.8" height="3.1" fill="#adadad"/><rect x="682.1" y="500.3" width="11.8" height="3.1" fill="#9b9b9b"/><rect x="696.1" y="500.3" width="11.6" height="3.1" fill="#969696"/><rect x="709.9" y="500.3" width="11.7" height="3.1" fill="#a3a3a3"/><rect x="679.5" y="503.4" width="2.7" height="5.6" fill="#383838"/><rect x="693.8" y="503.4" width="2.4" height="5.6" fill="#383838"/><rect x="707.6" y="503.4" width="2.4" height="5.6" fill="#383838"/><rect x="667.8" y="503.4" width="11.8" height="5.6" fill="#a7a7a7"/><rect x="682.1" y="503.4" width="11.8" height="5.6" fill="#adadad"/><rect x="696.1" y="503.4" width="11.6" height="5.6" fill="#a7a7a7"/><rect x="709.9" y="503.4" width="11.7" height="5.6" fill="#9b9b9b"/><rect x="679.5" y="508" width="2.7" height="5.75" fill="#383838"/><rect x="693.8" y="508" width="2.4" height="5.75" fill="#383838"/><rect x="707.6" y="508" width="2.4" height="5.75" fill="#383838"/><rect x="667.8" y="508" width="11.8" height="5.75" fill="#c8c8c8"/><rect x="682.1" y="508" width="11.8" height="5.75" fill="#adadad"/><rect x="696.1" y="508" width="11.6" height="5.75" fill="#9b9b9b"/><rect x="709.9" y="508" width="11.7" height="5.75" fill="#969696"/><rect x="679.5" y="513.75" width="2.7" height="7.75" fill="#383838"/><rect x="693.8" y="513.75" width="2.4" height="7.75" fill="#383838"/><rect x="707.6" y="513.75" width="2.4" height="7.75" fill="#383838"/><rect x="667.8" y="513.75" width="11.8" height="7.75" fill="#8a8a8a"/><rect x="682.1" y="513.75" width="11.8" height="7.75" fill="#8a8a8a"/><rect x="696.1" y="513.75" width="11.6" height="7.75" fill="#8a8a8a"/><rect x="709.9" y="513.75" width="11.7" height="7.75" fill="#808080"/><rect x="679.5" y="522.5" width="2.7" height="2.5" fill="#383838"/><rect x="693.8" y="522.5" width="2.4" height="2.5" fill="#383838"/><rect x="707.6" y="522.5" width="2.4" height="2.5" fill="#383838"/><rect x="667.8" y="522.5" width="11.8" height="2.5" fill="#b8b8b8"/><rect x="682.1" y="522.5" width="11.8" height="2.5" fill="#b8b8b8"/><rect x="696.1" y="522.5" width="11.6" height="2.5" fill="#b8b8b8"/><rect x="709.9" y="522.5" width="11.7" height="2.5" fill="#b8b8b8"/><rect x="679.5" y="524" width="2.7" height="4.5" fill="#383838"/><rect x="693.8" y="524" width="2.4" height="4.5" fill="#383838"/><rect x="707.6" y="524" width="2.4" height="4.5" fill="#383838"/><rect x="667.8" y="524" width="11.8" height="4.5" fill="#f5f5f5"/><rect x="682.1" y="524" width="11.8" height="4.5" fill="#e8e8e8"/><rect x="696.1" y="524" width="11.6" height="4.5" fill="#e4e4e4"/><rect x="709.9" y="524" width="11.7" height="4.5" fill="#dbdbdb"/><rect x="679.5" y="527.5" width="2.7" height="1.85" fill="#383838"/><rect x="693.8" y="527.5" width="2.4" height="1.85" fill="#383838"/><rect x="707.6" y="527.5" width="2.4" height="1.85" fill="#383838"/><rect x="667.8" y="527.5" width="11.8" height="1.85" fill="#cbcbcb"/><rect x="682.1" y="527.5" width="11.8" height="1.85" fill="#d9d9d9"/><rect x="696.1" y="527.5" width="11.6" height="1.85" fill="#d9d9d9"/><rect x="709.9" y="527.5" width="11.7" height="1.85" fill="#cbcbcb"/><rect x="679.5" y="529.35" width="2.7" height="5.15" fill="#383838"/><rect x="693.8" y="529.35" width="2.4" height="5.15" fill="#383838"/><rect x="707.6" y="529.35" width="2.4" height="5.15" fill="#383838"/><rect x="667.8" y="529.35" width="11.8" height="5.15" fill="#d4d4d4"/><rect x="682.1" y="529.35" width="11.8" height="5.15" fill="#dedede"/><rect x="696.1" y="529.35" width="11.6" height="5.15" fill="#d9d9d9"/><rect x="709.9" y="529.35" width="11.7" height="5.15" fill="#c4c4c4"/><rect x="679.5" y="533.5" width="2.7" height="2.2" fill="#646464"/><rect x="693.8" y="533.5" width="2.4" height="2.2" fill="#646464"/><rect x="707.6" y="533.5" width="2.4" height="2.2" fill="#646464"/><rect x="667.8" y="533.5" width="11.8" height="2.2" fill="#f5f5f5"/><rect x="682.1" y="533.5" width="11.8" height="2.2" fill="#f5f5f5"/><rect x="696.1" y="533.5" width="11.6" height="2.2" fill="#f5f5f5"/><rect x="709.9" y="533.5" width="11.7" height="2.2" fill="#f0f0f0"/><rect x="679.5" y="534.7" width="2.7" height="2.8" fill="#383838"/><rect x="693.8" y="534.7" width="2.4" height="2.8" fill="#383838"/><rect x="707.6" y="534.7" width="2.4" height="2.8" fill="#383838"/><rect x="667.8" y="534.7" width="11.8" height="2.8" fill="#bdbdbd"/><rect x="682.1" y="534.7" width="11.8" height="2.8" fill="#d4d4d4"/><rect x="696.1" y="534.7" width="11.6" height="2.8" fill="#cbcbcb"/><rect x="709.9" y="534.7" width="11.7" height="2.8" fill="#adadad"/><rect x="679.5" y="536.5" width="2.7" height="3.8" fill="#383838"/><rect x="693.8" y="536.5" width="2.4" height="3.8" fill="#383838"/><rect x="707.6" y="536.5" width="2.4" height="3.8" fill="#383838"/><rect x="667.8" y="536.5" width="11.8" height="3.8" fill="#e8e8e8"/><rect x="682.1" y="536.5" width="11.8" height="3.8" fill="#e0e0e0"/><rect x="696.1" y="536.5" width="11.6" height="3.8" fill="#d6d6d6"/><rect x="709.9" y="536.5" width="11.7" height="3.8" fill="#bdbdbd"/><rect x="679.5" y="540.3" width="2.7" height="3.9" fill="#383838"/><rect x="693.8" y="540.3" width="2.4" height="3.9" fill="#383838"/><rect x="707.6" y="540.3" width="2.4" height="3.9" fill="#383838"/><rect x="667.8" y="540.3" width="11.8" height="3.9" fill="#858585"/><rect x="682.1" y="540.3" width="11.8" height="3.9" fill="#858585"/><rect x="696.1" y="540.3" width="11.6" height="3.9" fill="#858585"/><rect x="709.9" y="540.3" width="11.7" height="3.9" fill="#808080"/><rect x="679.5" y="544.8" width="2.7" height="12.4" fill="#343434"/><rect x="693.8" y="544.8" width="2.4" height="12.4" fill="#343434"/><rect x="707.6" y="544.8" width="2.4" height="12.4" fill="#343434"/><rect x="667.8" y="544.8" width="11.8" height="12.4" fill="#6a6a6a"/><rect x="682.1" y="544.8" width="11.8" height="12.4" fill="#757575"/><rect x="696.1" y="544.8" width="11.6" height="12.4" fill="#757575"/><rect x="709.9" y="544.8" width="11.7" height="12.4" fill="#646464"/><rect x="679.5" y="559.8" width="2.7" height="7.2" fill="#343434"/><rect x="693.8" y="559.8" width="2.4" height="7.2" fill="#343434"/><rect x="707.6" y="559.8" width="2.4" height="7.2" fill="#343434"/><rect x="667.8" y="559.8" width="11.8" height="7.2" fill="#969696"/><rect x="682.1" y="559.8" width="11.8" height="7.2" fill="#757575"/><rect x="696.1" y="559.8" width="11.6" height="7.2" fill="#8a8a8a"/><rect x="709.9" y="559.8" width="11.7" height="7.2" fill="#969696"/><rect x="679.5" y="566" width="2.7" height="7.2" fill="#343434"/><rect x="693.8" y="566" width="2.4" height="7.2" fill="#343434"/><rect x="707.6" y="566" width="2.4" height="7.2" fill="#343434"/><rect x="667.8" y="566" width="11.8" height="7.2" fill="#adadad"/><rect x="682.1" y="566" width="11.8" height="7.2" fill="#b2b2b2"/><rect x="696.1" y="566" width="11.6" height="7.2" fill="#b2b2b2"/><rect x="709.9" y="566" width="11.7" height="7.2" fill="#9b9b9b"/><rect x="679.5" y="574.8" width="2.7" height="3.7" fill="#383838"/><rect x="693.8" y="574.8" width="2.4" height="3.7" fill="#383838"/><rect x="707.6" y="574.8" width="2.4" height="3.7" fill="#383838"/><rect x="667.8" y="574.8" width="11.8" height="3.7" fill="#b8b8b8"/><rect x="682.1" y="574.8" width="11.8" height="3.7" fill="#b8b8b8"/><rect x="696.1" y="574.8" width="11.6" height="3.7" fill="#b8b8b8"/><rect x="709.9" y="574.8" width="11.7" height="3.7" fill="#b8b8b8"/><rect x="679.5" y="577.5" width="2.7" height="2.8" fill="#383838"/><rect x="693.8" y="577.5" width="2.4" height="2.8" fill="#383838"/><rect x="707.6" y="577.5" width="2.4" height="2.8" fill="#383838"/><rect x="667.8" y="577.5" width="11.8" height="2.8" fill="#d9d9d9"/><rect x="682.1" y="577.5" width="11.8" height="2.8" fill="#d9d9d9"/><rect x="696.1" y="577.5" width="11.6" height="2.8" fill="#d9d9d9"/><rect x="709.9" y="577.5" width="11.7" height="2.8" fill="#cfcfcf"/><rect x="679.5" y="580.3" width="2.7" height="5.5" fill="#383838"/><rect x="693.8" y="580.3" width="2.4" height="5.5" fill="#383838"/><rect x="707.6" y="580.3" width="2.4" height="5.5" fill="#383838"/><rect x="667.8" y="580.3" width="11.8" height="5.5" fill="#cfcfcf"/><rect x="682.1" y="580.3" width="11.8" height="5.5" fill="#c4c4c4"/><rect x="696.1" y="580.3" width="11.6" height="5.5" fill="#c1c1c1"/><rect x="709.9" y="580.3" width="11.7" height="5.5" fill="#c1c1c1"/><rect x="679.5" y="585.8" width="2.7" height="4.4" fill="#3d3d3d"/><rect x="693.8" y="585.8" width="2.4" height="4.4" fill="#3d3d3d"/><rect x="707.6" y="585.8" width="2.4" height="4.4" fill="#3d3d3d"/><rect x="667.8" y="585.8" width="11.8" height="4.4" fill="#bdbdbd"/><rect x="682.1" y="585.8" width="11.8" height="4.4" fill="#b2b2b2"/><rect x="696.1" y="585.8" width="11.6" height="4.4" fill="#a7a7a7"/><rect x="709.9" y="585.8" width="11.7" height="4.4" fill="#a3a3a3"/><rect x="679.5" y="590.8" width="2.7" height="4.4" fill="#3d3d3d"/><rect x="693.8" y="590.8" width="2.4" height="4.4" fill="#3d3d3d"/><rect x="707.6" y="590.8" width="2.4" height="4.4" fill="#3d3d3d"/><rect x="667.8" y="590.8" width="11.8" height="4.4" fill="#c1c1c1"/><rect x="682.1" y="590.8" width="11.8" height="4.4" fill="#c1c1c1"/><rect x="696.1" y="590.8" width="11.6" height="4.4" fill="#c8c8c8"/><rect x="709.9" y="590.8" width="11.7" height="4.4" fill="#c1c1c1"/><rect x="679.5" y="595.8" width="2.7" height="2.7" fill="#414141"/><rect x="693.8" y="595.8" width="2.4" height="2.7" fill="#414141"/><rect x="707.6" y="595.8" width="2.4" height="2.7" fill="#414141"/><rect x="667.8" y="595.8" width="11.8" height="2.7" fill="#b8b8b8"/><rect x="682.1" y="595.8" width="11.8" height="2.7" fill="#b8b8b8"/><rect x="696.1" y="595.8" width="11.6" height="2.7" fill="#b8b8b8"/><rect x="709.9" y="595.8" width="11.7" height="2.7" fill="#b8b8b8"/><rect x="679.5" y="600.4" width="2.7" height="4.95" fill="#383838"/><rect x="693.8" y="600.4" width="2.4" height="4.95" fill="#383838"/><rect x="707.6" y="600.4" width="2.4" height="4.95" fill="#383838"/><rect x="667.8" y="600.4" width="11.8" height="4.95" fill="#b8b8b8"/><rect x="682.1" y="600.4" width="11.8" height="4.95" fill="#b8b8b8"/><rect x="696.1" y="600.4" width="11.6" height="4.95" fill="#b8b8b8"/><rect x="709.9" y="600.4" width="11.7" height="4.95" fill="#b8b8b8"/><rect x="679.5" y="605.35" width="2.7" height="5.05" fill="#343434"/><rect x="693.8" y="605.35" width="2.4" height="5.05" fill="#343434"/><rect x="707.6" y="605.35" width="2.4" height="5.05" fill="#343434"/><rect x="667.8" y="605.35" width="11.8" height="5.05" fill="#b2b2b2"/><rect x="682.1" y="605.35" width="11.8" height="5.05" fill="#a3a3a3"/><rect x="696.1" y="605.35" width="11.6" height="5.05" fill="#bdbdbd"/><rect x="709.9" y="605.35" width="11.7" height="5.05" fill="#bdbdbd"/><rect x="679.5" y="610.4" width="2.7" height="3.1" fill="#303030"/><rect x="693.8" y="610.4" width="2.4" height="3.1" fill="#303030"/><rect x="707.6" y="610.4" width="2.4" height="3.1" fill="#303030"/><rect x="667.8" y="610.4" width="11.8" height="3.1" fill="#a3a3a3"/><rect x="682.1" y="610.4" width="11.8" height="3.1" fill="#a3a3a3"/><rect x="696.1" y="610.4" width="11.6" height="3.1" fill="#a3a3a3"/><rect x="709.9" y="610.4" width="11.7" height="3.1" fill="#a3a3a3"/><rect x="679.5" y="612.5" width="2.7" height="3" fill="#303030"/><rect x="693.8" y="612.5" width="2.4" height="3" fill="#303030"/><rect x="707.6" y="612.5" width="2.4" height="3" fill="#303030"/><rect x="667.8" y="612.5" width="11.8" height="3" fill="#bdbdbd"/><rect x="682.1" y="612.5" width="11.8" height="3" fill="#a7a7a7"/><rect x="696.1" y="612.5" width="11.6" height="3" fill="#9f9f9f"/><rect x="709.9" y="612.5" width="11.7" height="3" fill="#858585"/><rect x="679.5" y="614.5" width="2.7" height="2.5" fill="#303030"/><rect x="693.8" y="614.5" width="2.4" height="2.5" fill="#303030"/><rect x="707.6" y="614.5" width="2.4" height="2.5" fill="#303030"/><rect x="667.8" y="614.5" width="11.8" height="2.5" fill="#9b9b9b"/><rect x="682.1" y="614.5" width="11.8" height="2.5" fill="#9b9b9b"/><rect x="696.1" y="614.5" width="11.6" height="2.5" fill="#9b9b9b"/><rect x="709.9" y="614.5" width="11.7" height="2.5" fill="#9b9b9b"/><rect x="679.5" y="616" width="2.7" height="5.5" fill="#303030"/><rect x="693.8" y="616" width="2.4" height="5.5" fill="#303030"/><rect x="707.6" y="616" width="2.4" height="5.5" fill="#303030"/><rect x="667.8" y="616" width="11.8" height="5.5" fill="#cbcbcb"/><rect x="682.1" y="616" width="11.8" height="5.5" fill="#bdbdbd"/><rect x="696.1" y="616" width="11.6" height="5.5" fill="#bdbdbd"/><rect x="709.9" y="616" width="11.7" height="5.5" fill="#bdbdbd"/><rect x="679.5" y="620.5" width="2.7" height="2" fill="#303030"/><rect x="693.8" y="620.5" width="2.4" height="2" fill="#303030"/><rect x="707.6" y="620.5" width="2.4" height="2" fill="#303030"/><rect x="667.8" y="620.5" width="11.8" height="2" fill="#969696"/><rect x="682.1" y="620.5" width="11.8" height="2" fill="#969696"/><rect x="696.1" y="620.5" width="11.6" height="2" fill="#969696"/><rect x="709.9" y="620.5" width="11.7" height="2" fill="#969696"/><rect x="679.5" y="622.5" width="2.7" height="3" fill="#383838"/><rect x="693.8" y="622.5" width="2.4" height="3" fill="#383838"/><rect x="707.6" y="622.5" width="2.4" height="3" fill="#383838"/><rect x="667.8" y="622.5" width="11.8" height="3" fill="#909090"/><rect x="682.1" y="622.5" width="11.8" height="3" fill="#909090"/><rect x="696.1" y="622.5" width="11.6" height="3" fill="#909090"/><rect x="709.9" y="622.5" width="11.7" height="3" fill="#909090"/><rect x="679.5" y="625.5" width="2.7" height="2.5" fill="#383838"/><rect x="693.8" y="625.5" width="2.4" height="2.5" fill="#383838"/><rect x="707.6" y="625.5" width="2.4" height="2.5" fill="#383838"/><rect x="667.8" y="625.5" width="11.8" height="2.5" fill="#909090"/><rect x="682.1" y="625.5" width="11.8" height="2.5" fill="#909090"/><rect x="696.1" y="625.5" width="11.6" height="2.5" fill="#909090"/><rect x="709.9" y="625.5" width="11.7" height="2.5" fill="#909090"/><rect x="679.5" y="628" width="2.7" height="14.5" fill="#303030"/><rect x="693.8" y="628" width="2.4" height="14.5" fill="#303030"/><rect x="707.6" y="628" width="2.4" height="14.5" fill="#303030"/><rect x="667.8" y="628" width="11.8" height="14.5" fill="#969696"/><rect x="682.1" y="628" width="11.8" height="14.5" fill="#9f9f9f"/><rect x="696.1" y="628" width="11.6" height="14.5" fill="#909090"/><rect x="709.9" y="628" width="11.7" height="14.5" fill="#969696"/><rect x="679.5" y="642.5" width="2.7" height="5.9" fill="#303030"/><rect x="693.8" y="642.5" width="2.4" height="5.9" fill="#303030"/><rect x="707.6" y="642.5" width="2.4" height="5.9" fill="#303030"/><rect x="667.8" y="642.5" width="11.8" height="5.9" fill="#969696"/><rect x="682.1" y="642.5" width="11.8" height="5.9" fill="#9f9f9f"/><rect x="696.1" y="642.5" width="11.6" height="5.9" fill="#969696"/><rect x="709.9" y="642.5" width="11.7" height="5.9" fill="#909090"/><rect x="679.5" y="648.4" width="2.7" height="2.6" fill="#303030"/><rect x="693.8" y="648.4" width="2.4" height="2.6" fill="#303030"/><rect x="707.6" y="648.4" width="2.4" height="2.6" fill="#303030"/><rect x="667.8" y="648.4" width="11.8" height="2.6" fill="#909090"/><rect x="682.1" y="648.4" width="11.8" height="2.6" fill="#909090"/><rect x="696.1" y="648.4" width="11.6" height="2.6" fill="#909090"/><rect x="709.9" y="648.4" width="11.7" height="2.6" fill="#909090"/><rect x="679.5" y="650" width="2.7" height="3.5" fill="#303030"/><rect x="693.8" y="650" width="2.4" height="3.5" fill="#303030"/><rect x="707.6" y="650" width="2.4" height="3.5" fill="#303030"/><rect x="667.8" y="650" width="11.8" height="3.5" fill="#bdbdbd"/><rect x="682.1" y="650" width="11.8" height="3.5" fill="#9b9b9b"/><rect x="696.1" y="650" width="11.6" height="3.5" fill="#858585"/><rect x="709.9" y="650" width="11.7" height="3.5" fill="#858585"/><rect x="679.5" y="652.5" width="2.7" height="21" fill="#303030"/><rect x="693.8" y="652.5" width="2.4" height="21" fill="#303030"/><rect x="707.6" y="652.5" width="2.4" height="21" fill="#303030"/><rect x="667.8" y="652.5" width="11.8" height="21" fill="#969696"/><rect x="682.1" y="652.5" width="11.8" height="21" fill="#9f9f9f"/><rect x="696.1" y="652.5" width="11.6" height="21" fill="#969696"/><rect x="709.9" y="652.5" width="11.7" height="21" fill="#8a8a8a"/><rect x="679.5" y="673.5" width="2.7" height="6.5" fill="#303030"/><rect x="693.8" y="673.5" width="2.4" height="6.5" fill="#303030"/><rect x="707.6" y="673.5" width="2.4" height="6.5" fill="#303030"/><rect x="667.8" y="673.5" width="11.8" height="6.5" fill="#9b9b9b"/><rect x="682.1" y="673.5" width="11.8" height="6.5" fill="#969696"/><rect x="696.1" y="673.5" width="11.6" height="6.5" fill="#969696"/><rect x="709.9" y="673.5" width="11.7" height="6.5" fill="#909090"/><rect x="679.5" y="680" width="2.7" height="10.55" fill="#303030"/><rect x="693.8" y="680" width="2.4" height="10.55" fill="#303030"/><rect x="707.6" y="680" width="2.4" height="10.55" fill="#303030"/><rect x="667.8" y="680" width="11.8" height="10.55" fill="#969696"/><rect x="682.1" y="680" width="11.8" height="10.55" fill="#9b9b9b"/><rect x="696.1" y="680" width="11.6" height="10.55" fill="#969696"/><rect x="709.9" y="680" width="11.7" height="10.55" fill="#909090"/><rect x="679.5" y="690.55" width="2.7" height="23.8" fill="#303030"/><rect x="693.8" y="690.55" width="2.4" height="23.8" fill="#303030"/><rect x="707.6" y="690.55" width="2.4" height="23.8" fill="#303030"/><rect x="667.8" y="690.55" width="11.8" height="23.8" fill="#808080"/><rect x="682.1" y="690.55" width="11.8" height="23.8" fill="#757575"/><rect x="696.1" y="690.55" width="11.6" height="23.8" fill="#707070"/><rect x="709.9" y="690.55" width="11.7" height="23.8" fill="#646464"/><rect x="679.5" y="714.35" width="2.7" height="3.25" fill="#3f3f3f"/><rect x="693.8" y="714.35" width="2.4" height="3.25" fill="#3f3f3f"/><rect x="707.6" y="714.35" width="2.4" height="3.25" fill="#3f3f3f"/><rect x="667.8" y="714.35" width="11.8" height="3.25" fill="#707070"/><rect x="682.1" y="714.35" width="11.8" height="3.25" fill="#707070"/><rect x="696.1" y="714.35" width="11.6" height="3.25" fill="#707070"/><rect x="709.9" y="714.35" width="11.7" height="3.25" fill="#707070"/><rect x="679.5" y="717.6" width="2.7" height="1.9" fill="#3f3f3f"/><rect x="693.8" y="717.6" width="2.4" height="1.9" fill="#3f3f3f"/><rect x="707.6" y="717.6" width="2.4" height="1.9" fill="#3f3f3f"/><rect x="667.8" y="717.6" width="11.8" height="1.9" fill="#707070"/><rect x="682.1" y="717.6" width="11.8" height="1.9" fill="#707070"/><rect x="696.1" y="717.6" width="11.6" height="1.9" fill="#707070"/><rect x="709.9" y="717.6" width="11.7" height="1.9" fill="#707070"/><rect x="555.95" y="531.9" width="48" height="1" fill="#a7a7a7"/><rect x="603.95" y="531.9" width="62" height="1" fill="#646464"/></g><rect x="555.95" y="80" width="176.9" height="1.9" fill="#fff"/><rect x="555.95" y="82.9" width="176.9" height="4.1" fill="#fff"/><rect x="555.95" y="94.1" width="176.9" height="1.9" fill="#fff"/><rect x="555.95" y="96.8" width="176.9" height="1.1" fill="#fff"/><rect x="555.95" y="99.8" width="176.9" height="1.2" fill="#fff"/><rect x="555.95" y="101.9" width="176.9" height="25.1" fill="#fff"/><rect x="555.95" y="129" width="176.9" height="0.9" fill="#000"/><rect x="555.95" y="129.9" width="176.9" height="34.2" fill="#fff"/><rect x="555.95" y="170" width="176.9" height="1" fill="#000"/><rect x="555.95" y="186" width="176.9" height="2.6" fill="#000"/><rect x="555.95" y="188.6" width="176.9" height="220.4" fill="#fff"/><rect x="555.95" y="420" width="176.9" height="3" fill="#fff"/><rect x="555.95" y="429" width="176.9" height="2.7" fill="#000"/><rect x="555.95" y="440.9" width="176.9" height="1" fill="#000"/><rect x="555.95" y="444.9" width="176.9" height="1" fill="#000"/><rect x="555.95" y="448.1" width="176.9" height="0.8" fill="#000"/><rect x="555.95" y="448.9" width="176.9" height="1.3" fill="#fff"/><rect x="555.95" y="454.9" width="176.9" height="0.9" fill="#000"/><rect x="555.95" y="455.8" width="176.9" height="3.2" fill="#fff"/><rect x="555.95" y="462" width="176.9" height="1" fill="#fff"/><rect x="555.95" y="465" width="176.9" height="2" fill="#000"/><rect x="555.95" y="470.8" width="176.9" height="1" fill="#000"/><rect x="555.95" y="478" width="176.9" height="1" fill="#fff"/><rect x="555.95" y="483" width="176.9" height="2" fill="#000"/><rect x="555.95" y="489" width="176.9" height="1" fill="#fff"/><rect x="555.95" y="491.8" width="176.9" height="3.2" fill="#fff"/><rect x="555.95" y="499.8" width="176.9" height="1" fill="#000"/><rect x="555.95" y="502.8" width="176.9" height="1.2" fill="#fff"/><rect x="555.95" y="513" width="176.9" height="1.5" fill="#000"/><rect x="555.95" y="521" width="176.9" height="1" fill="#fff"/><rect x="555.95" y="522" width="176.9" height="1" fill="#000"/><rect x="555.95" y="528.85" width="176.9" height="1" fill="#000"/><rect x="555.95" y="539.8" width="176.9" height="1" fill="#000"/><rect x="555.95" y="543" width="176.9" height="3" fill="#fff"/><rect x="555.95" y="556" width="176.9" height="5" fill="#fff"/><rect x="555.95" y="572" width="176.9" height="4" fill="#fff"/><rect x="555.95" y="579.8" width="176.9" height="1" fill="#000"/><rect x="555.95" y="585" width="176.9" height="1.6" fill="#000"/><rect x="555.95" y="589" width="176.9" height="3" fill="#000"/><rect x="555.95" y="594" width="176.9" height="3" fill="#000"/><rect x="555.95" y="598" width="176.9" height="1" fill="#fff"/><rect x="555.95" y="599" width="176.9" height="2.6" fill="#000"/><rect x="555.95" y="604.85" width="176.9" height="1" fill="#000"/><rect x="555.95" y="609.9" width="176.9" height="1" fill="#000"/><rect x="555.95" y="622" width="176.9" height="1" fill="#fff"/><rect x="555.95" y="625" width="176.9" height="1" fill="#fff"/><rect x="555.95" y="627" width="176.9" height="2" fill="#fff"/><rect x="555.95" y="642" width="176.9" height="1" fill="#fff"/><rect x="555.95" y="647.9" width="176.9" height="1" fill="#000"/><rect x="555.95" y="673" width="176.9" height="1" fill="#fff"/><rect x="555.95" y="679" width="176.9" height="2" fill="#fff"/><rect x="555.95" y="690.05" width="176.9" height="1" fill="#000"/><rect x="555.95" y="713.85" width="176.9" height="1" fill="#000"/><rect x="555.95" y="717" width="176.9" height="1.2" fill="#fff"/></g><g clip-path="url(#cp3)"><g filter="url(#jet)"><rect x="766.3" y="78" width="180.9" height="644" fill="#303030"/><rect x="768.3" y="80.95" width="176.9" height="3.15" fill="#383838"/><rect x="768.3" y="85.8" width="176.9" height="9.15" fill="#343434"/><rect x="768.3" y="95.05" width="176.9" height="2.3" fill="#343434"/><rect x="768.3" y="97.35" width="176.9" height="3.05" fill="#343434"/><rect x="768.3" y="100.4" width="176.9" height="2.7" fill="#343434"/><rect x="768.3" y="125.8" width="176.9" height="3.65" fill="#343434"/><rect x="768.3" y="162.9" width="176.9" height="7.6" fill="#343434"/><rect x="768.3" y="170.5" width="176.9" height="6" fill="#343434"/><rect x="768.3" y="175.5" width="176.9" height="5.5" fill="#343434"/><rect x="768.3" y="180" width="176.9" height="4.5" fill="#343434"/><rect x="768.3" y="183.5" width="112.35" height="3.7" fill="url(#g56)"/><rect x="880.15" y="183.5" width="65.05" height="3.7" fill="#343434"/><rect x="768.3" y="407.8" width="176.9" height="6.2" fill="#343434"/><rect x="768.3" y="413" width="176.9" height="8.2" fill="#343434"/><rect x="768.3" y="421.8" width="176.9" height="8.4" fill="#343434"/><rect x="768.3" y="430.5" width="176.9" height="4" fill="#383838"/><rect x="768.3" y="433.5" width="112.35" height="3.5" fill="url(#g57)"/><rect x="880.15" y="433.5" width="65.05" height="3.5" fill="#383838"/><rect x="768.3" y="436" width="112.35" height="3.3" fill="url(#g58)"/><rect x="880.15" y="436" width="65.05" height="3.3" fill="#5e5e5e"/><rect x="768.3" y="438.3" width="112.35" height="3.1" fill="url(#g59)"/><rect x="880.15" y="438.3" width="65.05" height="3.1" fill="#7a7a7a"/><rect x="768.3" y="441.4" width="112.35" height="4" fill="url(#g60)"/><rect x="880.15" y="441.4" width="65.05" height="4" fill="#585858"/><rect x="768.3" y="445.4" width="112.35" height="3.1" fill="url(#g61)"/><rect x="880.15" y="445.4" width="65.05" height="3.1" fill="#414141"/><rect x="768.3" y="449.55" width="176.9" height="5.8" fill="#383838"/><rect x="768.3" y="457.8" width="176.9" height="4.7" fill="#343434"/><rect x="768.3" y="462.5" width="176.9" height="3.5" fill="#343434"/><rect x="768.3" y="466" width="176.9" height="5.3" fill="#383838"/><rect x="768.3" y="471.3" width="176.9" height="7.2" fill="#383838"/><rect x="768.3" y="478.5" width="176.9" height="5.5" fill="#383838"/><rect x="768.3" y="484" width="176.9" height="5.5" fill="#343434"/><rect x="768.3" y="489.5" width="176.9" height="3.5" fill="#343434"/><rect x="768.3" y="493.8" width="176.9" height="4.2" fill="#383838"/><rect x="768.3" y="497" width="176.9" height="3.3" fill="#383838"/><rect x="768.3" y="500.3" width="176.9" height="3.1" fill="#383838"/><rect x="768.3" y="503.4" width="176.9" height="5.6" fill="#383838"/><rect x="768.3" y="508" width="176.9" height="5.75" fill="#383838"/><rect x="768.3" y="513.75" width="176.9" height="7.75" fill="#383838"/><rect x="768.3" y="522.5" width="112.35" height="2.5" fill="url(#g62)"/><rect x="880.15" y="522.5" width="65.05" height="2.5" fill="#383838"/><rect x="768.3" y="524" width="112.35" height="4.5" fill="url(#g63)"/><rect x="880.15" y="524" width="65.05" height="4.5" fill="#383838"/><rect x="768.3" y="527.5" width="112.35" height="1.85" fill="url(#g64)"/><rect x="880.15" y="527.5" width="65.05" height="1.85" fill="#383838"/><rect x="768.3" y="529.35" width="112.35" height="3.65" fill="url(#g65)"/><rect x="880.15" y="529.35" width="65.05" height="3.65" fill="#383838"/><rect x="768.3" y="532" width="112.35" height="3.7" fill="url(#g66)"/><rect x="880.15" y="532" width="65.05" height="3.7" fill="#5e5e5e"/><rect x="768.3" y="534.7" width="112.35" height="2.3" fill="url(#g67)"/><rect x="880.15" y="534.7" width="65.05" height="2.3" fill="#383838"/><rect x="768.3" y="536" width="112.35" height="4.3" fill="url(#g68)"/><rect x="880.15" y="536" width="65.05" height="4.3" fill="#383838"/><rect x="768.3" y="540.3" width="176.9" height="3.9" fill="#383838"/><rect x="768.3" y="544.8" width="176.9" height="12.4" fill="#343434"/><rect x="768.3" y="559.8" width="176.9" height="7.2" fill="#343434"/><rect x="768.3" y="566" width="176.9" height="7.2" fill="#343434"/><rect x="768.3" y="574.8" width="112.35" height="3.7" fill="url(#g69)"/><rect x="880.15" y="574.8" width="65.05" height="3.7" fill="#383838"/><rect x="768.3" y="577.5" width="112.35" height="2.8" fill="url(#g70)"/><rect x="880.15" y="577.5" width="65.05" height="2.8" fill="#383838"/><rect x="768.3" y="580.3" width="112.35" height="5.5" fill="url(#g71)"/><rect x="880.15" y="580.3" width="65.05" height="5.5" fill="#383838"/><rect x="768.3" y="585.8" width="176.9" height="4.4" fill="#3d3d3d"/><rect x="768.3" y="590.8" width="176.9" height="4.4" fill="#3d3d3d"/><rect x="768.3" y="595.8" width="176.9" height="2.7" fill="#414141"/><rect x="768.3" y="600.4" width="176.9" height="4.95" fill="#383838"/><rect x="768.3" y="605.35" width="176.9" height="5.05" fill="#343434"/><rect x="768.3" y="610.4" width="176.9" height="5.6" fill="#303030"/><rect x="768.3" y="615" width="176.9" height="2.5" fill="#303030"/><rect x="768.3" y="616.5" width="112.35" height="5" fill="url(#g72)"/><rect x="880.15" y="616.5" width="65.05" height="5" fill="#303030"/><rect x="768.3" y="620.5" width="176.9" height="2" fill="#303030"/><rect x="768.3" y="622.5" width="176.9" height="3" fill="#383838"/><rect x="768.3" y="625.5" width="176.9" height="2.5" fill="#383838"/><rect x="768.3" y="628" width="176.9" height="14.5" fill="#303030"/><rect x="768.3" y="642.5" width="176.9" height="5.9" fill="#303030"/><rect x="768.3" y="648.4" width="176.9" height="2.6" fill="#303030"/><rect x="768.3" y="650" width="176.9" height="3.5" fill="#303030"/><rect x="768.3" y="652.5" width="176.9" height="21" fill="#303030"/><rect x="768.3" y="673.5" width="176.9" height="6.5" fill="#303030"/><rect x="768.3" y="680" width="176.9" height="10.55" fill="#303030"/><rect x="768.3" y="690.55" width="176.9" height="23.8" fill="#303030"/><rect x="768.3" y="714.35" width="176.9" height="3.25" fill="#3f3f3f"/><rect x="768.3" y="717.6" width="176.9" height="1.9" fill="#3f3f3f"/><rect x="891.85" y="80.95" width="2.7" height="3.15" fill="#383838"/><rect x="906.15" y="80.95" width="2.4" height="3.15" fill="#383838"/><rect x="919.95" y="80.95" width="2.4" height="3.15" fill="#383838"/><rect x="880.15" y="80.95" width="11.8" height="3.15" fill="#4a4a4a"/><rect x="894.45" y="80.95" width="11.8" height="3.15" fill="#4a4a4a"/><rect x="908.45" y="80.95" width="11.6" height="3.15" fill="#4a4a4a"/><rect x="922.25" y="80.95" width="11.7" height="3.15" fill="#4a4a4a"/><rect x="891.85" y="85.8" width="2.7" height="9.15" fill="#343434"/><rect x="906.15" y="85.8" width="2.4" height="9.15" fill="#343434"/><rect x="919.95" y="85.8" width="2.4" height="9.15" fill="#343434"/><rect x="880.15" y="85.8" width="11.8" height="9.15" fill="#646464"/><rect x="894.45" y="85.8" width="11.8" height="9.15" fill="#5e5e5e"/><rect x="908.45" y="85.8" width="11.6" height="9.15" fill="#5e5e5e"/><rect x="922.25" y="85.8" width="11.7" height="9.15" fill="#585858"/><rect x="891.85" y="95.05" width="2.7" height="2.3" fill="#343434"/><rect x="906.15" y="95.05" width="2.4" height="2.3" fill="#343434"/><rect x="919.95" y="95.05" width="2.4" height="2.3" fill="#343434"/><rect x="880.15" y="95.05" width="11.8" height="2.3" fill="#808080"/><rect x="894.45" y="95.05" width="11.8" height="2.3" fill="#646464"/><rect x="908.45" y="95.05" width="11.6" height="2.3" fill="#5e5e5e"/><rect x="922.25" y="95.05" width="11.7" height="2.3" fill="#4a4a4a"/><rect x="891.85" y="97.35" width="2.7" height="3.05" fill="#343434"/><rect x="906.15" y="97.35" width="2.4" height="3.05" fill="#343434"/><rect x="919.95" y="97.35" width="2.4" height="3.05" fill="#343434"/><rect x="880.15" y="97.35" width="11.8" height="3.05" fill="#808080"/><rect x="894.45" y="97.35" width="11.8" height="3.05" fill="#646464"/><rect x="908.45" y="97.35" width="11.6" height="3.05" fill="#5e5e5e"/><rect x="922.25" y="97.35" width="11.7" height="3.05" fill="#4a4a4a"/><rect x="891.85" y="100.4" width="2.7" height="2.7" fill="#343434"/><rect x="906.15" y="100.4" width="2.4" height="2.7" fill="#343434"/><rect x="919.95" y="100.4" width="2.4" height="2.7" fill="#343434"/><rect x="880.15" y="100.4" width="11.8" height="2.7" fill="#7a7a7a"/><rect x="894.45" y="100.4" width="11.8" height="2.7" fill="#646464"/><rect x="908.45" y="100.4" width="11.6" height="2.7" fill="#5e5e5e"/><rect x="922.25" y="100.4" width="11.7" height="2.7" fill="#454545"/><rect x="891.85" y="125.8" width="2.7" height="3.65" fill="#343434"/><rect x="906.15" y="125.8" width="2.4" height="3.65" fill="#343434"/><rect x="919.95" y="125.8" width="2.4" height="3.65" fill="#343434"/><rect x="880.15" y="125.8" width="11.8" height="3.65" fill="#8a8a8a"/><rect x="894.45" y="125.8" width="11.8" height="3.65" fill="#8a8a8a"/><rect x="908.45" y="125.8" width="11.6" height="3.65" fill="#808080"/><rect x="922.25" y="125.8" width="11.7" height="3.65" fill="#6a6a6a"/><rect x="891.85" y="162.9" width="2.7" height="7.6" fill="#343434"/><rect x="906.15" y="162.9" width="2.4" height="7.6" fill="#343434"/><rect x="919.95" y="162.9" width="2.4" height="7.6" fill="#343434"/><rect x="880.15" y="162.9" width="11.8" height="7.6" fill="#9b9b9b"/><rect x="894.45" y="162.9" width="11.8" height="7.6" fill="#a3a3a3"/><rect x="908.45" y="162.9" width="11.6" height="7.6" fill="#b8b8b8"/><rect x="922.25" y="162.9" width="11.7" height="7.6" fill="#a3a3a3"/><rect x="891.85" y="170.5" width="2.7" height="6" fill="#343434"/><rect x="906.15" y="170.5" width="2.4" height="6" fill="#343434"/><rect x="919.95" y="170.5" width="2.4" height="6" fill="#343434"/><rect x="880.15" y="170.5" width="11.8" height="6" fill="#8a8a8a"/><rect x="894.45" y="170.5" width="11.8" height="6" fill="#909090"/><rect x="908.45" y="170.5" width="11.6" height="6" fill="#a3a3a3"/><rect x="922.25" y="170.5" width="11.7" height="6" fill="#858585"/><rect x="891.85" y="175.5" width="2.7" height="5.5" fill="#343434"/><rect x="906.15" y="175.5" width="2.4" height="5.5" fill="#343434"/><rect x="919.95" y="175.5" width="2.4" height="5.5" fill="#343434"/><rect x="880.15" y="175.5" width="11.8" height="5.5" fill="#adadad"/><rect x="894.45" y="175.5" width="11.8" height="5.5" fill="#adadad"/><rect x="908.45" y="175.5" width="11.6" height="5.5" fill="#a7a7a7"/><rect x="922.25" y="175.5" width="11.7" height="5.5" fill="#858585"/><rect x="891.85" y="180" width="2.7" height="4.5" fill="#343434"/><rect x="906.15" y="180" width="2.4" height="4.5" fill="#343434"/><rect x="919.95" y="180" width="2.4" height="4.5" fill="#343434"/><rect x="880.15" y="180" width="11.8" height="4.5" fill="#adadad"/><rect x="894.45" y="180" width="11.8" height="4.5" fill="#b8b8b8"/><rect x="908.45" y="180" width="11.6" height="4.5" fill="#c1c1c1"/><rect x="922.25" y="180" width="11.7" height="4.5" fill="#969696"/><rect x="891.85" y="183.5" width="2.7" height="3.7" fill="#343434"/><rect x="906.15" y="183.5" width="2.4" height="3.7" fill="#343434"/><rect x="919.95" y="183.5" width="2.4" height="3.7" fill="#343434"/><rect x="880.15" y="183.5" width="11.8" height="3.7" fill="#adadad"/><rect x="894.45" y="183.5" width="11.8" height="3.7" fill="#b8b8b8"/><rect x="908.45" y="183.5" width="11.6" height="3.7" fill="#a7a7a7"/><rect x="922.25" y="183.5" width="11.7" height="3.7" fill="#8a8a8a"/><rect x="891.85" y="407.8" width="2.7" height="6.2" fill="#343434"/><rect x="906.15" y="407.8" width="2.4" height="6.2" fill="#343434"/><rect x="919.95" y="407.8" width="2.4" height="6.2" fill="#343434"/><rect x="880.15" y="407.8" width="11.8" height="6.2" fill="#8a8a8a"/><rect x="894.45" y="407.8" width="11.8" height="6.2" fill="#757575"/><rect x="908.45" y="407.8" width="11.6" height="6.2" fill="#707070"/><rect x="922.25" y="407.8" width="11.7" height="6.2" fill="#7a7a7a"/><rect x="891.85" y="413" width="2.7" height="8.2" fill="#343434"/><rect x="906.15" y="413" width="2.4" height="8.2" fill="#343434"/><rect x="919.95" y="413" width="2.4" height="8.2" fill="#343434"/><rect x="880.15" y="413" width="11.8" height="8.2" fill="#7a7a7a"/><rect x="894.45" y="413" width="11.8" height="8.2" fill="#757575"/><rect x="908.45" y="413" width="11.6" height="8.2" fill="#707070"/><rect x="922.25" y="413" width="11.7" height="8.2" fill="#7a7a7a"/><rect x="891.85" y="421.8" width="2.7" height="8.4" fill="#343434"/><rect x="906.15" y="421.8" width="2.4" height="8.4" fill="#343434"/><rect x="919.95" y="421.8" width="2.4" height="8.4" fill="#343434"/><rect x="880.15" y="421.8" width="11.8" height="8.4" fill="#585858"/><rect x="894.45" y="421.8" width="11.8" height="8.4" fill="#585858"/><rect x="908.45" y="421.8" width="11.6" height="8.4" fill="#585858"/><rect x="922.25" y="421.8" width="11.7" height="8.4" fill="#585858"/><rect x="891.85" y="430.5" width="2.7" height="4" fill="#383838"/><rect x="906.15" y="430.5" width="2.4" height="4" fill="#383838"/><rect x="919.95" y="430.5" width="2.4" height="4" fill="#383838"/><rect x="880.15" y="430.5" width="11.8" height="4" fill="#c1c1c1"/><rect x="894.45" y="430.5" width="11.8" height="4" fill="#c1c1c1"/><rect x="908.45" y="430.5" width="11.6" height="4" fill="#c1c1c1"/><rect x="922.25" y="430.5" width="11.7" height="4" fill="#c1c1c1"/><rect x="891.85" y="433.5" width="2.7" height="3.5" fill="#383838"/><rect x="906.15" y="433.5" width="2.4" height="3.5" fill="#383838"/><rect x="919.95" y="433.5" width="2.4" height="3.5" fill="#383838"/><rect x="880.15" y="433.5" width="11.8" height="3.5" fill="#cfcfcf"/><rect x="894.45" y="433.5" width="11.8" height="3.5" fill="#c4c4c4"/><rect x="908.45" y="433.5" width="11.6" height="3.5" fill="#c4c4c4"/><rect x="922.25" y="433.5" width="11.7" height="3.5" fill="#c1c1c1"/><rect x="891.85" y="436" width="2.7" height="3.3" fill="#5e5e5e"/><rect x="906.15" y="436" width="2.4" height="3.3" fill="#5e5e5e"/><rect x="919.95" y="436" width="2.4" height="3.3" fill="#5e5e5e"/><rect x="880.15" y="436" width="11.8" height="3.3" fill="#ffffff"/><rect x="894.45" y="436" width="11.8" height="3.3" fill="#fcfcfc"/><rect x="908.45" y="436" width="11.6" height="3.3" fill="#f2f2f2"/><rect x="922.25" y="436" width="11.7" height="3.3" fill="#e2e2e2"/><rect x="891.85" y="438.3" width="2.7" height="3.1" fill="#7a7a7a"/><rect x="906.15" y="438.3" width="2.4" height="3.1" fill="#7a7a7a"/><rect x="919.95" y="438.3" width="2.4" height="3.1" fill="#7a7a7a"/><rect x="880.15" y="438.3" width="11.8" height="3.1" fill="#ffffff"/><rect x="894.45" y="438.3" width="11.8" height="3.1" fill="#fcfcfc"/><rect x="908.45" y="438.3" width="11.6" height="3.1" fill="#f2f2f2"/><rect x="922.25" y="438.3" width="11.7" height="3.1" fill="#e2e2e2"/><rect x="891.85" y="441.4" width="2.7" height="4" fill="#585858"/><rect x="906.15" y="441.4" width="2.4" height="4" fill="#585858"/><rect x="919.95" y="441.4" width="2.4" height="4" fill="#585858"/><rect x="880.15" y="441.4" width="11.8" height="4" fill="#dedede"/><rect x="894.45" y="441.4" width="11.8" height="4" fill="#cbcbcb"/><rect x="908.45" y="441.4" width="11.6" height="4" fill="#c4c4c4"/><rect x="922.25" y="441.4" width="11.7" height="4" fill="#c1c1c1"/><rect x="891.85" y="445.4" width="2.7" height="3.1" fill="#414141"/><rect x="906.15" y="445.4" width="2.4" height="3.1" fill="#414141"/><rect x="919.95" y="445.4" width="2.4" height="3.1" fill="#414141"/><rect x="880.15" y="445.4" width="11.8" height="3.1" fill="#e2e2e2"/><rect x="894.45" y="445.4" width="11.8" height="3.1" fill="#d9d9d9"/><rect x="908.45" y="445.4" width="11.6" height="3.1" fill="#d4d4d4"/><rect x="922.25" y="445.4" width="11.7" height="3.1" fill="#cfcfcf"/><rect x="891.85" y="449.55" width="2.7" height="5.8" fill="#383838"/><rect x="906.15" y="449.55" width="2.4" height="5.8" fill="#383838"/><rect x="919.95" y="449.55" width="2.4" height="5.8" fill="#383838"/><rect x="880.15" y="449.55" width="11.8" height="5.8" fill="#757575"/><rect x="894.45" y="449.55" width="11.8" height="5.8" fill="#757575"/><rect x="908.45" y="449.55" width="11.6" height="5.8" fill="#757575"/><rect x="922.25" y="449.55" width="11.7" height="5.8" fill="#757575"/><rect x="891.85" y="457.8" width="2.7" height="4.7" fill="#343434"/><rect x="906.15" y="457.8" width="2.4" height="4.7" fill="#343434"/><rect x="919.95" y="457.8" width="2.4" height="4.7" fill="#343434"/><rect x="880.15" y="457.8" width="11.8" height="4.7" fill="#4a4a4a"/><rect x="894.45" y="457.8" width="11.8" height="4.7" fill="#4a4a4a"/><rect x="908.45" y="457.8" width="11.6" height="4.7" fill="#4a4a4a"/><rect x="922.25" y="457.8" width="11.7" height="4.7" fill="#4a4a4a"/><rect x="891.85" y="462.5" width="2.7" height="3.5" fill="#343434"/><rect x="906.15" y="462.5" width="2.4" height="3.5" fill="#343434"/><rect x="919.95" y="462.5" width="2.4" height="3.5" fill="#343434"/><rect x="880.15" y="462.5" width="11.8" height="3.5" fill="#4a4a4a"/><rect x="894.45" y="462.5" width="11.8" height="3.5" fill="#4a4a4a"/><rect x="908.45" y="462.5" width="11.6" height="3.5" fill="#4a4a4a"/><rect x="922.25" y="462.5" width="11.7" height="3.5" fill="#4a4a4a"/><rect x="891.85" y="466" width="2.7" height="5.3" fill="#383838"/><rect x="906.15" y="466" width="2.4" height="5.3" fill="#383838"/><rect x="919.95" y="466" width="2.4" height="5.3" fill="#383838"/><rect x="880.15" y="466" width="11.8" height="5.3" fill="#bdbdbd"/><rect x="894.45" y="466" width="11.8" height="5.3" fill="#bdbdbd"/><rect x="908.45" y="466" width="11.6" height="5.3" fill="#bdbdbd"/><rect x="922.25" y="466" width="11.7" height="5.3" fill="#b2b2b2"/><rect x="891.85" y="471.3" width="2.7" height="7.2" fill="#383838"/><rect x="906.15" y="471.3" width="2.4" height="7.2" fill="#383838"/><rect x="919.95" y="471.3" width="2.4" height="7.2" fill="#383838"/><rect x="880.15" y="471.3" width="11.8" height="7.2" fill="#adadad"/><rect x="894.45" y="471.3" width="11.8" height="7.2" fill="#adadad"/><rect x="908.45" y="471.3" width="11.6" height="7.2" fill="#b2b2b2"/><rect x="922.25" y="471.3" width="11.7" height="7.2" fill="#9b9b9b"/><rect x="891.85" y="478.5" width="2.7" height="5.5" fill="#383838"/><rect x="906.15" y="478.5" width="2.4" height="5.5" fill="#383838"/><rect x="919.95" y="478.5" width="2.4" height="5.5" fill="#383838"/><rect x="880.15" y="478.5" width="11.8" height="5.5" fill="#b2b2b2"/><rect x="894.45" y="478.5" width="11.8" height="5.5" fill="#a3a3a3"/><rect x="908.45" y="478.5" width="11.6" height="5.5" fill="#b2b2b2"/><rect x="922.25" y="478.5" width="11.7" height="5.5" fill="#adadad"/><rect x="891.85" y="484" width="2.7" height="5.5" fill="#343434"/><rect x="906.15" y="484" width="2.4" height="5.5" fill="#343434"/><rect x="919.95" y="484" width="2.4" height="5.5" fill="#343434"/><rect x="880.15" y="484" width="11.8" height="5.5" fill="#8a8a8a"/><rect x="894.45" y="484" width="11.8" height="5.5" fill="#858585"/><rect x="908.45" y="484" width="11.6" height="5.5" fill="#858585"/><rect x="922.25" y="484" width="11.7" height="5.5" fill="#858585"/><rect x="891.85" y="489.5" width="2.7" height="3.5" fill="#343434"/><rect x="906.15" y="489.5" width="2.4" height="3.5" fill="#343434"/><rect x="919.95" y="489.5" width="2.4" height="3.5" fill="#343434"/><rect x="880.15" y="489.5" width="11.8" height="3.5" fill="#808080"/><rect x="894.45" y="489.5" width="11.8" height="3.5" fill="#808080"/><rect x="908.45" y="489.5" width="11.6" height="3.5" fill="#808080"/><rect x="922.25" y="489.5" width="11.7" height="3.5" fill="#808080"/><rect x="891.85" y="493.8" width="2.7" height="4.2" fill="#383838"/><rect x="906.15" y="493.8" width="2.4" height="4.2" fill="#383838"/><rect x="919.95" y="493.8" width="2.4" height="4.2" fill="#383838"/><rect x="880.15" y="493.8" width="11.8" height="4.2" fill="#a7a7a7"/><rect x="894.45" y="493.8" width="11.8" height="4.2" fill="#969696"/><rect x="908.45" y="493.8" width="11.6" height="4.2" fill="#969696"/><rect x="922.25" y="493.8" width="11.7" height="4.2" fill="#adadad"/><rect x="891.85" y="497" width="2.7" height="3.3" fill="#383838"/><rect x="906.15" y="497" width="2.4" height="3.3" fill="#383838"/><rect x="919.95" y="497" width="2.4" height="3.3" fill="#383838"/><rect x="880.15" y="497" width="11.8" height="3.3" fill="#c1c1c1"/><rect x="894.45" y="497" width="11.8" height="3.3" fill="#8a8a8a"/><rect x="908.45" y="497" width="11.6" height="3.3" fill="#8a8a8a"/><rect x="922.25" y="497" width="11.7" height="3.3" fill="#adadad"/><rect x="891.85" y="500.3" width="2.7" height="3.1" fill="#383838"/><rect x="906.15" y="500.3" width="2.4" height="3.1" fill="#383838"/><rect x="919.95" y="500.3" width="2.4" height="3.1" fill="#383838"/><rect x="880.15" y="500.3" width="11.8" height="3.1" fill="#a7a7a7"/><rect x="894.45" y="500.3" width="11.8" height="3.1" fill="#969696"/><rect x="908.45" y="500.3" width="11.6" height="3.1" fill="#969696"/><rect x="922.25" y="500.3" width="11.7" height="3.1" fill="#a3a3a3"/><rect x="891.85" y="503.4" width="2.7" height="5.6" fill="#383838"/><rect x="906.15" y="503.4" width="2.4" height="5.6" fill="#383838"/><rect x="919.95" y="503.4" width="2.4" height="5.6" fill="#383838"/><rect x="880.15" y="503.4" width="11.8" height="5.6" fill="#909090"/><rect x="894.45" y="503.4" width="11.8" height="5.6" fill="#adadad"/><rect x="908.45" y="503.4" width="11.6" height="5.6" fill="#adadad"/><rect x="922.25" y="503.4" width="11.7" height="5.6" fill="#adadad"/><rect x="891.85" y="508" width="2.7" height="5.75" fill="#383838"/><rect x="906.15" y="508" width="2.4" height="5.75" fill="#383838"/><rect x="919.95" y="508" width="2.4" height="5.75" fill="#383838"/><rect x="880.15" y="508" width="11.8" height="5.75" fill="#c8c8c8"/><rect x="894.45" y="508" width="11.8" height="5.75" fill="#b2b2b2"/><rect x="908.45" y="508" width="11.6" height="5.75" fill="#909090"/><rect x="922.25" y="508" width="11.7" height="5.75" fill="#909090"/><rect x="891.85" y="513.75" width="2.7" height="7.75" fill="#383838"/><rect x="906.15" y="513.75" width="2.4" height="7.75" fill="#383838"/><rect x="919.95" y="513.75" width="2.4" height="7.75" fill="#383838"/><rect x="880.15" y="513.75" width="11.8" height="7.75" fill="#858585"/><rect x="894.45" y="513.75" width="11.8" height="7.75" fill="#8a8a8a"/><rect x="908.45" y="513.75" width="11.6" height="7.75" fill="#858585"/><rect x="922.25" y="513.75" width="11.7" height="7.75" fill="#858585"/><rect x="891.85" y="522.5" width="2.7" height="2.5" fill="#383838"/><rect x="906.15" y="522.5" width="2.4" height="2.5" fill="#383838"/><rect x="919.95" y="522.5" width="2.4" height="2.5" fill="#383838"/><rect x="880.15" y="522.5" width="11.8" height="2.5" fill="#bdbdbd"/><rect x="894.45" y="522.5" width="11.8" height="2.5" fill="#bdbdbd"/><rect x="908.45" y="522.5" width="11.6" height="2.5" fill="#bdbdbd"/><rect x="922.25" y="522.5" width="11.7" height="2.5" fill="#bdbdbd"/><rect x="891.85" y="524" width="2.7" height="4.5" fill="#383838"/><rect x="906.15" y="524" width="2.4" height="4.5" fill="#383838"/><rect x="919.95" y="524" width="2.4" height="4.5" fill="#383838"/><rect x="880.15" y="524" width="11.8" height="4.5" fill="#f5f5f5"/><rect x="894.45" y="524" width="11.8" height="4.5" fill="#e8e8e8"/><rect x="908.45" y="524" width="11.6" height="4.5" fill="#e4e4e4"/><rect x="922.25" y="524" width="11.7" height="4.5" fill="#e0e0e0"/><rect x="891.85" y="527.5" width="2.7" height="1.85" fill="#383838"/><rect x="906.15" y="527.5" width="2.4" height="1.85" fill="#383838"/><rect x="919.95" y="527.5" width="2.4" height="1.85" fill="#383838"/><rect x="880.15" y="527.5" width="11.8" height="1.85" fill="#cbcbcb"/><rect x="894.45" y="527.5" width="11.8" height="1.85" fill="#d4d4d4"/><rect x="908.45" y="527.5" width="11.6" height="1.85" fill="#d4d4d4"/><rect x="922.25" y="527.5" width="11.7" height="1.85" fill="#cbcbcb"/><rect x="891.85" y="529.35" width="2.7" height="3.65" fill="#383838"/><rect x="906.15" y="529.35" width="2.4" height="3.65" fill="#383838"/><rect x="919.95" y="529.35" width="2.4" height="3.65" fill="#383838"/><rect x="880.15" y="529.35" width="11.8" height="3.65" fill="#d6d6d6"/><rect x="894.45" y="529.35" width="11.8" height="3.65" fill="#d4d4d4"/><rect x="908.45" y="529.35" width="11.6" height="3.65" fill="#d4d4d4"/><rect x="922.25" y="529.35" width="11.7" height="3.65" fill="#cfcfcf"/><rect x="891.85" y="532" width="2.7" height="3.7" fill="#5e5e5e"/><rect x="906.15" y="532" width="2.4" height="3.7" fill="#5e5e5e"/><rect x="919.95" y="532" width="2.4" height="3.7" fill="#5e5e5e"/><rect x="880.15" y="532" width="11.8" height="3.7" fill="#f2f2f2"/><rect x="894.45" y="532" width="11.8" height="3.7" fill="#f2f2f2"/><rect x="908.45" y="532" width="11.6" height="3.7" fill="#f0f0f0"/><rect x="922.25" y="532" width="11.7" height="3.7" fill="#ededed"/><rect x="891.85" y="534.7" width="2.7" height="2.3" fill="#383838"/><rect x="906.15" y="534.7" width="2.4" height="2.3" fill="#383838"/><rect x="919.95" y="534.7" width="2.4" height="2.3" fill="#383838"/><rect x="880.15" y="534.7" width="11.8" height="2.3" fill="#cacaca"/><rect x="894.45" y="534.7" width="11.8" height="2.3" fill="#cacaca"/><rect x="908.45" y="534.7" width="11.6" height="2.3" fill="#cacaca"/><rect x="922.25" y="534.7" width="11.7" height="2.3" fill="#c3c3c3"/><rect x="891.85" y="536" width="2.7" height="4.3" fill="#383838"/><rect x="906.15" y="536" width="2.4" height="4.3" fill="#383838"/><rect x="919.95" y="536" width="2.4" height="4.3" fill="#383838"/><rect x="880.15" y="536" width="11.8" height="4.3" fill="#ebebeb"/><rect x="894.45" y="536" width="11.8" height="4.3" fill="#e6e6e6"/><rect x="908.45" y="536" width="11.6" height="4.3" fill="#dbdbdb"/><rect x="922.25" y="536" width="11.7" height="4.3" fill="#d4d4d4"/><rect x="891.85" y="540.3" width="2.7" height="3.9" fill="#383838"/><rect x="906.15" y="540.3" width="2.4" height="3.9" fill="#383838"/><rect x="919.95" y="540.3" width="2.4" height="3.9" fill="#383838"/><rect x="880.15" y="540.3" width="11.8" height="3.9" fill="#8a8a8a"/><rect x="894.45" y="540.3" width="11.8" height="3.9" fill="#8a8a8a"/><rect x="908.45" y="540.3" width="11.6" height="3.9" fill="#8a8a8a"/><rect x="922.25" y="540.3" width="11.7" height="3.9" fill="#909090"/><rect x="891.85" y="544.8" width="2.7" height="12.4" fill="#343434"/><rect x="906.15" y="544.8" width="2.4" height="12.4" fill="#343434"/><rect x="919.95" y="544.8" width="2.4" height="12.4" fill="#343434"/><rect x="880.15" y="544.8" width="11.8" height="12.4" fill="#808080"/><rect x="894.45" y="544.8" width="11.8" height="12.4" fill="#707070"/><rect x="908.45" y="544.8" width="11.6" height="12.4" fill="#707070"/><rect x="922.25" y="544.8" width="11.7" height="12.4" fill="#646464"/><rect x="891.85" y="559.8" width="2.7" height="7.2" fill="#343434"/><rect x="906.15" y="559.8" width="2.4" height="7.2" fill="#343434"/><rect x="919.95" y="559.8" width="2.4" height="7.2" fill="#343434"/><rect x="880.15" y="559.8" width="11.8" height="7.2" fill="#969696"/><rect x="894.45" y="559.8" width="11.8" height="7.2" fill="#757575"/><rect x="908.45" y="559.8" width="11.6" height="7.2" fill="#858585"/><rect x="922.25" y="559.8" width="11.7" height="7.2" fill="#969696"/><rect x="891.85" y="566" width="2.7" height="7.2" fill="#343434"/><rect x="906.15" y="566" width="2.4" height="7.2" fill="#343434"/><rect x="919.95" y="566" width="2.4" height="7.2" fill="#343434"/><rect x="880.15" y="566" width="11.8" height="7.2" fill="#a3a3a3"/><rect x="894.45" y="566" width="11.8" height="7.2" fill="#adadad"/><rect x="908.45" y="566" width="11.6" height="7.2" fill="#b2b2b2"/><rect x="922.25" y="566" width="11.7" height="7.2" fill="#9b9b9b"/><rect x="891.85" y="574.8" width="2.7" height="3.7" fill="#383838"/><rect x="906.15" y="574.8" width="2.4" height="3.7" fill="#383838"/><rect x="919.95" y="574.8" width="2.4" height="3.7" fill="#383838"/><rect x="880.15" y="574.8" width="11.8" height="3.7" fill="#bdbdbd"/><rect x="894.45" y="574.8" width="11.8" height="3.7" fill="#bdbdbd"/><rect x="908.45" y="574.8" width="11.6" height="3.7" fill="#bdbdbd"/><rect x="922.25" y="574.8" width="11.7" height="3.7" fill="#bdbdbd"/><rect x="891.85" y="577.5" width="2.7" height="2.8" fill="#383838"/><rect x="906.15" y="577.5" width="2.4" height="2.8" fill="#383838"/><rect x="919.95" y="577.5" width="2.4" height="2.8" fill="#383838"/><rect x="880.15" y="577.5" width="11.8" height="2.8" fill="#c8c8c8"/><rect x="894.45" y="577.5" width="11.8" height="2.8" fill="#c8c8c8"/><rect x="908.45" y="577.5" width="11.6" height="2.8" fill="#c4c4c4"/><rect x="922.25" y="577.5" width="11.7" height="2.8" fill="#c4c4c4"/><rect x="891.85" y="580.3" width="2.7" height="5.5" fill="#383838"/><rect x="906.15" y="580.3" width="2.4" height="5.5" fill="#383838"/><rect x="919.95" y="580.3" width="2.4" height="5.5" fill="#383838"/><rect x="880.15" y="580.3" width="11.8" height="5.5" fill="#c8c8c8"/><rect x="894.45" y="580.3" width="11.8" height="5.5" fill="#c4c4c4"/><rect x="908.45" y="580.3" width="11.6" height="5.5" fill="#c4c4c4"/><rect x="922.25" y="580.3" width="11.7" height="5.5" fill="#c4c4c4"/><rect x="891.85" y="585.8" width="2.7" height="4.4" fill="#3d3d3d"/><rect x="906.15" y="585.8" width="2.4" height="4.4" fill="#3d3d3d"/><rect x="919.95" y="585.8" width="2.4" height="4.4" fill="#3d3d3d"/><rect x="880.15" y="585.8" width="11.8" height="4.4" fill="#b2b2b2"/><rect x="894.45" y="585.8" width="11.8" height="4.4" fill="#a7a7a7"/><rect x="908.45" y="585.8" width="11.6" height="4.4" fill="#9f9f9f"/><rect x="922.25" y="585.8" width="11.7" height="4.4" fill="#969696"/><rect x="891.85" y="590.8" width="2.7" height="4.4" fill="#3d3d3d"/><rect x="906.15" y="590.8" width="2.4" height="4.4" fill="#3d3d3d"/><rect x="919.95" y="590.8" width="2.4" height="4.4" fill="#3d3d3d"/><rect x="880.15" y="590.8" width="11.8" height="4.4" fill="#b8b8b8"/><rect x="894.45" y="590.8" width="11.8" height="4.4" fill="#c1c1c1"/><rect x="908.45" y="590.8" width="11.6" height="4.4" fill="#c8c8c8"/><rect x="922.25" y="590.8" width="11.7" height="4.4" fill="#c1c1c1"/><rect x="891.85" y="595.8" width="2.7" height="2.7" fill="#414141"/><rect x="906.15" y="595.8" width="2.4" height="2.7" fill="#414141"/><rect x="919.95" y="595.8" width="2.4" height="2.7" fill="#414141"/><rect x="880.15" y="595.8" width="11.8" height="2.7" fill="#b8b8b8"/><rect x="894.45" y="595.8" width="11.8" height="2.7" fill="#b8b8b8"/><rect x="908.45" y="595.8" width="11.6" height="2.7" fill="#b8b8b8"/><rect x="922.25" y="595.8" width="11.7" height="2.7" fill="#b8b8b8"/><rect x="891.85" y="600.4" width="2.7" height="4.95" fill="#383838"/><rect x="906.15" y="600.4" width="2.4" height="4.95" fill="#383838"/><rect x="919.95" y="600.4" width="2.4" height="4.95" fill="#383838"/><rect x="880.15" y="600.4" width="11.8" height="4.95" fill="#b8b8b8"/><rect x="894.45" y="600.4" width="11.8" height="4.95" fill="#b8b8b8"/><rect x="908.45" y="600.4" width="11.6" height="4.95" fill="#b8b8b8"/><rect x="922.25" y="600.4" width="11.7" height="4.95" fill="#b8b8b8"/><rect x="891.85" y="605.35" width="2.7" height="5.05" fill="#343434"/><rect x="906.15" y="605.35" width="2.4" height="5.05" fill="#343434"/><rect x="919.95" y="605.35" width="2.4" height="5.05" fill="#343434"/><rect x="880.15" y="605.35" width="11.8" height="5.05" fill="#b2b2b2"/><rect x="894.45" y="605.35" width="11.8" height="5.05" fill="#a7a7a7"/><rect x="908.45" y="605.35" width="11.6" height="5.05" fill="#c1c1c1"/><rect x="922.25" y="605.35" width="11.7" height="5.05" fill="#c1c1c1"/><rect x="891.85" y="610.4" width="2.7" height="5.6" fill="#303030"/><rect x="906.15" y="610.4" width="2.4" height="5.6" fill="#303030"/><rect x="919.95" y="610.4" width="2.4" height="5.6" fill="#303030"/><rect x="880.15" y="610.4" width="11.8" height="5.6" fill="#adadad"/><rect x="894.45" y="610.4" width="11.8" height="5.6" fill="#9b9b9b"/><rect x="908.45" y="610.4" width="11.6" height="5.6" fill="#9b9b9b"/><rect x="922.25" y="610.4" width="11.7" height="5.6" fill="#909090"/><rect x="891.85" y="615" width="2.7" height="2.5" fill="#303030"/><rect x="906.15" y="615" width="2.4" height="2.5" fill="#303030"/><rect x="919.95" y="615" width="2.4" height="2.5" fill="#303030"/><rect x="880.15" y="615" width="11.8" height="2.5" fill="#9b9b9b"/><rect x="894.45" y="615" width="11.8" height="2.5" fill="#9b9b9b"/><rect x="908.45" y="615" width="11.6" height="2.5" fill="#9b9b9b"/><rect x="922.25" y="615" width="11.7" height="2.5" fill="#9b9b9b"/><rect x="891.85" y="616.5" width="2.7" height="5" fill="#303030"/><rect x="906.15" y="616.5" width="2.4" height="5" fill="#303030"/><rect x="919.95" y="616.5" width="2.4" height="5" fill="#303030"/><rect x="880.15" y="616.5" width="11.8" height="5" fill="#c8c8c8"/><rect x="894.45" y="616.5" width="11.8" height="5" fill="#adadad"/><rect x="908.45" y="616.5" width="11.6" height="5" fill="#adadad"/><rect x="922.25" y="616.5" width="11.7" height="5" fill="#b2b2b2"/><rect x="891.85" y="620.5" width="2.7" height="2" fill="#303030"/><rect x="906.15" y="620.5" width="2.4" height="2" fill="#303030"/><rect x="919.95" y="620.5" width="2.4" height="2" fill="#303030"/><rect x="880.15" y="620.5" width="11.8" height="2" fill="#969696"/><rect x="894.45" y="620.5" width="11.8" height="2" fill="#969696"/><rect x="908.45" y="620.5" width="11.6" height="2" fill="#969696"/><rect x="922.25" y="620.5" width="11.7" height="2" fill="#969696"/><rect x="891.85" y="622.5" width="2.7" height="3" fill="#383838"/><rect x="906.15" y="622.5" width="2.4" height="3" fill="#383838"/><rect x="919.95" y="622.5" width="2.4" height="3" fill="#383838"/><rect x="880.15" y="622.5" width="11.8" height="3" fill="#8a8a8a"/><rect x="894.45" y="622.5" width="11.8" height="3" fill="#8a8a8a"/><rect x="908.45" y="622.5" width="11.6" height="3" fill="#8a8a8a"/><rect x="922.25" y="622.5" width="11.7" height="3" fill="#8a8a8a"/><rect x="891.85" y="625.5" width="2.7" height="2.5" fill="#383838"/><rect x="906.15" y="625.5" width="2.4" height="2.5" fill="#383838"/><rect x="919.95" y="625.5" width="2.4" height="2.5" fill="#383838"/><rect x="880.15" y="625.5" width="11.8" height="2.5" fill="#8a8a8a"/><rect x="894.45" y="625.5" width="11.8" height="2.5" fill="#8a8a8a"/><rect x="908.45" y="625.5" width="11.6" height="2.5" fill="#8a8a8a"/><rect x="922.25" y="625.5" width="11.7" height="2.5" fill="#8a8a8a"/><rect x="891.85" y="628" width="2.7" height="14.5" fill="#303030"/><rect x="906.15" y="628" width="2.4" height="14.5" fill="#303030"/><rect x="919.95" y="628" width="2.4" height="14.5" fill="#303030"/><rect x="880.15" y="628" width="11.8" height="14.5" fill="#969696"/><rect x="894.45" y="628" width="11.8" height="14.5" fill="#9f9f9f"/><rect x="908.45" y="628" width="11.6" height="14.5" fill="#969696"/><rect x="922.25" y="628" width="11.7" height="14.5" fill="#909090"/><rect x="891.85" y="642.5" width="2.7" height="5.9" fill="#303030"/><rect x="906.15" y="642.5" width="2.4" height="5.9" fill="#303030"/><rect x="919.95" y="642.5" width="2.4" height="5.9" fill="#303030"/><rect x="880.15" y="642.5" width="11.8" height="5.9" fill="#8a8a8a"/><rect x="894.45" y="642.5" width="11.8" height="5.9" fill="#909090"/><rect x="908.45" y="642.5" width="11.6" height="5.9" fill="#8a8a8a"/><rect x="922.25" y="642.5" width="11.7" height="5.9" fill="#8a8a8a"/><rect x="891.85" y="648.4" width="2.7" height="2.6" fill="#303030"/><rect x="906.15" y="648.4" width="2.4" height="2.6" fill="#303030"/><rect x="919.95" y="648.4" width="2.4" height="2.6" fill="#303030"/><rect x="880.15" y="648.4" width="11.8" height="2.6" fill="#969696"/><rect x="894.45" y="648.4" width="11.8" height="2.6" fill="#969696"/><rect x="908.45" y="648.4" width="11.6" height="2.6" fill="#969696"/><rect x="922.25" y="648.4" width="11.7" height="2.6" fill="#969696"/><rect x="891.85" y="650" width="2.7" height="3.5" fill="#303030"/><rect x="906.15" y="650" width="2.4" height="3.5" fill="#303030"/><rect x="919.95" y="650" width="2.4" height="3.5" fill="#303030"/><rect x="880.15" y="650" width="11.8" height="3.5" fill="#b2b2b2"/><rect x="894.45" y="650" width="11.8" height="3.5" fill="#9f9f9f"/><rect x="908.45" y="650" width="11.6" height="3.5" fill="#858585"/><rect x="922.25" y="650" width="11.7" height="3.5" fill="#7a7a7a"/><rect x="891.85" y="652.5" width="2.7" height="21" fill="#303030"/><rect x="906.15" y="652.5" width="2.4" height="21" fill="#303030"/><rect x="919.95" y="652.5" width="2.4" height="21" fill="#303030"/><rect x="880.15" y="652.5" width="11.8" height="21" fill="#969696"/><rect x="894.45" y="652.5" width="11.8" height="21" fill="#999999"/><rect x="908.45" y="652.5" width="11.6" height="21" fill="#909090"/><rect x="922.25" y="652.5" width="11.7" height="21" fill="#858585"/><rect x="891.85" y="673.5" width="2.7" height="6.5" fill="#303030"/><rect x="906.15" y="673.5" width="2.4" height="6.5" fill="#303030"/><rect x="919.95" y="673.5" width="2.4" height="6.5" fill="#303030"/><rect x="880.15" y="673.5" width="11.8" height="6.5" fill="#909090"/><rect x="894.45" y="673.5" width="11.8" height="6.5" fill="#969696"/><rect x="908.45" y="673.5" width="11.6" height="6.5" fill="#909090"/><rect x="922.25" y="673.5" width="11.7" height="6.5" fill="#858585"/><rect x="891.85" y="680" width="2.7" height="10.55" fill="#303030"/><rect x="906.15" y="680" width="2.4" height="10.55" fill="#303030"/><rect x="919.95" y="680" width="2.4" height="10.55" fill="#303030"/><rect x="880.15" y="680" width="11.8" height="10.55" fill="#909090"/><rect x="894.45" y="680" width="11.8" height="10.55" fill="#969696"/><rect x="908.45" y="680" width="11.6" height="10.55" fill="#969696"/><rect x="922.25" y="680" width="11.7" height="10.55" fill="#858585"/><rect x="891.85" y="690.55" width="2.7" height="23.8" fill="#303030"/><rect x="906.15" y="690.55" width="2.4" height="23.8" fill="#303030"/><rect x="919.95" y="690.55" width="2.4" height="23.8" fill="#303030"/><rect x="880.15" y="690.55" width="11.8" height="23.8" fill="#757575"/><rect x="894.45" y="690.55" width="11.8" height="23.8" fill="#707070"/><rect x="908.45" y="690.55" width="11.6" height="23.8" fill="#707070"/><rect x="922.25" y="690.55" width="11.7" height="23.8" fill="#646464"/><rect x="891.85" y="714.35" width="2.7" height="3.25" fill="#3f3f3f"/><rect x="906.15" y="714.35" width="2.4" height="3.25" fill="#3f3f3f"/><rect x="919.95" y="714.35" width="2.4" height="3.25" fill="#3f3f3f"/><rect x="880.15" y="714.35" width="11.8" height="3.25" fill="#6a6a6a"/><rect x="894.45" y="714.35" width="11.8" height="3.25" fill="#6a6a6a"/><rect x="908.45" y="714.35" width="11.6" height="3.25" fill="#6a6a6a"/><rect x="922.25" y="714.35" width="11.7" height="3.25" fill="#6a6a6a"/><rect x="891.85" y="717.6" width="2.7" height="1.9" fill="#3f3f3f"/><rect x="906.15" y="717.6" width="2.4" height="1.9" fill="#3f3f3f"/><rect x="919.95" y="717.6" width="2.4" height="1.9" fill="#3f3f3f"/><rect x="880.15" y="717.6" width="11.8" height="1.9" fill="#6a6a6a"/><rect x="894.45" y="717.6" width="11.8" height="1.9" fill="#6a6a6a"/><rect x="908.45" y="717.6" width="11.6" height="1.9" fill="#6a6a6a"/><rect x="922.25" y="717.6" width="11.7" height="1.9" fill="#6a6a6a"/><rect x="781.3" y="531.9" width="23" height="1" fill="#b8b8b8"/><rect x="804.3" y="531.9" width="64" height="1" fill="#5e5e5e"/></g><rect x="768.3" y="80" width="176.9" height="1.9" fill="#fff"/><rect x="768.3" y="82.9" width="176.9" height="4.1" fill="#fff"/><rect x="768.3" y="94.1" width="176.9" height="1.9" fill="#fff"/><rect x="768.3" y="96.8" width="176.9" height="1.1" fill="#fff"/><rect x="768.3" y="99.8" width="176.9" height="1.2" fill="#fff"/><rect x="768.3" y="101.9" width="176.9" height="25.1" fill="#fff"/><rect x="768.3" y="129" width="176.9" height="0.9" fill="#000"/><rect x="768.3" y="129.9" width="176.9" height="34.2" fill="#fff"/><rect x="768.3" y="170" width="176.9" height="1" fill="#000"/><rect x="768.3" y="186" width="176.9" height="2.6" fill="#000"/><rect x="768.3" y="188.6" width="176.9" height="220.4" fill="#fff"/><rect x="768.3" y="420" width="176.9" height="3" fill="#fff"/><rect x="768.3" y="429" width="176.9" height="2.7" fill="#000"/><rect x="768.3" y="440.9" width="176.9" height="1" fill="#000"/><rect x="768.3" y="444.9" width="176.9" height="1" fill="#000"/><rect x="768.3" y="448.1" width="176.9" height="0.8" fill="#000"/><rect x="768.3" y="448.9" width="176.9" height="1.3" fill="#fff"/><rect x="768.3" y="454.9" width="176.9" height="0.9" fill="#000"/><rect x="768.3" y="455.8" width="176.9" height="3.2" fill="#fff"/><rect x="768.3" y="462" width="176.9" height="1" fill="#fff"/><rect x="768.3" y="465" width="176.9" height="2" fill="#000"/><rect x="768.3" y="470.8" width="176.9" height="1" fill="#000"/><rect x="768.3" y="478" width="176.9" height="1" fill="#fff"/><rect x="768.3" y="483" width="176.9" height="2" fill="#000"/><rect x="768.3" y="489" width="176.9" height="1" fill="#fff"/><rect x="768.3" y="491.8" width="176.9" height="3.2" fill="#fff"/><rect x="768.3" y="499.8" width="176.9" height="1" fill="#000"/><rect x="768.3" y="502.8" width="176.9" height="1.2" fill="#fff"/><rect x="768.3" y="513" width="176.9" height="1.5" fill="#000"/><rect x="768.3" y="521" width="176.9" height="1" fill="#fff"/><rect x="768.3" y="522" width="176.9" height="1" fill="#000"/><rect x="768.3" y="528.85" width="176.9" height="1" fill="#000"/><rect x="768.3" y="539.8" width="176.9" height="1" fill="#000"/><rect x="768.3" y="543" width="176.9" height="3" fill="#fff"/><rect x="768.3" y="556" width="176.9" height="5" fill="#fff"/><rect x="768.3" y="572" width="176.9" height="4" fill="#fff"/><rect x="768.3" y="579.8" width="176.9" height="1" fill="#000"/><rect x="768.3" y="585" width="176.9" height="1.6" fill="#000"/><rect x="768.3" y="589" width="176.9" height="3" fill="#000"/><rect x="768.3" y="594" width="176.9" height="3" fill="#000"/><rect x="768.3" y="598" width="176.9" height="1" fill="#fff"/><rect x="768.3" y="599" width="176.9" height="2.6" fill="#000"/><rect x="768.3" y="604.85" width="176.9" height="1" fill="#000"/><rect x="768.3" y="609.9" width="176.9" height="1" fill="#000"/><rect x="768.3" y="622" width="176.9" height="1" fill="#fff"/><rect x="768.3" y="625" width="176.9" height="1" fill="#fff"/><rect x="768.3" y="627" width="176.9" height="2" fill="#fff"/><rect x="768.3" y="642" width="176.9" height="1" fill="#fff"/><rect x="768.3" y="647.9" width="176.9" height="1" fill="#000"/><rect x="768.3" y="673" width="176.9" height="1" fill="#fff"/><rect x="768.3" y="679" width="176.9" height="2" fill="#fff"/><rect x="768.3" y="690.05" width="176.9" height="1" fill="#000"/><rect x="768.3" y="713.85" width="176.9" height="1" fill="#000"/><rect x="768.3" y="717" width="176.9" height="1.2" fill="#fff"/></g><path d="M131.5 80 V720.6 M308.5 80 V720.6 M131 80.5 H309" fill="none" stroke="#000" stroke-width="1.08"/><path d="M131 720 H309" fill="none" stroke="#000" stroke-width="1.5"/><path d="M173.5 720 v-5.5 M173.5 80.5 v5.5" stroke="#000" stroke-width="0.8" fill="none"/><path d="M214.5 720 v-5.5 M214.5 80.5 v5.5" stroke="#000" stroke-width="0.8" fill="none"/><path d="M256.5 720 v-5.5 M256.5 80.5 v5.5" stroke="#000" stroke-width="0.8" fill="none"/><path d="M297.5 720 v-5.5 M297.5 80.5 v5.5" stroke="#000" stroke-width="0.8" fill="none"/><path d="M131.5 587.5 h5.5 M308.5 587.5 h-5.5" stroke="#000" stroke-width="0.8" fill="none"/><path d="M131.5 453.5 h5.5 M308.5 453.5 h-5.5" stroke="#000" stroke-width="0.8" fill="none"/><path d="M131.5 320.5 h5.5 M308.5 320.5 h-5.5" stroke="#000" stroke-width="0.8" fill="none"/><path d="M131.5 187.5 h5.5 M308.5 187.5 h-5.5" stroke="#000" stroke-width="0.8" fill="none"/><path d="M344.5 80 V720.6 M520.5 80 V720.6 M344 80.5 H521" fill="none" stroke="#000" stroke-width="1.08"/><path d="M344 720 H521" fill="none" stroke="#000" stroke-width="1.5"/><path d="M385.5 720 v-5.5 M385.5 80.5 v5.5" stroke="#000" stroke-width="0.8" fill="none"/><path d="M426.5 720 v-5.5 M426.5 80.5 v5.5" stroke="#000" stroke-width="0.8" fill="none"/><path d="M468.5 720 v-5.5 M468.5 80.5 v5.5" stroke="#000" stroke-width="0.8" fill="none"/><path d="M509.5 720 v-5.5 M509.5 80.5 v5.5" stroke="#000" stroke-width="0.8" fill="none"/><path d="M344.5 587.5 h5.5 M520.5 587.5 h-5.5" stroke="#000" stroke-width="0.8" fill="none"/><path d="M344.5 453.5 h5.5 M520.5 453.5 h-5.5" stroke="#000" stroke-width="0.8" fill="none"/><path d="M344.5 320.5 h5.5 M520.5 320.5 h-5.5" stroke="#000" stroke-width="0.8" fill="none"/><path d="M344.5 187.5 h5.5 M520.5 187.5 h-5.5" stroke="#000" stroke-width="0.8" fill="none"/><path d="M556.5 80 V720.6 M733.5 80 V720.6 M556 80.5 H734" fill="none" stroke="#000" stroke-width="1.08"/><path d="M556 720 H734" fill="none" stroke="#000" stroke-width="1.5"/><path d="M597.5 720 v-5.5 M597.5 80.5 v5.5" stroke="#000" stroke-width="0.8" fill="none"/><path d="M639.5 720 v-5.5 M639.5 80.5 v5.5" stroke="#000" stroke-width="0.8" fill="none"/><path d="M680.5 720 v-5.5 M680.5 80.5 v5.5" stroke="#000" stroke-width="0.8" fill="none"/><path d="M722.5 720 v-5.5 M722.5 80.5 v5.5" stroke="#000" stroke-width="0.8" fill="none"/><path d="M556.5 587.5 h5.5 M733.5 587.5 h-5.5" stroke="#000" stroke-width="0.8" fill="none"/><path d="M556.5 453.5 h5.5 M733.5 453.5 h-5.5" stroke="#000" stroke-width="0.8" fill="none"/><path d="M556.5 320.5 h5.5 M733.5 320.5 h-5.5" stroke="#000" stroke-width="0.8" fill="none"/><path d="M556.5 187.5 h5.5 M733.5 187.5 h-5.5" stroke="#000" stroke-width="0.8" fill="none"/><path d="M768.5 80 V720.6 M945.5 80 V720.6 M768 80.5 H946" fill="none" stroke="#000" stroke-width="1.08"/><path d="M768 720 H946" fill="none" stroke="#000" stroke-width="1.5"/><path d="M810.5 720 v-5.5 M810.5 80.5 v5.5" stroke="#000" stroke-width="0.8" fill="none"/><path d="M851.5 720 v-5.5 M851.5 80.5 v5.5" stroke="#000" stroke-width="0.8" fill="none"/><path d="M892.5 720 v-5.5 M892.5 80.5 v5.5" stroke="#000" stroke-width="0.8" fill="none"/><path d="M934.5 720 v-5.5 M934.5 80.5 v5.5" stroke="#000" stroke-width="0.8" fill="none"/><path d="M768.5 587.5 h5.5 M945.5 587.5 h-5.5" stroke="#000" stroke-width="0.8" fill="none"/><path d="M768.5 453.5 h5.5 M945.5 453.5 h-5.5" stroke="#000" stroke-width="0.8" fill="none"/><path d="M768.5 320.5 h5.5 M945.5 320.5 h-5.5" stroke="#000" stroke-width="0.8" fill="none"/><path d="M768.5 187.5 h5.5 M945.5 187.5 h-5.5" stroke="#000" stroke-width="0.8" fill="none"/><rect x="1019.3" y="160.3" width="15.4" height="480" fill="url(#cb)" stroke="#000" stroke-width="1.1"/><path d="M1019.3 256.3 h5 M1034.7 256.3 h-5" stroke="#000" stroke-width="0.9" fill="none"/><path d="M1019.3 352.3 h5 M1034.7 352.3 h-5" stroke="#000" stroke-width="0.9" fill="none"/><path d="M1019.3 448.3 h5 M1034.7 448.3 h-5" stroke="#000" stroke-width="0.9" fill="none"/><path d="M1019.3 544.3 h5 M1034.7 544.3 h-5" stroke="#000" stroke-width="0.9" fill="none"/><path d="M1022.38 160.3 v5.5 M1022.38 640.3 v-5.5" stroke="#000" stroke-width="0.8" fill="none"/><path d="M1025.46 160.3 v5.5 M1025.46 640.3 v-5.5" stroke="#000" stroke-width="0.8" fill="none"/><path d="M1028.54 160.3 v5.5 M1028.54 640.3 v-5.5" stroke="#000" stroke-width="0.8" fill="none"/><path d="M1031.62 160.3 v5.5 M1031.62 640.3 v-5.5" stroke="#000" stroke-width="0.8" fill="none"/><path d="M1017.5 646.7 H1035.5" stroke="#777" stroke-width="0.7" stroke-dasharray="0.8 2.3" fill="none"/><text x="131.3" y="735.4" text-anchor="middle" class="tk">320</text><text x="173.3" y="735.4" text-anchor="middle" class="tk">335</text><text x="214.3" y="735.4" text-anchor="middle" class="tk">350</text><text x="256.3" y="735.4" text-anchor="middle" class="tk">365</text><text x="297.3" y="735.4" text-anchor="middle" class="tk">380</text><text x="125.8" y="723.5" text-anchor="end" class="tk">0</text><text x="125.8" y="591" text-anchor="end" class="tk">5</text><text x="125.8" y="457" text-anchor="end" class="tk">10</text><text x="125.8" y="324" text-anchor="end" class="tk">15</text><text x="125.8" y="191" text-anchor="end" class="tk">20</text><text x="220.2" y="73" text-anchor="middle" class="tt">XX, V8*V9=EA07*EA02</text><text x="344.3" y="735.4" text-anchor="middle" class="tk">320</text><text x="385.3" y="735.4" text-anchor="middle" class="tk">335</text><text x="426.3" y="735.4" text-anchor="middle" class="tk">350</text><text x="468.3" y="735.4" text-anchor="middle" class="tk">365</text><text x="509.3" y="735.4" text-anchor="middle" class="tk">380</text><text x="338.8" y="723.5" text-anchor="end" class="tk">0</text><text x="338.8" y="591" text-anchor="end" class="tk">5</text><text x="338.8" y="457" text-anchor="end" class="tk">10</text><text x="338.8" y="324" text-anchor="end" class="tk">15</text><text x="338.8" y="191" text-anchor="end" class="tk">20</text><text x="432.48" y="73" text-anchor="middle" class="tt">YY, V8*V9=EA07*EA02</text><text x="556.3" y="735.4" text-anchor="middle" class="tk">320</text><text x="597.3" y="735.4" text-anchor="middle" class="tk">335</text><text x="639.3" y="735.4" text-anchor="middle" class="tk">350</text><text x="680.3" y="735.4" text-anchor="middle" class="tk">365</text><text x="722.3" y="735.4" text-anchor="middle" class="tk">380</text><text x="550.8" y="723.5" text-anchor="end" class="tk">0</text><text x="550.8" y="591" text-anchor="end" class="tk">5</text><text x="550.8" y="457" text-anchor="end" class="tk">10</text><text x="550.8" y="324" text-anchor="end" class="tk">15</text><text x="550.8" y="191" text-anchor="end" class="tk">20</text><text x="644.9" y="73" text-anchor="middle" class="tt">XY, V8*V9=EA07*EA02</text><text x="768.3" y="735.4" text-anchor="middle" class="tk">320</text><text x="810.3" y="735.4" text-anchor="middle" class="tk">335</text><text x="851.3" y="735.4" text-anchor="middle" class="tk">350</text><text x="892.3" y="735.4" text-anchor="middle" class="tk">365</text><text x="934.3" y="735.4" text-anchor="middle" class="tk">380</text><text x="762.8" y="723.5" text-anchor="end" class="tk">0</text><text x="762.8" y="591" text-anchor="end" class="tk">5</text><text x="762.8" y="457" text-anchor="end" class="tk">10</text><text x="762.8" y="324" text-anchor="end" class="tk">15</text><text x="762.8" y="191" text-anchor="end" class="tk">20</text><text x="857.25" y="73" text-anchor="middle" class="tt">YX, V8*V9=EA07*EA02</text><text x="1013.4" y="163.4" text-anchor="end" class="cb">1</text><text x="1013.4" y="259.4" text-anchor="end" class="cb">0</text><text x="1013.4" y="355.4" text-anchor="end" class="cb">−1</text><text x="1013.4" y="451.4" text-anchor="end" class="cb">−2</text><text x="1013.4" y="547.4" text-anchor="end" class="cb">−3</text><text x="1013.4" y="643.4" text-anchor="end" class="cb">−4</text><text x="589.5" y="26" text-anchor="middle" class="st">2023-05-10 0.0-24.0</text><text x="483.5" y="754.8" text-anchor="middle" class="lb">frequency (MHz)</text><text transform="translate(100.8,400) rotate(-90)" text-anchor="middle" class="lb">UT (hours)</text><text transform="translate(984.8,400.5) rotate(-90)" text-anchor="middle" class="lb">log<tspan dy="2.2" style="font-size:8.75px">10</tspan><tspan dy="-2.2"> amplitude</tspan></text></svg></body></html>
